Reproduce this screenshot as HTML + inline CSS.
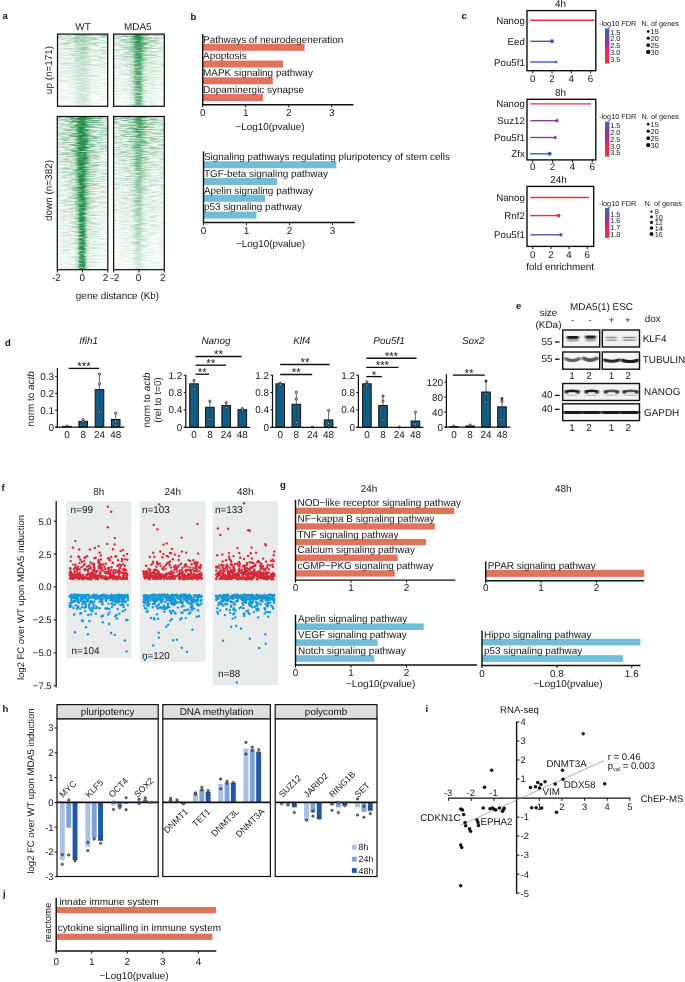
<!DOCTYPE html>
<html lang="en"><head><meta charset="utf-8"><title>Figure</title>
<style>
html,body{margin:0;padding:0;background:#fff}
svg{display:block;will-change:transform;text-rendering:geometricPrecision}
svg{font-family:"Liberation Sans",Arial,sans-serif;font-size:9.94px}
svg text{fill:#151515}
</style></head><body>
<svg width="685" height="982" viewBox="0 0 685 982">
<rect width="685" height="982" fill="#fff"/>
<defs>
<filter id="hm" x="0" y="0" width="1" height="1" color-interpolation-filters="sRGB">
<feTurbulence type="fractalNoise" baseFrequency="0.1 0.85" numOctaves="3" seed="7" result="t"/>
<feColorMatrix in="t" type="matrix" values="0 0 0 0 1  0 0 0 0 1  0 0 0 0 1  2.4 0 0 0 -0.85" result="n"/>
<feComposite in="n" in2="SourceGraphic" operator="arithmetic" k1="0.9" k2="0" k3="0.1" k4="0"/>
</filter>
<filter id="hm2" x="0" y="0" width="1" height="1" color-interpolation-filters="sRGB">
<feTurbulence type="fractalNoise" baseFrequency="0.12 0.8" numOctaves="2" seed="11" result="t"/>
<feColorMatrix in="t" type="matrix" values="0 0 0 0 1  0 0 0 0 1  0 0 0 0 1  2.4 0 0 0 -0.32" result="n"/>
<feComposite in="n" in2="SourceGraphic" operator="arithmetic" k1="1" k2="0" k3="0" k4="0"/>
</filter>
<linearGradient id="bandS" x1="0" y1="0" x2="1" y2="0"><stop offset="0" stop-color="#1d8c44" stop-opacity="0"/><stop offset=".22" stop-color="#1d8c44" stop-opacity=".15"/><stop offset=".36" stop-color="#1d8c44" stop-opacity=".8"/><stop offset=".44" stop-color="#1d8c44" stop-opacity="1"/><stop offset=".56" stop-color="#1d8c44" stop-opacity="1"/><stop offset=".64" stop-color="#1d8c44" stop-opacity=".8"/><stop offset=".78" stop-color="#1d8c44" stop-opacity=".15"/><stop offset="1" stop-color="#1d8c44" stop-opacity="0"/></linearGradient>
<linearGradient id="haloS" x1="0" y1="0" x2="1" y2="0"><stop offset="0" stop-color="#1d8c44" stop-opacity="0"/><stop offset=".5" stop-color="#1d8c44" stop-opacity="1"/><stop offset="1" stop-color="#1d8c44" stop-opacity="0"/></linearGradient>
</defs>
<text x="2.40" y="19.30" font-size="9.5" font-weight="bold">a</text>
<text x="83.00" y="30.30" text-anchor="middle">WT</text>
<text x="137.80" y="30.30" text-anchor="middle">MDA5</text>
<defs><linearGradient id="hg1" gradientUnits="userSpaceOnUse" x1="0" y1="34.1" x2="0" y2="106.3"><stop offset="0" stop-color="#fff" stop-opacity="1"/><stop offset="0.1" stop-color="#fff" stop-opacity="0.66"/><stop offset="0.5" stop-color="#fff" stop-opacity="0.36"/><stop offset="1" stop-color="#fff" stop-opacity="0.17"/></linearGradient><mask id="hk1"><rect x="57.5" y="34.1" width="50.2" height="72.2" fill="url(#hg1)"/></mask></defs>
<g filter="url(#hm)"><rect x="57.5" y="34.1" width="50.2" height="72.2" fill="#1d8c44" fill-opacity="0.6" mask="url(#hk1)"/></g>
<g filter="url(#hm2)">
<defs><linearGradient id="hg2" gradientUnits="userSpaceOnUse" x1="0" y1="34.1" x2="0" y2="106.3"><stop offset="0" stop-color="#fff" stop-opacity="1"/><stop offset="0.15" stop-color="#fff" stop-opacity="0.8"/><stop offset="1" stop-color="#fff" stop-opacity="0.45"/></linearGradient><mask id="hk2"><rect x="57.5" y="34.1" width="50.2" height="72.2" fill="url(#hg2)"/></mask></defs>
<g mask="url(#hk2)"><rect x="65.2" y="34.1" width="34.0" height="72.2" fill="url(#bandS)" fill-opacity="0.3"/></g>
</g>
<rect x="57.50" y="34.10" width="50.20" height="72.20" fill="none" stroke="#111" stroke-width="1.25"/>
<defs><linearGradient id="hg3" gradientUnits="userSpaceOnUse" x1="0" y1="34.1" x2="0" y2="106.3"><stop offset="0" stop-color="#fff" stop-opacity="1"/><stop offset="0.1" stop-color="#fff" stop-opacity="0.66"/><stop offset="0.5" stop-color="#fff" stop-opacity="0.36"/><stop offset="1" stop-color="#fff" stop-opacity="0.17"/></linearGradient><mask id="hk3"><rect x="113.6" y="34.1" width="50.7" height="72.2" fill="url(#hg3)"/></mask></defs>
<g filter="url(#hm)"><rect x="113.6" y="34.1" width="50.7" height="72.2" fill="#1d8c44" fill-opacity="0.6" mask="url(#hk3)"/></g>
<defs><linearGradient id="hg4" gradientUnits="userSpaceOnUse" x1="0" y1="34.1" x2="0" y2="106.3"><stop offset="0" stop-color="#fff" stop-opacity="1"/><stop offset="0.5" stop-color="#fff" stop-opacity="0.5"/><stop offset="1" stop-color="#fff" stop-opacity="0.2"/></linearGradient><mask id="hk4"><rect x="113.6" y="34.1" width="50.7" height="72.2" fill="url(#hg4)"/></mask></defs>
<g filter="url(#hm)"><g mask="url(#hk4)"><rect x="118.5" y="34.1" width="40.0" height="72.2" fill="url(#haloS)" fill-opacity="0.6"/></g></g>
<g filter="url(#hm2)">
<defs><linearGradient id="hg5" gradientUnits="userSpaceOnUse" x1="0" y1="34.1" x2="0" y2="106.3"><stop offset="0" stop-color="#fff" stop-opacity="1"/><stop offset="1" stop-color="#fff" stop-opacity="0.82"/></linearGradient><mask id="hk5"><rect x="113.6" y="34.1" width="50.7" height="72.2" fill="url(#hg5)"/></mask></defs>
<g mask="url(#hk5)"><rect x="129.0" y="34.1" width="19.0" height="72.2" fill="url(#bandS)" fill-opacity="0.82"/></g>
<defs><linearGradient id="hg6" gradientUnits="userSpaceOnUse" x1="0" y1="34.1" x2="0" y2="106.3"><stop offset="0" stop-color="#fff" stop-opacity="1"/><stop offset="0.4" stop-color="#fff" stop-opacity="0.2"/><stop offset="1" stop-color="#fff" stop-opacity="0"/></linearGradient><mask id="hk6"><rect x="113.6" y="34.1" width="50.7" height="72.2" fill="url(#hg6)"/></mask></defs>
<g mask="url(#hk6)"><rect x="122.5" y="34.1" width="32.0" height="72.2" fill="url(#bandS)" fill-opacity="0.5"/></g>
</g>
<rect x="113.60" y="34.10" width="50.70" height="72.20" fill="none" stroke="#111" stroke-width="1.25"/>
<defs><linearGradient id="hg7" gradientUnits="userSpaceOnUse" x1="0" y1="116.5" x2="0" y2="269.7"><stop offset="0" stop-color="#fff" stop-opacity="1"/><stop offset="0.05" stop-color="#fff" stop-opacity="0.72"/><stop offset="0.35" stop-color="#fff" stop-opacity="0.44"/><stop offset="0.7" stop-color="#fff" stop-opacity="0.25"/><stop offset="1" stop-color="#fff" stop-opacity="0.15"/></linearGradient><mask id="hk7"><rect x="57.3" y="116.5" width="50.5" height="153.2" fill="url(#hg7)"/></mask></defs>
<g filter="url(#hm)"><rect x="57.3" y="116.5" width="50.5" height="153.2" fill="#1d8c44" fill-opacity="0.72" mask="url(#hk7)"/></g>
<defs><linearGradient id="hg8" gradientUnits="userSpaceOnUse" x1="0" y1="116.5" x2="0" y2="269.7"><stop offset="0" stop-color="#fff" stop-opacity="1"/><stop offset="0.4" stop-color="#fff" stop-opacity="0.6"/><stop offset="1" stop-color="#fff" stop-opacity="0.15"/></linearGradient><mask id="hk8"><rect x="57.3" y="116.5" width="50.5" height="153.2" fill="url(#hg8)"/></mask></defs>
<g filter="url(#hm)"><g mask="url(#hk8)"><rect x="60.1" y="116.5" width="44.0" height="153.2" fill="url(#haloS)" fill-opacity="0.9"/></g></g>
<g filter="url(#hm2)">
<defs><linearGradient id="hg9" gradientUnits="userSpaceOnUse" x1="0" y1="116.5" x2="0" y2="269.7"><stop offset="0" stop-color="#fff" stop-opacity="1"/><stop offset="1" stop-color="#fff" stop-opacity="0.95"/></linearGradient><mask id="hk9"><rect x="57.3" y="116.5" width="50.5" height="153.2" fill="url(#hg9)"/></mask></defs>
<g mask="url(#hk9)"><rect x="74.1" y="116.5" width="16.0" height="153.2" fill="url(#bandS)" fill-opacity="1.0"/></g>
<defs><linearGradient id="hg10" gradientUnits="userSpaceOnUse" x1="0" y1="116.5" x2="0" y2="269.7"><stop offset="0" stop-color="#fff" stop-opacity="1"/><stop offset="1" stop-color="#fff" stop-opacity="0.9"/></linearGradient><mask id="hk10"><rect x="57.3" y="116.5" width="50.5" height="153.2" fill="url(#hg10)"/></mask></defs>
<g mask="url(#hk10)"><rect x="75.1" y="116.5" width="14.0" height="153.2" fill="url(#bandS)" fill-opacity="0.6"/></g>
<defs><linearGradient id="hg11" gradientUnits="userSpaceOnUse" x1="0" y1="116.5" x2="0" y2="269.7"><stop offset="0" stop-color="#fff" stop-opacity="1"/><stop offset="0.3" stop-color="#fff" stop-opacity="0.7"/><stop offset="0.7" stop-color="#fff" stop-opacity="0.15"/><stop offset="1" stop-color="#fff" stop-opacity="0"/></linearGradient><mask id="hk11"><rect x="57.3" y="116.5" width="50.5" height="153.2" fill="url(#hg11)"/></mask></defs>
<g mask="url(#hk11)"><rect x="68.6" y="116.5" width="27.0" height="153.2" fill="url(#bandS)" fill-opacity="0.9"/></g>
</g>
<rect x="57.30" y="116.50" width="50.50" height="153.20" fill="none" stroke="#111" stroke-width="1.25"/>
<defs><linearGradient id="hg12" gradientUnits="userSpaceOnUse" x1="0" y1="116.5" x2="0" y2="269.7"><stop offset="0" stop-color="#fff" stop-opacity="1"/><stop offset="0.05" stop-color="#fff" stop-opacity="0.72"/><stop offset="0.35" stop-color="#fff" stop-opacity="0.44"/><stop offset="0.7" stop-color="#fff" stop-opacity="0.25"/><stop offset="1" stop-color="#fff" stop-opacity="0.15"/></linearGradient><mask id="hk12"><rect x="113.6" y="116.5" width="50.7" height="153.2" fill="url(#hg12)"/></mask></defs>
<g filter="url(#hm)"><rect x="113.6" y="116.5" width="50.7" height="153.2" fill="#1d8c44" fill-opacity="0.72" mask="url(#hk12)"/></g>
<defs><linearGradient id="hg13" gradientUnits="userSpaceOnUse" x1="0" y1="116.5" x2="0" y2="269.7"><stop offset="0" stop-color="#fff" stop-opacity="1"/><stop offset="0.4" stop-color="#fff" stop-opacity="0.4"/><stop offset="1" stop-color="#fff" stop-opacity="0.1"/></linearGradient><mask id="hk13"><rect x="113.6" y="116.5" width="50.7" height="153.2" fill="url(#hg13)"/></mask></defs>
<g filter="url(#hm)"><g mask="url(#hk13)"><rect x="118.5" y="116.5" width="40.0" height="153.2" fill="url(#haloS)" fill-opacity="0.5"/></g></g>
<g filter="url(#hm2)">
<defs><linearGradient id="hg14" gradientUnits="userSpaceOnUse" x1="0" y1="116.5" x2="0" y2="269.7"><stop offset="0" stop-color="#fff" stop-opacity="1"/><stop offset="0.4" stop-color="#fff" stop-opacity="0.65"/><stop offset="1" stop-color="#fff" stop-opacity="0.22"/></linearGradient><mask id="hk14"><rect x="113.6" y="116.5" width="50.7" height="153.2" fill="url(#hg14)"/></mask></defs>
<g mask="url(#hk14)"><rect x="130.5" y="116.5" width="16.0" height="153.2" fill="url(#bandS)" fill-opacity="0.6"/></g>
<defs><linearGradient id="hg15" gradientUnits="userSpaceOnUse" x1="0" y1="116.5" x2="0" y2="269.7"><stop offset="0" stop-color="#fff" stop-opacity="1"/><stop offset="0.3" stop-color="#fff" stop-opacity="0.3"/><stop offset="1" stop-color="#fff" stop-opacity="0"/></linearGradient><mask id="hk15"><rect x="113.6" y="116.5" width="50.7" height="153.2" fill="url(#hg15)"/></mask></defs>
<g mask="url(#hk15)"><rect x="123.5" y="116.5" width="30.0" height="153.2" fill="url(#bandS)" fill-opacity="0.35"/></g>
</g>
<rect x="113.60" y="116.50" width="50.70" height="153.20" fill="none" stroke="#111" stroke-width="1.25"/>
<text x="52.00" y="70.00" text-anchor="middle" transform="rotate(-90 52.00 70.00)">up (n=171)</text>
<text x="52.00" y="190.50" text-anchor="middle" transform="rotate(-90 52.00 190.50)">down (n=382)</text>
<line x1="57.30" y1="270.00" x2="57.30" y2="272.50" stroke="#111" stroke-width="1"/>
<text x="56.30" y="281.00" text-anchor="middle">-2</text>
<line x1="82.55" y1="270.00" x2="82.55" y2="272.50" stroke="#111" stroke-width="1"/>
<text x="82.15" y="281.00" text-anchor="middle">0</text>
<line x1="107.80" y1="270.00" x2="107.80" y2="272.50" stroke="#111" stroke-width="1"/>
<text x="105.60" y="281.00" text-anchor="middle">2</text>
<line x1="113.60" y1="270.00" x2="113.60" y2="272.50" stroke="#111" stroke-width="1"/>
<text x="114.80" y="281.00" text-anchor="middle">-2</text>
<line x1="138.95" y1="270.00" x2="138.95" y2="272.50" stroke="#111" stroke-width="1"/>
<text x="138.55" y="281.00" text-anchor="middle">0</text>
<line x1="164.30" y1="270.00" x2="164.30" y2="272.50" stroke="#111" stroke-width="1"/>
<text x="162.70" y="281.00" text-anchor="middle">2</text>
<text x="117.50" y="299.00" text-anchor="middle">gene distance (Kb)</text>
<text x="190.50" y="20.00" font-size="9.5" font-weight="bold">b</text>
<rect x="202.70" y="43.80" width="101.91" height="7.00" fill="#e0735c"/>
<rect x="202.70" y="60.55" width="80.41" height="7.00" fill="#e0735c"/>
<rect x="202.70" y="77.30" width="70.09" height="7.00" fill="#e0735c"/>
<rect x="202.70" y="94.05" width="60.20" height="7.00" fill="#e0735c"/>
<text x="203.10" y="42.50">Pathways of neurodegeneration</text>
<text x="203.10" y="59.25">Apoptosis</text>
<text x="203.10" y="76.00">MAPK signaling pathway</text>
<text x="203.10" y="92.75">Dopaminergic synapse</text>
<line x1="202.70" y1="34.00" x2="202.70" y2="105.42" stroke="#111" stroke-width="1.45"/>
<line x1="201.97" y1="104.70" x2="353.50" y2="104.70" stroke="#111" stroke-width="1.45"/>
<line x1="202.70" y1="104.70" x2="202.70" y2="107.30" stroke="#111" stroke-width="1"/>
<text x="202.70" y="116.20" text-anchor="middle">0</text>
<line x1="245.70" y1="104.70" x2="245.70" y2="107.30" stroke="#111" stroke-width="1"/>
<text x="245.70" y="116.20" text-anchor="middle">1</text>
<line x1="288.70" y1="104.70" x2="288.70" y2="107.30" stroke="#111" stroke-width="1"/>
<text x="288.70" y="116.20" text-anchor="middle">2</text>
<line x1="331.70" y1="104.70" x2="331.70" y2="107.30" stroke="#111" stroke-width="1"/>
<text x="331.70" y="116.20" text-anchor="middle">3</text>
<text x="270.00" y="130.20" text-anchor="middle">−Log10(pvalue)</text>
<rect x="203.50" y="161.30" width="132.87" height="7.00" fill="#72bcd8"/>
<rect x="203.50" y="178.05" width="73.53" height="7.00" fill="#72bcd8"/>
<rect x="203.50" y="194.80" width="61.92" height="7.00" fill="#72bcd8"/>
<rect x="203.50" y="211.55" width="52.89" height="7.00" fill="#72bcd8"/>
<text x="203.90" y="160.00">Signaling pathways regulating pluripotency of stem cells</text>
<text x="203.90" y="176.75">TGF-beta signaling pathway</text>
<text x="203.90" y="193.50">Apelin signaling pathway</text>
<text x="203.90" y="210.25">p53 signaling pathway</text>
<line x1="203.50" y1="151.40" x2="203.50" y2="223.22" stroke="#111" stroke-width="1.45"/>
<line x1="202.78" y1="222.50" x2="355.00" y2="222.50" stroke="#111" stroke-width="1.45"/>
<line x1="203.50" y1="222.50" x2="203.50" y2="225.10" stroke="#111" stroke-width="1"/>
<text x="203.50" y="234.00" text-anchor="middle">0</text>
<line x1="246.50" y1="222.50" x2="246.50" y2="225.10" stroke="#111" stroke-width="1"/>
<text x="246.50" y="234.00" text-anchor="middle">1</text>
<line x1="289.50" y1="222.50" x2="289.50" y2="225.10" stroke="#111" stroke-width="1"/>
<text x="289.50" y="234.00" text-anchor="middle">2</text>
<line x1="332.50" y1="222.50" x2="332.50" y2="225.10" stroke="#111" stroke-width="1"/>
<text x="332.50" y="234.00" text-anchor="middle">3</text>
<text x="270.50" y="247.30" text-anchor="middle">−Log10(pvalue)</text>
<text x="461.50" y="19.30" font-size="9.5" font-weight="bold">c</text>
<defs><linearGradient id="cb1" x1="0" y1="0" x2="0" y2="1"><stop offset="0" stop-color="#3e62ba"/><stop offset=".15" stop-color="#4a5eb4"/><stop offset=".24" stop-color="#7a42a0"/><stop offset=".36" stop-color="#88399c"/><stop offset=".46" stop-color="#b52b8c"/><stop offset=".56" stop-color="#c92a7c"/><stop offset=".66" stop-color="#e62c5a"/><stop offset="1" stop-color="#ef3049"/></linearGradient></defs>
<text x="560.50" y="7.20" text-anchor="middle">4h</text>
<rect x="527.00" y="10.60" width="68.80" height="60.10" fill="none" stroke="#111" stroke-width="1.4"/>
<text x="524.80" y="23.70" font-size="9.7" text-anchor="end">Nanog</text>
<line x1="530.30" y1="20.20" x2="593.50" y2="20.20" stroke="#ee2d45" stroke-width="1.4"/>
<circle cx="593.50" cy="20.20" r="0.9" fill="#ee2d45"/>
<text x="524.80" y="44.80" font-size="9.7" text-anchor="end">Eed</text>
<line x1="530.30" y1="41.30" x2="552.00" y2="41.30" stroke="#445aaf" stroke-width="1.4"/>
<circle cx="552.00" cy="41.30" r="2.0" fill="#445aaf"/>
<text x="524.80" y="65.50" font-size="9.7" text-anchor="end">Pou5f1</text>
<line x1="530.30" y1="62.00" x2="556.05" y2="62.00" stroke="#445aaf" stroke-width="1.4"/>
<circle cx="556.05" cy="62.00" r="1.3" fill="#445aaf"/>
<line x1="532.70" y1="70.70" x2="532.70" y2="73.30" stroke="#111" stroke-width="1"/>
<text x="532.70" y="82.10" font-size="9.8" text-anchor="middle">0</text>
<line x1="552.00" y1="70.70" x2="552.00" y2="73.30" stroke="#111" stroke-width="1"/>
<text x="552.00" y="82.10" font-size="9.8" text-anchor="middle">2</text>
<line x1="571.30" y1="70.70" x2="571.30" y2="73.30" stroke="#111" stroke-width="1"/>
<text x="571.30" y="82.10" font-size="9.8" text-anchor="middle">4</text>
<line x1="590.60" y1="70.70" x2="590.60" y2="73.30" stroke="#111" stroke-width="1"/>
<text x="590.60" y="82.10" font-size="9.8" text-anchor="middle">6</text>
<text x="599.00" y="25.90" font-size="7.3">-log10 FDR</text>
<text x="641.60" y="25.90" font-size="7.3">N. of genes</text>
<rect x="605.00" y="28.40" width="4.40" height="35.10" fill="url(#cb1)"/>
<text x="610.20" y="34.50" font-size="7.3">1.5</text>
<text x="610.20" y="41.40" font-size="7.3">2.0</text>
<text x="610.20" y="48.40" font-size="7.3">2.5</text>
<text x="610.20" y="55.20" font-size="7.3">3.0</text>
<text x="610.20" y="62.20" font-size="7.3">3.5</text>
<circle cx="648.20" cy="31.40" r="1.35" fill="#111"/>
<text x="650.60" y="34.00" font-size="7.3">15</text>
<circle cx="648.20" cy="38.20" r="1.65" fill="#111"/>
<text x="650.60" y="40.80" font-size="7.3">20</text>
<circle cx="648.20" cy="45.20" r="1.9" fill="#111"/>
<text x="650.60" y="47.80" font-size="7.3">25</text>
<circle cx="648.20" cy="51.90" r="2.2" fill="#111"/>
<text x="650.60" y="54.50" font-size="7.3">30</text>
<text x="560.60" y="96.20" text-anchor="middle">8h</text>
<rect x="527.00" y="99.30" width="68.80" height="60.60" fill="none" stroke="#111" stroke-width="1.4"/>
<text x="524.80" y="107.40" font-size="9.7" text-anchor="end">Nanog</text>
<line x1="530.30" y1="103.90" x2="590.00" y2="103.90" stroke="#ee2d45" stroke-width="1.4"/>
<circle cx="590.00" cy="103.90" r="0.8" fill="#ee2d45"/>
<text x="524.80" y="124.20" font-size="9.7" text-anchor="end">Suz12</text>
<line x1="530.30" y1="120.70" x2="556.93" y2="120.70" stroke="#8d3a9d" stroke-width="1.4"/>
<circle cx="556.93" cy="120.70" r="1.7" fill="#8d3a9d"/>
<text x="524.80" y="141.00" font-size="9.7" text-anchor="end">Pou5f1</text>
<line x1="530.30" y1="137.50" x2="555.14" y2="137.50" stroke="#8d3a9d" stroke-width="1.4"/>
<circle cx="555.14" cy="137.50" r="1.6" fill="#8d3a9d"/>
<text x="524.80" y="157.30" font-size="9.7" text-anchor="end">Zfx</text>
<line x1="530.30" y1="153.80" x2="549.68" y2="153.80" stroke="#445aaf" stroke-width="1.4"/>
<circle cx="549.68" cy="153.80" r="2.0" fill="#445aaf"/>
<line x1="532.70" y1="159.90" x2="532.70" y2="162.50" stroke="#111" stroke-width="1"/>
<text x="532.70" y="170.20" font-size="9.8" text-anchor="middle">0</text>
<line x1="552.56" y1="159.90" x2="552.56" y2="162.50" stroke="#111" stroke-width="1"/>
<text x="552.56" y="170.20" font-size="9.8" text-anchor="middle">2</text>
<line x1="572.42" y1="159.90" x2="572.42" y2="162.50" stroke="#111" stroke-width="1"/>
<text x="572.42" y="170.20" font-size="9.8" text-anchor="middle">4</text>
<line x1="592.28" y1="159.90" x2="592.28" y2="162.50" stroke="#111" stroke-width="1"/>
<text x="592.28" y="170.20" font-size="9.8" text-anchor="middle">6</text>
<text x="599.00" y="119.10" font-size="7.3">-log10 FDR</text>
<text x="641.60" y="119.10" font-size="7.3">N. of genes</text>
<rect x="605.00" y="121.60" width="4.40" height="35.00" fill="url(#cb1)"/>
<text x="610.20" y="127.80" font-size="7.3">1.5</text>
<text x="610.20" y="134.80" font-size="7.3">2.0</text>
<text x="610.20" y="141.80" font-size="7.3">2.5</text>
<text x="610.20" y="148.50" font-size="7.3">3.0</text>
<text x="610.20" y="155.30" font-size="7.3">3.5</text>
<circle cx="648.20" cy="124.20" r="1.35" fill="#111"/>
<text x="650.60" y="126.80" font-size="7.3">15</text>
<circle cx="648.20" cy="131.20" r="1.65" fill="#111"/>
<text x="650.60" y="133.80" font-size="7.3">20</text>
<circle cx="648.20" cy="138.20" r="1.9" fill="#111"/>
<text x="650.60" y="140.80" font-size="7.3">25</text>
<circle cx="648.20" cy="145.10" r="2.2" fill="#111"/>
<text x="650.60" y="147.70" font-size="7.3">30</text>
<text x="558.60" y="182.60" text-anchor="middle">24h</text>
<rect x="527.00" y="186.40" width="66.70" height="60.00" fill="none" stroke="#111" stroke-width="1.4"/>
<text x="524.80" y="201.00" font-size="9.7" text-anchor="end">Nanog</text>
<line x1="530.30" y1="197.50" x2="588.21" y2="197.50" stroke="#ee2d45" stroke-width="1.4"/>
<circle cx="588.21" cy="197.50" r="0.8" fill="#ee2d45"/>
<text x="524.80" y="219.10" font-size="9.7" text-anchor="end">Rnf2</text>
<line x1="530.30" y1="215.60" x2="558.54" y2="215.60" stroke="#ee2d45" stroke-width="1.4"/>
<circle cx="558.54" cy="215.60" r="1.9" fill="#ee2d45"/>
<text x="524.80" y="238.30" font-size="9.7" text-anchor="end">Pou5f1</text>
<line x1="530.30" y1="234.80" x2="560.91" y2="234.80" stroke="#445aaf" stroke-width="1.4"/>
<circle cx="560.91" cy="234.80" r="1.7" fill="#445aaf"/>
<line x1="532.70" y1="246.40" x2="532.70" y2="249.00" stroke="#111" stroke-width="1"/>
<text x="532.70" y="257.60" font-size="9.8" text-anchor="middle">0</text>
<line x1="550.90" y1="246.40" x2="550.90" y2="249.00" stroke="#111" stroke-width="1"/>
<text x="550.90" y="257.60" font-size="9.8" text-anchor="middle">2</text>
<line x1="569.10" y1="246.40" x2="569.10" y2="249.00" stroke="#111" stroke-width="1"/>
<text x="569.10" y="257.60" font-size="9.8" text-anchor="middle">4</text>
<line x1="587.30" y1="246.40" x2="587.30" y2="249.00" stroke="#111" stroke-width="1"/>
<text x="587.30" y="257.60" font-size="9.8" text-anchor="middle">6</text>
<text x="599.00" y="206.00" font-size="7.3">-log10 FDR</text>
<text x="644.60" y="206.00" font-size="7.3">N. of genes</text>
<rect x="605.00" y="207.90" width="4.40" height="30.00" fill="url(#cb1)"/>
<text x="610.20" y="217.00" font-size="7.3">1.5</text>
<text x="610.20" y="223.20" font-size="7.3">1.6</text>
<text x="610.20" y="229.50" font-size="7.3">1.7</text>
<text x="610.20" y="236.70" font-size="7.3">1.8</text>
<circle cx="651.50" cy="211.70" r="1.1" fill="#111"/>
<text x="654.80" y="214.30" font-size="7.3">8</text>
<circle cx="651.50" cy="216.90" r="1.4" fill="#111"/>
<text x="654.80" y="219.50" font-size="7.3">10</text>
<circle cx="651.50" cy="222.40" r="1.6" fill="#111"/>
<text x="654.80" y="225.00" font-size="7.3">12</text>
<circle cx="651.50" cy="228.10" r="1.8" fill="#111"/>
<text x="654.80" y="230.70" font-size="7.3">14</text>
<circle cx="651.50" cy="234.10" r="2.0" fill="#111"/>
<text x="654.80" y="236.70" font-size="7.3">16</text>
<text x="560.20" y="270.40" text-anchor="middle">fold enrichment</text>
<text x="5.00" y="346.00" font-size="9.5" font-weight="bold">d</text>
<text x="88.60" y="343.80" text-anchor="middle" font-style="italic">Ifih1</text>
<rect x="62.70" y="426.43" width="8.60" height="0.67" fill="#125c84" stroke="#111" stroke-width="1.0"/>
<rect x="78.90" y="421.36" width="8.60" height="5.74" fill="#125c84" stroke="#111" stroke-width="1.0"/>
<rect x="95.20" y="389.65" width="8.60" height="37.45" fill="#125c84" stroke="#111" stroke-width="1.0"/>
<rect x="111.40" y="419.51" width="8.60" height="7.59" fill="#125c84" stroke="#111" stroke-width="1.0"/>
<line x1="83.20" y1="419.68" x2="83.20" y2="422.38" stroke="#3a3a3a" stroke-width="0.75"/>
<line x1="99.50" y1="374.13" x2="99.50" y2="412.09" stroke="#3a3a3a" stroke-width="0.75"/>
<line x1="115.70" y1="413.10" x2="115.70" y2="425.24" stroke="#3a3a3a" stroke-width="0.75"/>
<circle cx="67.00" cy="426.09" r="1.15" fill="#b9c3c9" stroke="#1e1e1e" stroke-width="0.7"/>
<circle cx="83.20" cy="419.68" r="1.15" fill="#b9c3c9" stroke="#1e1e1e" stroke-width="0.7"/>
<circle cx="83.20" cy="421.53" r="1.15" fill="#b9c3c9" stroke="#1e1e1e" stroke-width="0.7"/>
<circle cx="99.50" cy="374.13" r="1.15" fill="#b9c3c9" stroke="#1e1e1e" stroke-width="0.7"/>
<circle cx="99.50" cy="383.74" r="1.15" fill="#b9c3c9" stroke="#1e1e1e" stroke-width="0.7"/>
<circle cx="99.50" cy="412.09" r="1.15" fill="#b9c3c9" stroke="#1e1e1e" stroke-width="0.7"/>
<circle cx="115.70" cy="413.10" r="1.15" fill="#b9c3c9" stroke="#1e1e1e" stroke-width="0.7"/>
<circle cx="115.70" cy="421.36" r="1.15" fill="#b9c3c9" stroke="#1e1e1e" stroke-width="0.7"/>
<circle cx="115.70" cy="425.24" r="1.15" fill="#b9c3c9" stroke="#1e1e1e" stroke-width="0.7"/>
<line x1="57.40" y1="368.00" x2="57.40" y2="427.70" stroke="#111" stroke-width="1.25"/>
<line x1="55.40" y1="427.10" x2="124.50" y2="427.10" stroke="#111" stroke-width="1.25"/>
<line x1="55.20" y1="427.10" x2="57.40" y2="427.10" stroke="#111" stroke-width="1"/>
<text x="54.00" y="430.60" text-anchor="end">0</text>
<line x1="55.20" y1="410.23" x2="57.40" y2="410.23" stroke="#111" stroke-width="1"/>
<text x="54.00" y="413.73" text-anchor="end">0.1</text>
<line x1="55.20" y1="393.36" x2="57.40" y2="393.36" stroke="#111" stroke-width="1"/>
<text x="54.00" y="396.86" text-anchor="end">0.2</text>
<line x1="55.20" y1="376.49" x2="57.40" y2="376.49" stroke="#111" stroke-width="1"/>
<text x="54.00" y="379.99" text-anchor="end">0.3</text>
<text x="67.00" y="437.80" text-anchor="middle">0</text>
<text x="83.20" y="437.80" text-anchor="middle">8</text>
<text x="99.50" y="437.80" text-anchor="middle">24</text>
<text x="115.70" y="437.80" text-anchor="middle">48</text>
<line x1="68.70" y1="368.40" x2="99.20" y2="368.40" stroke="#111" stroke-width="1.35"/>
<text x="83.95" y="370.30" font-size="11.5" text-anchor="middle">***</text>
<text x="34.40" y="398.80" text-anchor="middle" transform="rotate(-90 34.40 398.80)">norm to <tspan font-style="italic">actb</tspan></text>
<text x="216.00" y="343.80" text-anchor="middle" font-style="italic">Nanog</text>
<rect x="189.70" y="383.80" width="8.60" height="43.50" fill="#125c84" stroke="#111" stroke-width="1.0"/>
<rect x="205.60" y="407.29" width="8.60" height="20.01" fill="#125c84" stroke="#111" stroke-width="1.0"/>
<rect x="221.90" y="405.55" width="8.60" height="21.75" fill="#125c84" stroke="#111" stroke-width="1.0"/>
<rect x="238.00" y="409.68" width="8.60" height="17.62" fill="#125c84" stroke="#111" stroke-width="1.0"/>
<line x1="194.00" y1="380.54" x2="194.00" y2="389.24" stroke="#3a3a3a" stroke-width="0.75"/>
<line x1="209.90" y1="401.20" x2="209.90" y2="419.47" stroke="#3a3a3a" stroke-width="0.75"/>
<line x1="226.20" y1="402.72" x2="226.20" y2="408.60" stroke="#3a3a3a" stroke-width="0.75"/>
<line x1="242.30" y1="408.60" x2="242.30" y2="410.34" stroke="#3a3a3a" stroke-width="0.75"/>
<circle cx="194.00" cy="380.54" r="1.15" fill="#b9c3c9" stroke="#1e1e1e" stroke-width="0.7"/>
<circle cx="194.00" cy="389.24" r="1.15" fill="#b9c3c9" stroke="#1e1e1e" stroke-width="0.7"/>
<circle cx="209.90" cy="401.20" r="1.15" fill="#b9c3c9" stroke="#1e1e1e" stroke-width="0.7"/>
<circle cx="209.90" cy="419.47" r="1.15" fill="#b9c3c9" stroke="#1e1e1e" stroke-width="0.7"/>
<circle cx="226.20" cy="402.72" r="1.15" fill="#b9c3c9" stroke="#1e1e1e" stroke-width="0.7"/>
<circle cx="226.20" cy="407.73" r="1.15" fill="#b9c3c9" stroke="#1e1e1e" stroke-width="0.7"/>
<circle cx="242.30" cy="408.60" r="1.15" fill="#b9c3c9" stroke="#1e1e1e" stroke-width="0.7"/>
<circle cx="242.30" cy="410.12" r="1.15" fill="#b9c3c9" stroke="#1e1e1e" stroke-width="0.7"/>
<line x1="185.80" y1="374.90" x2="185.80" y2="427.90" stroke="#111" stroke-width="1.25"/>
<line x1="184.00" y1="427.30" x2="250.00" y2="427.30" stroke="#111" stroke-width="1.25"/>
<line x1="183.60" y1="427.30" x2="185.80" y2="427.30" stroke="#111" stroke-width="1"/>
<text x="182.40" y="430.80" text-anchor="end">0</text>
<line x1="183.60" y1="409.90" x2="185.80" y2="409.90" stroke="#111" stroke-width="1"/>
<text x="182.40" y="413.40" text-anchor="end">0.4</text>
<line x1="183.60" y1="392.50" x2="185.80" y2="392.50" stroke="#111" stroke-width="1"/>
<text x="182.40" y="396.00" text-anchor="end">0.8</text>
<line x1="183.60" y1="375.10" x2="185.80" y2="375.10" stroke="#111" stroke-width="1"/>
<text x="182.40" y="378.60" text-anchor="end">1.2</text>
<text x="194.00" y="437.80" text-anchor="middle">0</text>
<text x="209.90" y="437.80" text-anchor="middle">8</text>
<text x="226.20" y="437.80" text-anchor="middle">24</text>
<text x="242.30" y="437.80" text-anchor="middle">48</text>
<line x1="195.50" y1="356.50" x2="241.70" y2="356.50" stroke="#111" stroke-width="1.35"/>
<text x="218.60" y="358.40" font-size="11.5" text-anchor="middle">**</text>
<line x1="195.50" y1="365.20" x2="226.00" y2="365.20" stroke="#111" stroke-width="1.35"/>
<text x="210.75" y="367.10" font-size="11.5" text-anchor="middle">**</text>
<line x1="195.50" y1="374.20" x2="209.00" y2="374.20" stroke="#111" stroke-width="1.35"/>
<text x="202.25" y="376.10" font-size="11.5" text-anchor="middle">**</text>
<text x="149.60" y="400.00" text-anchor="middle" transform="rotate(-90 149.60 400.00)">norm to <tspan font-style="italic">actb</tspan></text>
<text x="161.40" y="400.00" text-anchor="middle" transform="rotate(-90 161.40 400.00)">(rel to t=0)</text>
<text x="301.70" y="343.80" text-anchor="middle" font-style="italic">Klf4</text>
<rect x="275.90" y="383.80" width="8.60" height="43.50" fill="#125c84" stroke="#111" stroke-width="1.0"/>
<rect x="292.00" y="404.25" width="8.60" height="23.05" fill="#125c84" stroke="#111" stroke-width="1.0"/>
<rect x="324.30" y="419.91" width="8.60" height="7.40" fill="#125c84" stroke="#111" stroke-width="1.0"/>
<line x1="296.30" y1="392.28" x2="296.30" y2="422.60" stroke="#3a3a3a" stroke-width="0.75"/>
<line x1="328.60" y1="410.51" x2="328.60" y2="426.95" stroke="#3a3a3a" stroke-width="0.75"/>
<circle cx="280.20" cy="383.15" r="1.15" fill="#b9c3c9" stroke="#1e1e1e" stroke-width="0.7"/>
<circle cx="280.20" cy="384.45" r="1.15" fill="#b9c3c9" stroke="#1e1e1e" stroke-width="0.7"/>
<circle cx="296.30" cy="392.28" r="1.15" fill="#b9c3c9" stroke="#1e1e1e" stroke-width="0.7"/>
<circle cx="296.30" cy="399.03" r="1.15" fill="#b9c3c9" stroke="#1e1e1e" stroke-width="0.7"/>
<circle cx="296.30" cy="422.60" r="1.15" fill="#b9c3c9" stroke="#1e1e1e" stroke-width="0.7"/>
<circle cx="312.50" cy="426.95" r="1.15" fill="#b9c3c9" stroke="#1e1e1e" stroke-width="0.7"/>
<circle cx="328.60" cy="410.51" r="1.15" fill="#b9c3c9" stroke="#1e1e1e" stroke-width="0.7"/>
<circle cx="328.60" cy="423.60" r="1.15" fill="#b9c3c9" stroke="#1e1e1e" stroke-width="0.7"/>
<circle cx="328.60" cy="426.95" r="1.15" fill="#b9c3c9" stroke="#1e1e1e" stroke-width="0.7"/>
<line x1="272.50" y1="374.90" x2="272.50" y2="427.90" stroke="#111" stroke-width="1.25"/>
<line x1="270.60" y1="427.30" x2="337.00" y2="427.30" stroke="#111" stroke-width="1.25"/>
<line x1="270.30" y1="427.30" x2="272.50" y2="427.30" stroke="#111" stroke-width="1"/>
<text x="269.10" y="430.80" text-anchor="end">0</text>
<line x1="270.30" y1="409.90" x2="272.50" y2="409.90" stroke="#111" stroke-width="1"/>
<text x="269.10" y="413.40" text-anchor="end">0.4</text>
<line x1="270.30" y1="392.50" x2="272.50" y2="392.50" stroke="#111" stroke-width="1"/>
<text x="269.10" y="396.00" text-anchor="end">0.8</text>
<line x1="270.30" y1="375.10" x2="272.50" y2="375.10" stroke="#111" stroke-width="1"/>
<text x="269.10" y="378.60" text-anchor="end">1.2</text>
<text x="280.20" y="437.80" text-anchor="middle">0</text>
<text x="296.30" y="437.80" text-anchor="middle">8</text>
<text x="312.50" y="437.80" text-anchor="middle">24</text>
<text x="328.60" y="437.80" text-anchor="middle">48</text>
<line x1="280.20" y1="364.50" x2="329.70" y2="364.50" stroke="#111" stroke-width="1.35"/>
<text x="304.95" y="366.40" font-size="11.5" text-anchor="middle">**</text>
<line x1="280.20" y1="374.50" x2="312.20" y2="374.50" stroke="#111" stroke-width="1.35"/>
<text x="296.20" y="376.40" font-size="11.5" text-anchor="middle">**</text>
<text x="389.00" y="343.80" text-anchor="middle" font-style="italic">Pou5f1</text>
<rect x="362.60" y="383.80" width="8.60" height="43.50" fill="#125c84" stroke="#111" stroke-width="1.0"/>
<rect x="378.70" y="405.55" width="8.60" height="21.75" fill="#125c84" stroke="#111" stroke-width="1.0"/>
<rect x="411.10" y="420.99" width="8.60" height="6.31" fill="#125c84" stroke="#111" stroke-width="1.0"/>
<line x1="383.00" y1="395.98" x2="383.00" y2="420.08" stroke="#3a3a3a" stroke-width="0.75"/>
<line x1="415.40" y1="412.21" x2="415.40" y2="427.13" stroke="#3a3a3a" stroke-width="0.75"/>
<circle cx="366.90" cy="381.80" r="1.15" fill="#b9c3c9" stroke="#1e1e1e" stroke-width="0.7"/>
<circle cx="366.90" cy="385.11" r="1.15" fill="#b9c3c9" stroke="#1e1e1e" stroke-width="0.7"/>
<circle cx="383.00" cy="395.98" r="1.15" fill="#b9c3c9" stroke="#1e1e1e" stroke-width="0.7"/>
<circle cx="383.00" cy="401.20" r="1.15" fill="#b9c3c9" stroke="#1e1e1e" stroke-width="0.7"/>
<circle cx="383.00" cy="420.08" r="1.15" fill="#b9c3c9" stroke="#1e1e1e" stroke-width="0.7"/>
<circle cx="399.20" cy="427.04" r="1.15" fill="#b9c3c9" stroke="#1e1e1e" stroke-width="0.7"/>
<circle cx="415.40" cy="412.21" r="1.15" fill="#b9c3c9" stroke="#1e1e1e" stroke-width="0.7"/>
<circle cx="415.40" cy="424.25" r="1.15" fill="#b9c3c9" stroke="#1e1e1e" stroke-width="0.7"/>
<circle cx="415.40" cy="427.13" r="1.15" fill="#b9c3c9" stroke="#1e1e1e" stroke-width="0.7"/>
<line x1="358.40" y1="374.90" x2="358.40" y2="427.90" stroke="#111" stroke-width="1.25"/>
<line x1="356.50" y1="427.30" x2="423.40" y2="427.30" stroke="#111" stroke-width="1.25"/>
<line x1="356.20" y1="427.30" x2="358.40" y2="427.30" stroke="#111" stroke-width="1"/>
<text x="355.00" y="430.80" text-anchor="end">0</text>
<line x1="356.20" y1="409.90" x2="358.40" y2="409.90" stroke="#111" stroke-width="1"/>
<text x="355.00" y="413.40" text-anchor="end">0.4</text>
<line x1="356.20" y1="392.50" x2="358.40" y2="392.50" stroke="#111" stroke-width="1"/>
<text x="355.00" y="396.00" text-anchor="end">0.8</text>
<line x1="356.20" y1="375.10" x2="358.40" y2="375.10" stroke="#111" stroke-width="1"/>
<text x="355.00" y="378.60" text-anchor="end">1.2</text>
<text x="366.90" y="437.80" text-anchor="middle">0</text>
<text x="383.00" y="437.80" text-anchor="middle">8</text>
<text x="399.20" y="437.80" text-anchor="middle">24</text>
<text x="415.40" y="437.80" text-anchor="middle">48</text>
<line x1="366.30" y1="358.20" x2="416.50" y2="358.20" stroke="#111" stroke-width="1.35"/>
<text x="391.40" y="360.10" font-size="11.5" text-anchor="middle">***</text>
<line x1="366.30" y1="367.40" x2="398.50" y2="367.40" stroke="#111" stroke-width="1.35"/>
<text x="382.40" y="369.30" font-size="11.5" text-anchor="middle">***</text>
<line x1="366.30" y1="376.60" x2="381.80" y2="376.60" stroke="#111" stroke-width="1.35"/>
<text x="374.05" y="378.50" font-size="11.5" text-anchor="middle">*</text>
<text x="473.20" y="343.80" text-anchor="middle" font-style="italic">Sox2</text>
<rect x="449.60" y="426.65" width="8.60" height="0.45" fill="#125c84" stroke="#111" stroke-width="1.0"/>
<rect x="465.80" y="425.98" width="8.60" height="1.12" fill="#125c84" stroke="#111" stroke-width="1.0"/>
<rect x="481.70" y="392.00" width="8.60" height="35.10" fill="#125c84" stroke="#111" stroke-width="1.0"/>
<rect x="497.70" y="406.85" width="8.60" height="20.25" fill="#125c84" stroke="#111" stroke-width="1.0"/>
<line x1="486.00" y1="380.98" x2="486.00" y2="402.35" stroke="#3a3a3a" stroke-width="0.75"/>
<line x1="502.00" y1="398.60" x2="502.00" y2="419.34" stroke="#3a3a3a" stroke-width="0.75"/>
<circle cx="453.90" cy="426.05" r="1.15" fill="#b9c3c9" stroke="#1e1e1e" stroke-width="0.7"/>
<circle cx="470.10" cy="425.04" r="1.15" fill="#b9c3c9" stroke="#1e1e1e" stroke-width="0.7"/>
<circle cx="486.00" cy="380.98" r="1.15" fill="#333" stroke="#222" stroke-width="0.6"/>
<circle cx="486.00" cy="394.10" r="1.15" fill="#b9c3c9" stroke="#1e1e1e" stroke-width="0.7"/>
<circle cx="486.00" cy="402.35" r="1.15" fill="#b9c3c9" stroke="#1e1e1e" stroke-width="0.7"/>
<circle cx="502.00" cy="398.60" r="1.15" fill="#333" stroke="#222" stroke-width="0.6"/>
<circle cx="502.00" cy="401.23" r="1.15" fill="#b9c3c9" stroke="#1e1e1e" stroke-width="0.7"/>
<circle cx="502.00" cy="419.34" r="1.15" fill="#b9c3c9" stroke="#1e1e1e" stroke-width="0.7"/>
<line x1="446.40" y1="374.10" x2="446.40" y2="427.70" stroke="#111" stroke-width="1.25"/>
<line x1="444.70" y1="427.10" x2="510.50" y2="427.10" stroke="#111" stroke-width="1.25"/>
<line x1="444.20" y1="427.10" x2="446.40" y2="427.10" stroke="#111" stroke-width="1"/>
<text x="443.00" y="430.60" text-anchor="end">0</text>
<line x1="444.20" y1="412.10" x2="446.40" y2="412.10" stroke="#111" stroke-width="1"/>
<text x="443.00" y="415.60" text-anchor="end">40</text>
<line x1="444.20" y1="397.10" x2="446.40" y2="397.10" stroke="#111" stroke-width="1"/>
<text x="443.00" y="400.60" text-anchor="end">80</text>
<line x1="444.20" y1="382.10" x2="446.40" y2="382.10" stroke="#111" stroke-width="1"/>
<text x="443.00" y="385.60" text-anchor="end">120</text>
<text x="453.90" y="437.80" text-anchor="middle">0</text>
<text x="470.10" y="437.80" text-anchor="middle">8</text>
<text x="486.00" y="437.80" text-anchor="middle">24</text>
<text x="502.00" y="437.80" text-anchor="middle">48</text>
<line x1="453.00" y1="375.10" x2="484.80" y2="375.10" stroke="#111" stroke-width="1.35"/>
<text x="468.90" y="377.00" font-size="11.5" text-anchor="middle">**</text>
<defs><filter id="bl" x="-20%" y="-100%" width="140%" height="300%"><feGaussianBlur stdDeviation="1.1 0.75"/></filter><filter id="bl2" x="-20%" y="-100%" width="140%" height="300%"><feGaussianBlur stdDeviation="0.9 0.55"/></filter></defs>
<text x="516.00" y="309.30" font-size="9.5" font-weight="bold">e</text>
<text x="601.50" y="310.20" text-anchor="middle">MDA5(1) ESC</text>
<text x="548.50" y="315.70" text-anchor="middle">size</text>
<text x="548.50" y="327.70" text-anchor="middle">(KDa)</text>
<text x="572.70" y="322.60" font-size="9.5" text-anchor="middle" style="fill:#333">-</text>
<text x="590.20" y="322.60" font-size="9.5" text-anchor="middle" style="fill:#333">-</text>
<text x="611.50" y="322.60" font-size="9.5" text-anchor="middle" style="fill:#333">+</text>
<text x="627.70" y="322.60" font-size="9.5" text-anchor="middle" style="fill:#333">+</text>
<text x="644.70" y="321.60">dox</text>
<rect x="562.70" y="330.00" width="37.00" height="17.00" fill="#f3f3f3" stroke="#111" stroke-width="1.4"/>
<rect x="602.30" y="330.00" width="37.20" height="17.00" fill="#f0f0f0" stroke="#111" stroke-width="1.4"/>
<rect x="566.8" y="335.9" width="12.0" height="2.8" rx="1" fill="#151515" fill-opacity="1.0" filter="url(#bl2)"/>
<rect x="567.2" y="338.2" width="11.2" height="3.4" rx="1" fill="#151515" fill-opacity="0.38" filter="url(#bl)"/>
<rect x="585.2" y="335.6" width="10.6" height="2.9" rx="1" fill="#151515" fill-opacity="0.95" filter="url(#bl2)"/>
<rect x="585.6" y="338.0" width="9.8" height="3.4" rx="1" fill="#151515" fill-opacity="0.35" filter="url(#bl)"/>
<rect x="605.6" y="336.8" width="11.4" height="1.4" rx="1" fill="#151515" fill-opacity="0.42" filter="url(#bl)"/>
<rect x="605.6" y="339.6" width="11.4" height="1.4" rx="1" fill="#151515" fill-opacity="0.36" filter="url(#bl)"/>
<rect x="622.7" y="336.8" width="13.1" height="1.4" rx="1" fill="#151515" fill-opacity="0.48" filter="url(#bl)"/>
<rect x="622.7" y="339.6" width="13.1" height="1.4" rx="1" fill="#151515" fill-opacity="0.42" filter="url(#bl)"/>
<text x="642.70" y="342.20">KLF4</text>
<text x="552.60" y="345.20" text-anchor="end">55</text>
<line x1="555.00" y1="342.00" x2="559.60" y2="342.00" stroke="#111" stroke-width="1.3"/>
<rect x="562.70" y="352.00" width="37.00" height="17.20" fill="#f6f6f6" stroke="#111" stroke-width="1.4"/>
<rect x="602.30" y="352.00" width="37.20" height="17.20" fill="#f6f6f6" stroke="#111" stroke-width="1.4"/>
<path d="M565.8 358.8 Q572.5 362.4 579.2 358.8" fill="none" stroke="#1a1a1a" stroke-opacity="0.68" stroke-width="3.4" stroke-linecap="round" filter="url(#bl2)"/>
<path d="M583.8 358.4 Q590.3 362.0 596.8 358.4" fill="none" stroke="#1a1a1a" stroke-opacity="0.74" stroke-width="3.5" stroke-linecap="round" filter="url(#bl2)"/>
<path d="M604.5 359.9 Q611.8 362.6 619.0 359.9" fill="none" stroke="#1a1a1a" stroke-opacity="0.95" stroke-width="3.2" stroke-linecap="round" filter="url(#bl2)"/>
<path d="M622.5 360.3 Q630.0 363.0 637.5 360.3" fill="none" stroke="#1a1a1a" stroke-opacity="1" stroke-width="3.4" stroke-linecap="round" filter="url(#bl2)"/>
<text x="642.70" y="363.10">TUBULIN</text>
<text x="552.60" y="362.20" text-anchor="end">55</text>
<line x1="555.00" y1="359.20" x2="559.60" y2="359.20" stroke="#111" stroke-width="1.3"/>
<text x="572.00" y="379.30" text-anchor="middle">1</text>
<text x="572.00" y="431.40" text-anchor="middle">1</text>
<text x="589.00" y="379.30" text-anchor="middle">2</text>
<text x="589.00" y="431.40" text-anchor="middle">2</text>
<text x="611.50" y="379.30" text-anchor="middle">1</text>
<text x="611.50" y="431.40" text-anchor="middle">1</text>
<text x="628.20" y="379.30" text-anchor="middle">2</text>
<text x="628.20" y="431.40" text-anchor="middle">2</text>
<rect x="562.70" y="383.50" width="76.80" height="17.00" fill="#f1f1f1" stroke="#111" stroke-width="1.4"/>
<ellipse cx="572.2" cy="390.9" rx="7.8" ry="1.4" fill="#1d1d1d" fill-opacity="1" filter="url(#bl2)"/>
<ellipse cx="566.6" cy="392.2" rx="1.6" ry="1.7" fill="#1d1d1d" fill-opacity="1" filter="url(#bl2)"/>
<ellipse cx="577.8" cy="392.2" rx="1.6" ry="1.7" fill="#1d1d1d" fill-opacity="1" filter="url(#bl2)"/>
<ellipse cx="572.2" cy="395.2" rx="7.2" ry="0.7" fill="#1d1d1d" fill-opacity="0.22" filter="url(#bl2)"/>
<ellipse cx="591.6" cy="390.9" rx="7.2" ry="1.4" fill="#1d1d1d" fill-opacity="1" filter="url(#bl2)"/>
<ellipse cx="586.4" cy="392.2" rx="1.6" ry="1.7" fill="#1d1d1d" fill-opacity="1" filter="url(#bl2)"/>
<ellipse cx="596.8" cy="392.2" rx="1.6" ry="1.7" fill="#1d1d1d" fill-opacity="1" filter="url(#bl2)"/>
<ellipse cx="591.6" cy="395.2" rx="6.8" ry="0.7" fill="#1d1d1d" fill-opacity="0.22" filter="url(#bl2)"/>
<ellipse cx="611.5" cy="390.9" rx="7.8" ry="1.4" fill="#1d1d1d" fill-opacity="0.75" filter="url(#bl2)"/>
<ellipse cx="605.9" cy="392.2" rx="1.6" ry="1.7" fill="#1d1d1d" fill-opacity="1" filter="url(#bl2)"/>
<ellipse cx="617.1" cy="392.2" rx="1.6" ry="1.7" fill="#1d1d1d" fill-opacity="1" filter="url(#bl2)"/>
<ellipse cx="611.5" cy="395.2" rx="7.2" ry="0.7" fill="#1d1d1d" fill-opacity="0.22" filter="url(#bl2)"/>
<ellipse cx="630.5" cy="390.9" rx="8.2" ry="1.4" fill="#1d1d1d" fill-opacity="0.75" filter="url(#bl2)"/>
<ellipse cx="624.4" cy="392.2" rx="1.6" ry="1.7" fill="#1d1d1d" fill-opacity="1" filter="url(#bl2)"/>
<ellipse cx="636.6" cy="392.2" rx="1.6" ry="1.7" fill="#1d1d1d" fill-opacity="1" filter="url(#bl2)"/>
<ellipse cx="630.5" cy="395.2" rx="7.8" ry="0.7" fill="#1d1d1d" fill-opacity="0.22" filter="url(#bl2)"/>
<text x="644.00" y="395.20">NANOG</text>
<text x="552.60" y="398.00" text-anchor="end">40</text>
<line x1="555.00" y1="395.40" x2="559.60" y2="395.40" stroke="#111" stroke-width="1.3"/>
<rect x="562.70" y="403.80" width="76.80" height="16.80" fill="#f7f7f7" stroke="#111" stroke-width="1.4"/>
<path d="M565.1 412.1 Q573.0 413.6 580.9 412.1" fill="none" stroke="#1a1a1a" stroke-opacity="1" stroke-width="4.1" stroke-linecap="round" filter="url(#bl2)"/>
<path d="M583.6 412.1 Q591.5 413.6 599.4 412.1" fill="none" stroke="#1a1a1a" stroke-opacity="1" stroke-width="4.1" stroke-linecap="round" filter="url(#bl2)"/>
<path d="M603.1 412.1 Q611.0 413.6 618.9 412.1" fill="none" stroke="#1a1a1a" stroke-opacity="1" stroke-width="4.1" stroke-linecap="round" filter="url(#bl2)"/>
<path d="M621.6 412.1 Q629.5 413.6 637.4 412.1" fill="none" stroke="#1a1a1a" stroke-opacity="1" stroke-width="4.1" stroke-linecap="round" filter="url(#bl2)"/>
<text x="644.00" y="416.20">GAPDH</text>
<text x="552.60" y="412.00" text-anchor="end">40</text>
<line x1="555.00" y1="409.30" x2="559.60" y2="409.30" stroke="#111" stroke-width="1.3"/>
<text x="1.50" y="491.30" font-size="9.5" font-weight="bold">f</text>
<line x1="56.20" y1="501.00" x2="56.20" y2="687.20" stroke="#111" stroke-width="1.3"/>
<line x1="53.60" y1="521.20" x2="56.20" y2="521.20" stroke="#111" stroke-width="1"/>
<text x="51.60" y="524.60" font-size="9.5" text-anchor="end">5.0</text>
<line x1="53.60" y1="554.10" x2="56.20" y2="554.10" stroke="#111" stroke-width="1"/>
<text x="51.60" y="557.50" font-size="9.5" text-anchor="end">2.5</text>
<line x1="53.60" y1="587.00" x2="56.20" y2="587.00" stroke="#111" stroke-width="1"/>
<text x="51.60" y="590.40" font-size="9.5" text-anchor="end">0.0</text>
<line x1="53.60" y1="619.90" x2="56.20" y2="619.90" stroke="#111" stroke-width="1"/>
<text x="51.60" y="623.30" font-size="9.5" text-anchor="end">−2.5</text>
<line x1="53.60" y1="652.80" x2="56.20" y2="652.80" stroke="#111" stroke-width="1"/>
<text x="51.60" y="656.20" font-size="9.5" text-anchor="end">−5.0</text>
<line x1="53.60" y1="685.70" x2="56.20" y2="685.70" stroke="#111" stroke-width="1"/>
<text x="51.60" y="689.10" font-size="9.5" text-anchor="end">−7.5</text>
<text x="24.20" y="597.50" font-size="9.5" text-anchor="middle" transform="rotate(-90 24.20 597.50)">log2 FC over WT upon MDA5 induction</text>
<rect x="66.20" y="501.20" width="65.30" height="156.80" fill="#e9ebeb"/>
<text x="98.85" y="495.40" text-anchor="middle">8h</text>
<g fill="#d42b3a"><circle cx="108.5" cy="568.8" r="1.2"/><circle cx="91.4" cy="579.3" r="1.2"/><circle cx="109.9" cy="571.7" r="1.2"/><circle cx="108.2" cy="571.3" r="1.2"/><circle cx="79.1" cy="576.7" r="1.2"/><circle cx="117.3" cy="578.8" r="1.2"/><circle cx="89.2" cy="574.0" r="1.2"/><circle cx="70.7" cy="561.1" r="1.2"/><circle cx="99.3" cy="568.0" r="1.2"/><circle cx="124.8" cy="559.3" r="1.2"/><circle cx="77.5" cy="576.8" r="1.2"/><circle cx="79.1" cy="574.9" r="1.2"/><circle cx="79.6" cy="578.8" r="1.2"/><circle cx="94.0" cy="574.3" r="1.2"/><circle cx="92.0" cy="573.0" r="1.2"/><circle cx="126.0" cy="573.4" r="1.2"/><circle cx="90.4" cy="568.6" r="1.2"/><circle cx="108.9" cy="567.8" r="1.2"/><circle cx="90.8" cy="578.1" r="1.2"/><circle cx="98.8" cy="563.0" r="1.2"/><circle cx="94.7" cy="571.4" r="1.2"/><circle cx="94.5" cy="576.9" r="1.2"/><circle cx="75.6" cy="564.8" r="1.2"/><circle cx="110.2" cy="577.4" r="1.2"/><circle cx="89.7" cy="577.9" r="1.2"/><circle cx="96.4" cy="578.8" r="1.2"/><circle cx="97.4" cy="577.8" r="1.2"/><circle cx="125.3" cy="572.9" r="1.2"/><circle cx="90.8" cy="567.5" r="1.2"/><circle cx="122.8" cy="573.0" r="1.2"/><circle cx="114.5" cy="577.9" r="1.2"/><circle cx="70.1" cy="578.1" r="1.2"/><circle cx="127.0" cy="574.9" r="1.2"/><circle cx="71.0" cy="572.5" r="1.2"/><circle cx="118.1" cy="572.2" r="1.2"/><circle cx="100.3" cy="576.8" r="1.2"/><circle cx="84.9" cy="569.6" r="1.2"/><circle cx="79.1" cy="557.2" r="1.2"/><circle cx="85.8" cy="569.9" r="1.2"/><circle cx="110.2" cy="572.2" r="1.2"/><circle cx="86.2" cy="577.0" r="1.2"/><circle cx="110.1" cy="574.1" r="1.2"/><circle cx="94.1" cy="569.3" r="1.2"/><circle cx="126.7" cy="576.7" r="1.2"/><circle cx="123.2" cy="569.7" r="1.2"/><circle cx="93.9" cy="565.3" r="1.2"/><circle cx="115.6" cy="556.5" r="1.2"/><circle cx="91.1" cy="575.2" r="1.2"/><circle cx="70.6" cy="571.2" r="1.2"/><circle cx="116.1" cy="556.3" r="1.2"/><circle cx="100.8" cy="555.5" r="1.2"/><circle cx="75.3" cy="574.7" r="1.2"/><circle cx="124.1" cy="575.7" r="1.2"/><circle cx="105.9" cy="571.7" r="1.2"/><circle cx="110.4" cy="575.8" r="1.2"/><circle cx="93.3" cy="576.6" r="1.2"/><circle cx="77.9" cy="574.0" r="1.2"/><circle cx="110.2" cy="577.6" r="1.2"/><circle cx="124.1" cy="568.7" r="1.2"/><circle cx="98.0" cy="579.1" r="1.2"/><circle cx="108.5" cy="577.4" r="1.2"/><circle cx="88.7" cy="578.1" r="1.2"/><circle cx="90.6" cy="579.3" r="1.2"/><circle cx="94.8" cy="578.3" r="1.2"/><circle cx="98.8" cy="567.8" r="1.2"/><circle cx="96.7" cy="577.6" r="1.2"/><circle cx="84.2" cy="561.1" r="1.2"/><circle cx="118.1" cy="560.3" r="1.2"/><circle cx="114.0" cy="575.8" r="1.2"/><circle cx="108.3" cy="568.3" r="1.2"/><circle cx="109.3" cy="571.4" r="1.2"/><circle cx="88.4" cy="566.4" r="1.2"/><circle cx="87.5" cy="574.9" r="1.2"/><circle cx="101.3" cy="578.2" r="1.2"/><circle cx="116.5" cy="579.2" r="1.2"/><circle cx="104.5" cy="566.7" r="1.2"/><circle cx="121.9" cy="559.0" r="1.2"/><circle cx="107.0" cy="578.7" r="1.2"/><circle cx="115.3" cy="570.1" r="1.2"/><circle cx="84.9" cy="569.9" r="1.2"/><circle cx="92.0" cy="574.7" r="1.2"/><circle cx="79.5" cy="563.1" r="1.2"/><circle cx="126.2" cy="578.0" r="1.2"/><circle cx="118.3" cy="578.8" r="1.2"/><circle cx="90.5" cy="562.4" r="1.2"/><circle cx="77.6" cy="575.8" r="1.2"/><circle cx="81.9" cy="561.7" r="1.2"/><circle cx="87.6" cy="579.1" r="1.2"/><circle cx="79.1" cy="578.5" r="1.2"/><circle cx="80.7" cy="575.9" r="1.2"/><circle cx="119.9" cy="577.6" r="1.2"/><circle cx="109.5" cy="578.3" r="1.2"/><circle cx="100.4" cy="573.5" r="1.2"/><circle cx="99.1" cy="563.4" r="1.2"/><circle cx="106.6" cy="573.2" r="1.2"/><circle cx="99.7" cy="574.1" r="1.2"/><circle cx="123.5" cy="576.1" r="1.2"/><circle cx="109.9" cy="560.3" r="1.2"/><circle cx="94.5" cy="568.0" r="1.2"/><circle cx="113.6" cy="570.1" r="1.2"/><circle cx="73.2" cy="578.0" r="1.2"/><circle cx="72.9" cy="579.0" r="1.2"/><circle cx="76.2" cy="578.0" r="1.2"/><circle cx="125.9" cy="569.9" r="1.2"/><circle cx="125.0" cy="565.8" r="1.2"/><circle cx="123.6" cy="578.2" r="1.2"/><circle cx="113.7" cy="577.1" r="1.2"/><circle cx="88.0" cy="571.6" r="1.2"/><circle cx="105.0" cy="578.9" r="1.2"/><circle cx="124.0" cy="574.3" r="1.2"/><circle cx="123.4" cy="575.9" r="1.2"/><circle cx="70.3" cy="568.5" r="1.2"/><circle cx="112.2" cy="576.3" r="1.2"/><circle cx="89.4" cy="565.4" r="1.2"/><circle cx="127.3" cy="559.8" r="1.2"/><circle cx="106.0" cy="577.2" r="1.2"/><circle cx="83.0" cy="574.9" r="1.2"/><circle cx="77.0" cy="570.0" r="1.2"/><circle cx="113.0" cy="549.3" r="1.2"/><circle cx="75.6" cy="576.9" r="1.2"/><circle cx="79.7" cy="569.5" r="1.2"/><circle cx="103.2" cy="570.4" r="1.2"/><circle cx="90.3" cy="575.7" r="1.2"/><circle cx="98.9" cy="575.4" r="1.2"/><circle cx="92.9" cy="577.5" r="1.2"/><circle cx="91.0" cy="577.6" r="1.2"/><circle cx="86.9" cy="566.6" r="1.2"/><circle cx="92.8" cy="574.4" r="1.2"/><circle cx="73.9" cy="569.1" r="1.2"/><circle cx="84.2" cy="578.3" r="1.2"/><circle cx="79.6" cy="574.9" r="1.2"/><circle cx="118.6" cy="576.1" r="1.2"/><circle cx="106.8" cy="578.4" r="1.2"/><circle cx="97.5" cy="570.6" r="1.2"/><circle cx="124.2" cy="573.3" r="1.2"/><circle cx="90.6" cy="573.2" r="1.2"/><circle cx="83.5" cy="565.6" r="1.2"/><circle cx="98.8" cy="566.6" r="1.2"/><circle cx="111.2" cy="569.9" r="1.2"/><circle cx="71.0" cy="575.8" r="1.2"/><circle cx="92.4" cy="564.0" r="1.2"/><circle cx="78.4" cy="556.4" r="1.2"/><circle cx="87.9" cy="574.0" r="1.2"/><circle cx="72.6" cy="576.9" r="1.2"/><circle cx="87.5" cy="578.8" r="1.2"/><circle cx="118.1" cy="578.8" r="1.2"/><circle cx="104.7" cy="572.7" r="1.2"/><circle cx="82.9" cy="577.8" r="1.2"/><circle cx="123.9" cy="555.6" r="1.2"/><circle cx="80.6" cy="574.9" r="1.2"/><circle cx="101.8" cy="565.1" r="1.2"/><circle cx="100.7" cy="576.4" r="1.2"/><circle cx="105.6" cy="578.2" r="1.2"/><circle cx="118.5" cy="571.0" r="1.2"/><circle cx="70.9" cy="573.7" r="1.2"/><circle cx="92.9" cy="575.0" r="1.2"/><circle cx="100.0" cy="567.7" r="1.2"/><circle cx="121.9" cy="561.1" r="1.2"/><circle cx="119.0" cy="571.6" r="1.2"/><circle cx="71.0" cy="556.6" r="1.2"/><circle cx="105.9" cy="572.0" r="1.2"/><circle cx="93.3" cy="576.9" r="1.2"/><circle cx="100.2" cy="565.8" r="1.2"/><circle cx="120.3" cy="568.2" r="1.2"/><circle cx="86.3" cy="574.9" r="1.2"/><circle cx="72.1" cy="578.8" r="1.2"/><circle cx="104.7" cy="577.9" r="1.2"/><circle cx="100.7" cy="563.8" r="1.2"/><circle cx="119.7" cy="571.3" r="1.2"/><circle cx="93.1" cy="576.9" r="1.2"/><circle cx="102.8" cy="576.1" r="1.2"/><circle cx="117.6" cy="565.6" r="1.2"/><circle cx="113.6" cy="576.1" r="1.2"/><circle cx="70.8" cy="577.5" r="1.2"/><circle cx="75.1" cy="575.0" r="1.2"/><circle cx="88.6" cy="574.1" r="1.2"/><circle cx="100.5" cy="571.7" r="1.2"/><circle cx="87.0" cy="556.2" r="1.2"/><circle cx="124.2" cy="575.6" r="1.2"/><circle cx="123.9" cy="577.6" r="1.2"/><circle cx="81.5" cy="567.3" r="1.2"/><circle cx="73.4" cy="564.6" r="1.2"/><circle cx="117.4" cy="576.8" r="1.2"/><circle cx="95.1" cy="574.2" r="1.2"/><circle cx="72.6" cy="575.6" r="1.2"/><circle cx="108.1" cy="558.3" r="1.2"/><circle cx="82.4" cy="577.1" r="1.2"/><circle cx="97.5" cy="578.9" r="1.2"/><circle cx="99.6" cy="552.8" r="1.2"/><circle cx="114.9" cy="573.1" r="1.2"/><circle cx="109.1" cy="573.8" r="1.2"/><circle cx="97.1" cy="577.5" r="1.2"/><circle cx="81.4" cy="577.7" r="1.2"/><circle cx="106.0" cy="577.5" r="1.2"/><circle cx="109.5" cy="559.0" r="1.2"/><circle cx="92.4" cy="573.8" r="1.2"/><circle cx="122.9" cy="564.2" r="1.2"/><circle cx="78.0" cy="569.0" r="1.2"/><circle cx="88.5" cy="577.6" r="1.2"/><circle cx="83.2" cy="577.5" r="1.2"/><circle cx="121.5" cy="572.8" r="1.2"/><circle cx="124.3" cy="578.9" r="1.2"/><circle cx="102.0" cy="567.7" r="1.2"/><circle cx="98.5" cy="561.8" r="1.2"/><circle cx="85.6" cy="577.8" r="1.2"/><circle cx="119.7" cy="576.6" r="1.2"/><circle cx="79.1" cy="579.0" r="1.2"/><circle cx="120.8" cy="565.8" r="1.2"/><circle cx="72.0" cy="573.9" r="1.2"/><circle cx="81.3" cy="578.0" r="1.2"/><circle cx="80.3" cy="559.8" r="1.2"/><circle cx="70.1" cy="568.4" r="1.2"/><circle cx="87.0" cy="577.9" r="1.2"/><circle cx="123.3" cy="576.7" r="1.2"/><circle cx="74.7" cy="571.8" r="1.2"/><circle cx="115.9" cy="577.8" r="1.2"/><circle cx="89.1" cy="579.1" r="1.2"/><circle cx="74.3" cy="577.8" r="1.2"/><circle cx="84.9" cy="569.2" r="1.2"/><circle cx="108.0" cy="578.1" r="1.2"/><circle cx="112.9" cy="575.2" r="1.2"/><circle cx="127.0" cy="573.7" r="1.2"/><circle cx="122.9" cy="549.9" r="1.2"/><circle cx="85.5" cy="578.3" r="1.2"/><circle cx="84.6" cy="558.0" r="1.2"/><circle cx="69.8" cy="573.0" r="1.2"/><circle cx="82.9" cy="579.3" r="1.2"/><circle cx="119.9" cy="568.1" r="1.2"/><circle cx="110.2" cy="574.4" r="1.2"/><circle cx="75.0" cy="567.7" r="1.2"/><circle cx="95.6" cy="577.7" r="1.2"/><circle cx="117.8" cy="565.9" r="1.2"/><circle cx="112.0" cy="577.7" r="1.2"/><circle cx="88.0" cy="569.8" r="1.2"/><circle cx="111.2" cy="575.7" r="1.2"/><circle cx="73.5" cy="578.7" r="1.2"/><circle cx="127.3" cy="574.9" r="1.2"/><circle cx="90.3" cy="576.5" r="1.2"/><circle cx="75.9" cy="577.4" r="1.2"/><circle cx="73.1" cy="576.3" r="1.2"/><circle cx="111.5" cy="567.2" r="1.2"/><circle cx="112.7" cy="562.8" r="1.2"/><circle cx="127.0" cy="578.8" r="1.2"/><circle cx="78.0" cy="566.7" r="1.2"/><circle cx="74.7" cy="571.8" r="1.2"/><circle cx="105.9" cy="563.6" r="1.2"/><circle cx="113.3" cy="579.0" r="1.2"/><circle cx="77.6" cy="573.0" r="1.2"/><circle cx="94.5" cy="576.2" r="1.2"/><circle cx="95.5" cy="578.6" r="1.2"/><circle cx="97.2" cy="579.1" r="1.2"/><circle cx="114.4" cy="573.3" r="1.2"/><circle cx="79.3" cy="549.5" r="1.2"/><circle cx="73.8" cy="574.1" r="1.2"/><circle cx="126.9" cy="579.0" r="1.2"/><circle cx="121.7" cy="579.0" r="1.2"/><circle cx="103.4" cy="564.5" r="1.2"/><circle cx="119.3" cy="572.9" r="1.2"/><circle cx="93.2" cy="571.5" r="1.2"/><circle cx="124.4" cy="570.6" r="1.2"/><circle cx="111.6" cy="575.4" r="1.2"/><circle cx="100.3" cy="576.3" r="1.2"/><circle cx="78.1" cy="578.6" r="1.2"/><circle cx="79.5" cy="574.9" r="1.2"/><circle cx="94.5" cy="558.3" r="1.2"/><circle cx="93.6" cy="575.2" r="1.2"/><circle cx="109.4" cy="577.4" r="1.2"/><circle cx="98.5" cy="560.0" r="1.2"/><circle cx="127.0" cy="553.9" r="1.2"/><circle cx="75.6" cy="567.3" r="1.2"/><circle cx="84.6" cy="564.0" r="1.2"/><circle cx="96.0" cy="571.2" r="1.2"/><circle cx="107.9" cy="573.3" r="1.2"/><circle cx="106.9" cy="579.3" r="1.2"/><circle cx="100.8" cy="559.5" r="1.2"/><circle cx="81.0" cy="577.8" r="1.2"/><circle cx="122.1" cy="578.7" r="1.2"/><circle cx="105.9" cy="577.1" r="1.2"/><circle cx="116.1" cy="576.6" r="1.2"/><circle cx="73.1" cy="577.5" r="1.2"/><circle cx="108.6" cy="578.3" r="1.2"/><circle cx="102.1" cy="576.1" r="1.2"/><circle cx="83.9" cy="577.1" r="1.2"/><circle cx="98.1" cy="577.1" r="1.2"/><circle cx="119.6" cy="564.5" r="1.2"/><circle cx="101.1" cy="569.7" r="1.2"/><circle cx="94.8" cy="575.4" r="1.2"/><circle cx="76.7" cy="574.7" r="1.2"/><circle cx="98.5" cy="561.8" r="1.2"/><circle cx="82.5" cy="578.8" r="1.2"/><circle cx="76.5" cy="576.3" r="1.2"/><circle cx="69.7" cy="575.4" r="1.2"/><circle cx="105.5" cy="576.2" r="1.2"/><circle cx="126.2" cy="578.5" r="1.2"/><circle cx="107.3" cy="572.2" r="1.2"/><circle cx="70.2" cy="578.6" r="1.2"/><circle cx="95.6" cy="557.6" r="1.2"/><circle cx="109.7" cy="573.0" r="1.2"/><circle cx="79.8" cy="572.9" r="1.2"/><circle cx="119.0" cy="569.7" r="1.2"/><circle cx="117.1" cy="577.4" r="1.2"/><circle cx="116.3" cy="571.2" r="1.2"/><circle cx="96.1" cy="578.3" r="1.2"/><circle cx="92.8" cy="570.7" r="1.2"/><circle cx="94.0" cy="563.8" r="1.2"/><circle cx="76.4" cy="568.1" r="1.2"/><circle cx="118.1" cy="578.7" r="1.2"/><circle cx="111.4" cy="575.8" r="1.2"/><circle cx="109.9" cy="577.9" r="1.2"/><circle cx="113.1" cy="572.2" r="1.2"/><circle cx="76.8" cy="570.7" r="1.2"/><circle cx="103.4" cy="578.2" r="1.2"/><circle cx="97.6" cy="576.3" r="1.2"/><circle cx="88.5" cy="569.1" r="1.2"/><circle cx="111.3" cy="557.0" r="1.2"/><circle cx="119.3" cy="574.1" r="1.2"/><circle cx="85.0" cy="557.2" r="1.2"/><circle cx="84.6" cy="570.1" r="1.2"/><circle cx="121.0" cy="578.6" r="1.2"/><circle cx="112.8" cy="577.2" r="1.2"/><circle cx="70.2" cy="574.9" r="1.2"/><circle cx="99.0" cy="565.7" r="1.2"/><circle cx="96.3" cy="578.1" r="1.2"/><circle cx="113.0" cy="574.8" r="1.2"/><circle cx="112.7" cy="563.1" r="1.2"/><circle cx="117.2" cy="571.5" r="1.2"/><circle cx="93.8" cy="566.8" r="1.2"/><circle cx="96.5" cy="575.5" r="1.2"/><circle cx="105.3" cy="569.0" r="1.2"/><circle cx="96.7" cy="572.1" r="1.2"/><circle cx="107.8" cy="506.7" r="1.2"/><circle cx="111.3" cy="511.7" r="1.2"/><circle cx="107.8" cy="527.2" r="1.2"/><circle cx="114.8" cy="538.1" r="1.2"/><circle cx="75.4" cy="541.1" r="1.2"/><circle cx="72.9" cy="547.6" r="1.2"/><circle cx="107.3" cy="543.9" r="1.2"/><circle cx="114.6" cy="544.4" r="1.2"/><circle cx="98.6" cy="546.1" r="1.2"/><circle cx="94.9" cy="547.9" r="1.2"/><circle cx="89.9" cy="549.4" r="1.2"/><circle cx="120.6" cy="551.1" r="1.2"/></g>
<g fill="#1597d5"><circle cx="95.6" cy="598.7" r="1.2"/><circle cx="77.2" cy="597.5" r="1.2"/><circle cx="91.0" cy="609.7" r="1.2"/><circle cx="105.7" cy="608.3" r="1.2"/><circle cx="103.0" cy="595.0" r="1.2"/><circle cx="111.4" cy="603.7" r="1.2"/><circle cx="74.7" cy="596.7" r="1.2"/><circle cx="121.1" cy="597.9" r="1.2"/><circle cx="84.5" cy="607.6" r="1.2"/><circle cx="91.6" cy="601.9" r="1.2"/><circle cx="105.3" cy="597.0" r="1.2"/><circle cx="104.4" cy="595.1" r="1.2"/><circle cx="78.9" cy="602.7" r="1.2"/><circle cx="101.2" cy="600.2" r="1.2"/><circle cx="98.5" cy="596.0" r="1.2"/><circle cx="82.7" cy="598.6" r="1.2"/><circle cx="102.2" cy="595.6" r="1.2"/><circle cx="120.4" cy="605.0" r="1.2"/><circle cx="117.7" cy="599.8" r="1.2"/><circle cx="125.3" cy="609.7" r="1.2"/><circle cx="122.3" cy="600.3" r="1.2"/><circle cx="71.4" cy="596.3" r="1.2"/><circle cx="70.1" cy="596.9" r="1.2"/><circle cx="109.4" cy="597.5" r="1.2"/><circle cx="75.5" cy="605.4" r="1.2"/><circle cx="116.7" cy="614.9" r="1.2"/><circle cx="109.5" cy="612.4" r="1.2"/><circle cx="127.3" cy="594.9" r="1.2"/><circle cx="102.8" cy="596.8" r="1.2"/><circle cx="99.2" cy="598.7" r="1.2"/><circle cx="71.4" cy="598.9" r="1.2"/><circle cx="96.2" cy="598.8" r="1.2"/><circle cx="123.7" cy="597.1" r="1.2"/><circle cx="91.9" cy="607.6" r="1.2"/><circle cx="116.9" cy="602.0" r="1.2"/><circle cx="92.5" cy="611.2" r="1.2"/><circle cx="122.5" cy="600.5" r="1.2"/><circle cx="121.6" cy="596.3" r="1.2"/><circle cx="102.2" cy="603.5" r="1.2"/><circle cx="73.0" cy="597.9" r="1.2"/><circle cx="105.0" cy="597.1" r="1.2"/><circle cx="114.5" cy="596.2" r="1.2"/><circle cx="127.0" cy="596.0" r="1.2"/><circle cx="111.2" cy="596.7" r="1.2"/><circle cx="122.3" cy="605.1" r="1.2"/><circle cx="84.3" cy="597.4" r="1.2"/><circle cx="106.3" cy="600.8" r="1.2"/><circle cx="94.3" cy="601.5" r="1.2"/><circle cx="122.8" cy="596.4" r="1.2"/><circle cx="118.6" cy="597.4" r="1.2"/><circle cx="100.6" cy="599.3" r="1.2"/><circle cx="105.8" cy="600.6" r="1.2"/><circle cx="108.6" cy="597.9" r="1.2"/><circle cx="112.8" cy="601.6" r="1.2"/><circle cx="108.2" cy="598.0" r="1.2"/><circle cx="87.0" cy="598.7" r="1.2"/><circle cx="85.7" cy="601.8" r="1.2"/><circle cx="102.1" cy="595.8" r="1.2"/><circle cx="74.2" cy="614.5" r="1.2"/><circle cx="115.9" cy="601.8" r="1.2"/><circle cx="127.5" cy="597.0" r="1.2"/><circle cx="113.0" cy="598.4" r="1.2"/><circle cx="121.9" cy="594.9" r="1.2"/><circle cx="95.9" cy="613.8" r="1.2"/><circle cx="122.1" cy="601.0" r="1.2"/><circle cx="71.0" cy="596.5" r="1.2"/><circle cx="76.0" cy="598.3" r="1.2"/><circle cx="72.7" cy="596.5" r="1.2"/><circle cx="82.8" cy="598.6" r="1.2"/><circle cx="90.9" cy="597.6" r="1.2"/><circle cx="72.4" cy="602.1" r="1.2"/><circle cx="126.2" cy="595.6" r="1.2"/><circle cx="99.6" cy="608.3" r="1.2"/><circle cx="78.1" cy="606.1" r="1.2"/><circle cx="82.4" cy="604.1" r="1.2"/><circle cx="111.2" cy="594.8" r="1.2"/><circle cx="119.8" cy="595.0" r="1.2"/><circle cx="99.6" cy="597.3" r="1.2"/><circle cx="98.2" cy="596.2" r="1.2"/><circle cx="83.2" cy="597.5" r="1.2"/><circle cx="75.6" cy="597.7" r="1.2"/><circle cx="82.1" cy="620.3" r="1.2"/><circle cx="88.3" cy="615.0" r="1.2"/><circle cx="77.1" cy="594.6" r="1.2"/><circle cx="119.9" cy="601.4" r="1.2"/><circle cx="92.5" cy="595.9" r="1.2"/><circle cx="109.9" cy="597.2" r="1.2"/><circle cx="127.8" cy="598.1" r="1.2"/><circle cx="107.2" cy="598.4" r="1.2"/><circle cx="116.7" cy="595.1" r="1.2"/><circle cx="102.3" cy="604.3" r="1.2"/><circle cx="99.6" cy="601.8" r="1.2"/><circle cx="89.1" cy="607.7" r="1.2"/><circle cx="105.5" cy="598.9" r="1.2"/><circle cx="81.3" cy="598.7" r="1.2"/><circle cx="87.5" cy="601.6" r="1.2"/><circle cx="93.9" cy="598.0" r="1.2"/><circle cx="99.4" cy="596.6" r="1.2"/><circle cx="92.3" cy="596.5" r="1.2"/><circle cx="78.0" cy="595.2" r="1.2"/><circle cx="77.6" cy="597.8" r="1.2"/><circle cx="87.1" cy="599.3" r="1.2"/><circle cx="95.6" cy="608.0" r="1.2"/><circle cx="107.4" cy="597.4" r="1.2"/><circle cx="69.7" cy="605.3" r="1.2"/><circle cx="101.5" cy="616.5" r="1.2"/><circle cx="115.5" cy="595.8" r="1.2"/><circle cx="85.4" cy="598.3" r="1.2"/><circle cx="99.5" cy="596.1" r="1.2"/><circle cx="75.3" cy="594.7" r="1.2"/><circle cx="125.8" cy="601.6" r="1.2"/><circle cx="90.7" cy="601.3" r="1.2"/><circle cx="107.3" cy="608.5" r="1.2"/><circle cx="84.5" cy="598.1" r="1.2"/><circle cx="82.8" cy="621.0" r="1.2"/><circle cx="116.3" cy="600.3" r="1.2"/><circle cx="83.8" cy="601.1" r="1.2"/><circle cx="96.5" cy="594.8" r="1.2"/><circle cx="111.2" cy="596.7" r="1.2"/><circle cx="127.8" cy="605.0" r="1.2"/><circle cx="73.7" cy="594.7" r="1.2"/><circle cx="115.0" cy="599.0" r="1.2"/><circle cx="79.0" cy="595.8" r="1.2"/><circle cx="109.3" cy="608.9" r="1.2"/><circle cx="113.7" cy="596.9" r="1.2"/><circle cx="90.0" cy="597.8" r="1.2"/><circle cx="107.3" cy="595.2" r="1.2"/><circle cx="101.8" cy="601.8" r="1.2"/><circle cx="113.4" cy="598.5" r="1.2"/><circle cx="73.5" cy="607.9" r="1.2"/><circle cx="77.2" cy="599.3" r="1.2"/><circle cx="96.7" cy="597.7" r="1.2"/><circle cx="86.6" cy="595.1" r="1.2"/><circle cx="113.2" cy="604.7" r="1.2"/><circle cx="118.0" cy="595.9" r="1.2"/><circle cx="96.5" cy="607.9" r="1.2"/><circle cx="118.7" cy="594.8" r="1.2"/><circle cx="82.2" cy="607.0" r="1.2"/><circle cx="86.0" cy="605.9" r="1.2"/><circle cx="84.9" cy="603.3" r="1.2"/><circle cx="70.9" cy="595.1" r="1.2"/><circle cx="123.8" cy="596.1" r="1.2"/><circle cx="78.2" cy="601.2" r="1.2"/><circle cx="73.5" cy="596.0" r="1.2"/><circle cx="115.2" cy="595.8" r="1.2"/><circle cx="85.8" cy="604.7" r="1.2"/><circle cx="86.4" cy="595.1" r="1.2"/><circle cx="89.2" cy="605.6" r="1.2"/><circle cx="116.9" cy="618.5" r="1.2"/><circle cx="72.6" cy="596.3" r="1.2"/><circle cx="115.1" cy="601.4" r="1.2"/><circle cx="77.8" cy="607.3" r="1.2"/><circle cx="71.5" cy="594.7" r="1.2"/><circle cx="93.7" cy="594.7" r="1.2"/><circle cx="90.1" cy="602.7" r="1.2"/><circle cx="78.6" cy="599.1" r="1.2"/><circle cx="127.4" cy="619.9" r="1.2"/><circle cx="81.3" cy="596.6" r="1.2"/><circle cx="110.7" cy="600.3" r="1.2"/><circle cx="119.4" cy="598.0" r="1.2"/><circle cx="78.0" cy="601.7" r="1.2"/><circle cx="83.8" cy="595.1" r="1.2"/><circle cx="100.5" cy="595.5" r="1.2"/><circle cx="122.9" cy="611.2" r="1.2"/><circle cx="94.4" cy="605.6" r="1.2"/><circle cx="85.5" cy="607.3" r="1.2"/><circle cx="89.5" cy="596.9" r="1.2"/><circle cx="108.1" cy="614.5" r="1.2"/><circle cx="114.4" cy="600.9" r="1.2"/><circle cx="124.0" cy="596.7" r="1.2"/><circle cx="81.4" cy="597.8" r="1.2"/><circle cx="102.5" cy="596.8" r="1.2"/><circle cx="94.4" cy="597.8" r="1.2"/><circle cx="88.2" cy="598.7" r="1.2"/><circle cx="94.2" cy="595.7" r="1.2"/><circle cx="121.4" cy="595.3" r="1.2"/><circle cx="71.3" cy="606.2" r="1.2"/><circle cx="108.9" cy="596.2" r="1.2"/><circle cx="117.6" cy="595.6" r="1.2"/><circle cx="75.3" cy="595.2" r="1.2"/><circle cx="109.1" cy="596.4" r="1.2"/><circle cx="89.0" cy="604.6" r="1.2"/><circle cx="73.5" cy="594.9" r="1.2"/><circle cx="91.1" cy="614.4" r="1.2"/><circle cx="83.0" cy="602.5" r="1.2"/><circle cx="71.0" cy="603.3" r="1.2"/><circle cx="95.7" cy="595.5" r="1.2"/><circle cx="119.0" cy="599.6" r="1.2"/><circle cx="112.2" cy="599.9" r="1.2"/><circle cx="119.1" cy="599.1" r="1.2"/><circle cx="124.9" cy="598.1" r="1.2"/><circle cx="80.1" cy="608.6" r="1.2"/><circle cx="116.5" cy="597.9" r="1.2"/><circle cx="113.0" cy="597.7" r="1.2"/><circle cx="75.4" cy="597.6" r="1.2"/><circle cx="102.3" cy="595.5" r="1.2"/><circle cx="124.2" cy="595.1" r="1.2"/><circle cx="85.5" cy="596.8" r="1.2"/><circle cx="78.9" cy="594.9" r="1.2"/><circle cx="73.0" cy="602.0" r="1.2"/><circle cx="106.1" cy="608.6" r="1.2"/><circle cx="111.1" cy="598.8" r="1.2"/><circle cx="106.4" cy="597.7" r="1.2"/><circle cx="107.1" cy="595.6" r="1.2"/><circle cx="88.7" cy="595.3" r="1.2"/><circle cx="102.2" cy="601.5" r="1.2"/><circle cx="117.9" cy="602.6" r="1.2"/><circle cx="103.9" cy="594.8" r="1.2"/><circle cx="75.4" cy="598.3" r="1.2"/><circle cx="80.2" cy="613.5" r="1.2"/><circle cx="78.0" cy="595.6" r="1.2"/><circle cx="92.5" cy="597.3" r="1.2"/><circle cx="114.8" cy="600.3" r="1.2"/><circle cx="84.8" cy="597.3" r="1.2"/><circle cx="76.3" cy="599.7" r="1.2"/><circle cx="106.5" cy="597.3" r="1.2"/><circle cx="113.4" cy="595.3" r="1.2"/><circle cx="82.0" cy="596.3" r="1.2"/><circle cx="125.7" cy="596.4" r="1.2"/><circle cx="81.3" cy="594.9" r="1.2"/><circle cx="105.1" cy="595.8" r="1.2"/><circle cx="101.6" cy="599.6" r="1.2"/><circle cx="91.7" cy="601.4" r="1.2"/><circle cx="93.9" cy="605.8" r="1.2"/><circle cx="75.4" cy="597.4" r="1.2"/><circle cx="119.5" cy="596.2" r="1.2"/><circle cx="75.9" cy="594.9" r="1.2"/><circle cx="125.0" cy="601.5" r="1.2"/><circle cx="80.2" cy="595.2" r="1.2"/><circle cx="118.8" cy="601.6" r="1.2"/><circle cx="74.9" cy="601.2" r="1.2"/><circle cx="103.1" cy="615.8" r="1.2"/><circle cx="90.5" cy="609.7" r="1.2"/><circle cx="96.9" cy="607.0" r="1.2"/><circle cx="122.4" cy="603.1" r="1.2"/><circle cx="127.9" cy="600.0" r="1.2"/><circle cx="124.3" cy="601.6" r="1.2"/><circle cx="81.5" cy="599.4" r="1.2"/><circle cx="74.1" cy="600.7" r="1.2"/><circle cx="123.6" cy="607.1" r="1.2"/><circle cx="93.0" cy="603.6" r="1.2"/><circle cx="115.0" cy="604.2" r="1.2"/><circle cx="125.9" cy="596.0" r="1.2"/><circle cx="83.0" cy="595.4" r="1.2"/><circle cx="85.2" cy="611.1" r="1.2"/><circle cx="108.4" cy="603.6" r="1.2"/><circle cx="75.6" cy="600.6" r="1.2"/><circle cx="122.2" cy="598.3" r="1.2"/><circle cx="119.5" cy="613.7" r="1.2"/><circle cx="126.2" cy="620.0" r="1.2"/><circle cx="86.4" cy="596.2" r="1.2"/><circle cx="96.7" cy="597.8" r="1.2"/><circle cx="123.4" cy="604.8" r="1.2"/><circle cx="86.3" cy="595.1" r="1.2"/><circle cx="91.8" cy="595.7" r="1.2"/><circle cx="96.3" cy="599.0" r="1.2"/><circle cx="87.7" cy="600.4" r="1.2"/><circle cx="95.1" cy="597.4" r="1.2"/><circle cx="70.3" cy="603.0" r="1.2"/><circle cx="71.8" cy="596.0" r="1.2"/><circle cx="93.0" cy="608.5" r="1.2"/><circle cx="72.5" cy="597.1" r="1.2"/><circle cx="84.6" cy="597.3" r="1.2"/><circle cx="118.2" cy="597.8" r="1.2"/><circle cx="81.8" cy="599.7" r="1.2"/><circle cx="90.6" cy="602.4" r="1.2"/><circle cx="111.8" cy="595.7" r="1.2"/><circle cx="85.8" cy="596.1" r="1.2"/><circle cx="79.0" cy="595.9" r="1.2"/><circle cx="69.8" cy="607.0" r="1.2"/><circle cx="98.7" cy="596.8" r="1.2"/><circle cx="118.6" cy="598.1" r="1.2"/><circle cx="69.7" cy="596.1" r="1.2"/><circle cx="123.6" cy="599.3" r="1.2"/><circle cx="104.9" cy="597.1" r="1.2"/><circle cx="73.4" cy="597.8" r="1.2"/><circle cx="89.4" cy="621.0" r="1.2"/><circle cx="80.8" cy="600.9" r="1.2"/><circle cx="81.3" cy="613.1" r="1.2"/><circle cx="111.6" cy="598.9" r="1.2"/><circle cx="122.0" cy="596.4" r="1.2"/><circle cx="115.6" cy="595.5" r="1.2"/><circle cx="84.9" cy="596.8" r="1.2"/><circle cx="76.9" cy="608.7" r="1.2"/><circle cx="119.1" cy="601.5" r="1.2"/><circle cx="102.5" cy="599.2" r="1.2"/><circle cx="76.6" cy="595.5" r="1.2"/><circle cx="79.6" cy="595.9" r="1.2"/><circle cx="84.6" cy="595.1" r="1.2"/><circle cx="121.2" cy="598.2" r="1.2"/><circle cx="115.2" cy="599.5" r="1.2"/><circle cx="111.9" cy="607.0" r="1.2"/><circle cx="87.1" cy="594.9" r="1.2"/><circle cx="118.8" cy="600.0" r="1.2"/><circle cx="101.0" cy="598.0" r="1.2"/><circle cx="127.6" cy="595.7" r="1.2"/><circle cx="117.7" cy="609.1" r="1.2"/><circle cx="115.2" cy="616.3" r="1.2"/><circle cx="88.4" cy="594.9" r="1.2"/><circle cx="71.4" cy="600.6" r="1.2"/><circle cx="74.9" cy="632.3" r="1.2"/><circle cx="87.9" cy="634.3" r="1.2"/><circle cx="111.1" cy="633.0" r="1.2"/><circle cx="114.8" cy="635.0" r="1.2"/><circle cx="124.8" cy="640.5" r="1.2"/><circle cx="126.6" cy="651.5" r="1.2"/><circle cx="86.1" cy="627.3" r="1.2"/><circle cx="102.8" cy="622.3" r="1.2"/><circle cx="109.1" cy="624.0" r="1.2"/></g>
<text x="70.60" y="513.10">n=99</text>
<text x="71.60" y="653.60">n=104</text>
<rect x="140.00" y="501.20" width="65.50" height="160.80" fill="#e9ebeb"/>
<text x="172.75" y="495.40" text-anchor="middle">24h</text>
<g fill="#d42b3a"><circle cx="149.4" cy="574.0" r="1.2"/><circle cx="182.7" cy="576.2" r="1.2"/><circle cx="190.9" cy="578.1" r="1.2"/><circle cx="151.4" cy="564.8" r="1.2"/><circle cx="157.9" cy="577.5" r="1.2"/><circle cx="172.9" cy="559.2" r="1.2"/><circle cx="147.1" cy="575.3" r="1.2"/><circle cx="160.6" cy="576.0" r="1.2"/><circle cx="173.4" cy="575.9" r="1.2"/><circle cx="164.3" cy="579.1" r="1.2"/><circle cx="151.1" cy="575.8" r="1.2"/><circle cx="144.9" cy="577.9" r="1.2"/><circle cx="184.8" cy="575.0" r="1.2"/><circle cx="173.9" cy="566.8" r="1.2"/><circle cx="163.1" cy="575.0" r="1.2"/><circle cx="195.1" cy="571.1" r="1.2"/><circle cx="179.0" cy="556.0" r="1.2"/><circle cx="195.9" cy="569.6" r="1.2"/><circle cx="148.8" cy="578.4" r="1.2"/><circle cx="160.1" cy="575.6" r="1.2"/><circle cx="178.7" cy="575.6" r="1.2"/><circle cx="177.7" cy="567.0" r="1.2"/><circle cx="148.6" cy="577.4" r="1.2"/><circle cx="192.9" cy="577.3" r="1.2"/><circle cx="186.0" cy="577.2" r="1.2"/><circle cx="196.1" cy="574.7" r="1.2"/><circle cx="197.1" cy="571.4" r="1.2"/><circle cx="150.0" cy="577.7" r="1.2"/><circle cx="147.1" cy="573.6" r="1.2"/><circle cx="173.2" cy="577.7" r="1.2"/><circle cx="171.1" cy="574.4" r="1.2"/><circle cx="152.0" cy="576.7" r="1.2"/><circle cx="199.0" cy="575.6" r="1.2"/><circle cx="178.7" cy="560.0" r="1.2"/><circle cx="173.7" cy="576.5" r="1.2"/><circle cx="169.6" cy="574.3" r="1.2"/><circle cx="186.0" cy="570.4" r="1.2"/><circle cx="188.5" cy="560.1" r="1.2"/><circle cx="183.9" cy="574.1" r="1.2"/><circle cx="148.2" cy="577.8" r="1.2"/><circle cx="159.5" cy="577.4" r="1.2"/><circle cx="155.3" cy="569.7" r="1.2"/><circle cx="167.6" cy="578.2" r="1.2"/><circle cx="193.6" cy="578.4" r="1.2"/><circle cx="174.3" cy="569.6" r="1.2"/><circle cx="145.8" cy="577.7" r="1.2"/><circle cx="144.3" cy="576.8" r="1.2"/><circle cx="187.7" cy="570.0" r="1.2"/><circle cx="188.4" cy="578.4" r="1.2"/><circle cx="198.9" cy="577.8" r="1.2"/><circle cx="191.5" cy="564.2" r="1.2"/><circle cx="158.2" cy="578.8" r="1.2"/><circle cx="149.8" cy="556.9" r="1.2"/><circle cx="170.9" cy="578.8" r="1.2"/><circle cx="158.7" cy="573.5" r="1.2"/><circle cx="173.6" cy="572.4" r="1.2"/><circle cx="148.6" cy="578.3" r="1.2"/><circle cx="166.9" cy="577.8" r="1.2"/><circle cx="145.8" cy="574.5" r="1.2"/><circle cx="189.4" cy="578.3" r="1.2"/><circle cx="169.7" cy="565.3" r="1.2"/><circle cx="182.1" cy="574.7" r="1.2"/><circle cx="183.6" cy="578.7" r="1.2"/><circle cx="156.6" cy="570.0" r="1.2"/><circle cx="169.6" cy="578.3" r="1.2"/><circle cx="178.4" cy="575.7" r="1.2"/><circle cx="148.4" cy="577.1" r="1.2"/><circle cx="180.2" cy="577.8" r="1.2"/><circle cx="162.0" cy="577.1" r="1.2"/><circle cx="195.2" cy="577.7" r="1.2"/><circle cx="172.2" cy="578.3" r="1.2"/><circle cx="153.9" cy="571.0" r="1.2"/><circle cx="190.5" cy="577.2" r="1.2"/><circle cx="181.2" cy="573.1" r="1.2"/><circle cx="195.4" cy="562.4" r="1.2"/><circle cx="176.8" cy="571.6" r="1.2"/><circle cx="178.7" cy="574.8" r="1.2"/><circle cx="179.2" cy="576.7" r="1.2"/><circle cx="193.2" cy="576.6" r="1.2"/><circle cx="199.4" cy="578.4" r="1.2"/><circle cx="145.3" cy="578.2" r="1.2"/><circle cx="147.9" cy="575.8" r="1.2"/><circle cx="162.1" cy="574.7" r="1.2"/><circle cx="180.7" cy="577.3" r="1.2"/><circle cx="198.1" cy="553.6" r="1.2"/><circle cx="163.0" cy="576.6" r="1.2"/><circle cx="176.5" cy="569.5" r="1.2"/><circle cx="166.7" cy="574.6" r="1.2"/><circle cx="190.4" cy="577.7" r="1.2"/><circle cx="182.6" cy="575.9" r="1.2"/><circle cx="144.9" cy="577.6" r="1.2"/><circle cx="191.9" cy="577.4" r="1.2"/><circle cx="186.2" cy="552.6" r="1.2"/><circle cx="194.5" cy="576.8" r="1.2"/><circle cx="154.9" cy="578.5" r="1.2"/><circle cx="194.1" cy="573.6" r="1.2"/><circle cx="163.8" cy="566.9" r="1.2"/><circle cx="196.8" cy="577.5" r="1.2"/><circle cx="157.7" cy="571.8" r="1.2"/><circle cx="171.0" cy="553.3" r="1.2"/><circle cx="157.1" cy="562.0" r="1.2"/><circle cx="147.4" cy="575.8" r="1.2"/><circle cx="149.9" cy="575.7" r="1.2"/><circle cx="165.5" cy="569.1" r="1.2"/><circle cx="188.4" cy="577.1" r="1.2"/><circle cx="169.7" cy="577.1" r="1.2"/><circle cx="155.2" cy="574.6" r="1.2"/><circle cx="179.1" cy="578.9" r="1.2"/><circle cx="191.1" cy="574.2" r="1.2"/><circle cx="193.5" cy="567.7" r="1.2"/><circle cx="200.8" cy="565.7" r="1.2"/><circle cx="151.0" cy="573.5" r="1.2"/><circle cx="182.4" cy="578.6" r="1.2"/><circle cx="152.7" cy="572.7" r="1.2"/><circle cx="146.8" cy="576.2" r="1.2"/><circle cx="163.0" cy="577.1" r="1.2"/><circle cx="156.0" cy="574.2" r="1.2"/><circle cx="197.4" cy="575.4" r="1.2"/><circle cx="185.2" cy="579.1" r="1.2"/><circle cx="186.1" cy="576.2" r="1.2"/><circle cx="194.6" cy="576.0" r="1.2"/><circle cx="173.9" cy="578.8" r="1.2"/><circle cx="161.3" cy="578.7" r="1.2"/><circle cx="195.6" cy="568.7" r="1.2"/><circle cx="166.8" cy="556.0" r="1.2"/><circle cx="200.3" cy="568.1" r="1.2"/><circle cx="174.4" cy="576.1" r="1.2"/><circle cx="157.9" cy="564.2" r="1.2"/><circle cx="191.1" cy="571.9" r="1.2"/><circle cx="153.1" cy="561.8" r="1.2"/><circle cx="156.1" cy="578.3" r="1.2"/><circle cx="149.2" cy="578.1" r="1.2"/><circle cx="193.1" cy="574.6" r="1.2"/><circle cx="169.4" cy="572.7" r="1.2"/><circle cx="151.3" cy="572.9" r="1.2"/><circle cx="170.8" cy="576.4" r="1.2"/><circle cx="169.0" cy="573.5" r="1.2"/><circle cx="152.8" cy="563.1" r="1.2"/><circle cx="160.5" cy="566.1" r="1.2"/><circle cx="166.0" cy="575.8" r="1.2"/><circle cx="148.6" cy="568.8" r="1.2"/><circle cx="190.2" cy="561.0" r="1.2"/><circle cx="161.8" cy="577.5" r="1.2"/><circle cx="193.3" cy="560.2" r="1.2"/><circle cx="184.4" cy="576.8" r="1.2"/><circle cx="157.9" cy="573.4" r="1.2"/><circle cx="190.2" cy="567.4" r="1.2"/><circle cx="196.1" cy="566.9" r="1.2"/><circle cx="176.5" cy="568.1" r="1.2"/><circle cx="185.8" cy="571.7" r="1.2"/><circle cx="190.9" cy="570.6" r="1.2"/><circle cx="184.8" cy="564.8" r="1.2"/><circle cx="199.1" cy="574.0" r="1.2"/><circle cx="172.9" cy="576.0" r="1.2"/><circle cx="162.2" cy="568.6" r="1.2"/><circle cx="165.4" cy="576.3" r="1.2"/><circle cx="179.8" cy="577.1" r="1.2"/><circle cx="149.8" cy="578.3" r="1.2"/><circle cx="191.2" cy="573.4" r="1.2"/><circle cx="185.8" cy="570.0" r="1.2"/><circle cx="153.2" cy="552.8" r="1.2"/><circle cx="158.0" cy="578.4" r="1.2"/><circle cx="186.9" cy="576.5" r="1.2"/><circle cx="179.5" cy="578.8" r="1.2"/><circle cx="182.1" cy="573.0" r="1.2"/><circle cx="167.4" cy="578.9" r="1.2"/><circle cx="161.3" cy="576.7" r="1.2"/><circle cx="198.7" cy="577.9" r="1.2"/><circle cx="149.7" cy="571.2" r="1.2"/><circle cx="167.0" cy="574.1" r="1.2"/><circle cx="160.4" cy="574.0" r="1.2"/><circle cx="173.6" cy="575.4" r="1.2"/><circle cx="190.6" cy="578.5" r="1.2"/><circle cx="186.1" cy="564.4" r="1.2"/><circle cx="175.7" cy="565.5" r="1.2"/><circle cx="187.8" cy="575.0" r="1.2"/><circle cx="165.5" cy="574.1" r="1.2"/><circle cx="186.4" cy="576.2" r="1.2"/><circle cx="170.0" cy="552.9" r="1.2"/><circle cx="166.8" cy="573.6" r="1.2"/><circle cx="171.3" cy="571.3" r="1.2"/><circle cx="198.6" cy="567.3" r="1.2"/><circle cx="178.2" cy="574.7" r="1.2"/><circle cx="144.2" cy="575.3" r="1.2"/><circle cx="199.7" cy="571.4" r="1.2"/><circle cx="159.3" cy="577.9" r="1.2"/><circle cx="179.0" cy="565.5" r="1.2"/><circle cx="164.3" cy="577.3" r="1.2"/><circle cx="197.6" cy="562.7" r="1.2"/><circle cx="188.2" cy="574.1" r="1.2"/><circle cx="175.7" cy="567.7" r="1.2"/><circle cx="162.5" cy="576.9" r="1.2"/><circle cx="193.6" cy="576.5" r="1.2"/><circle cx="170.8" cy="578.2" r="1.2"/><circle cx="163.2" cy="569.4" r="1.2"/><circle cx="150.0" cy="579.1" r="1.2"/><circle cx="179.5" cy="570.5" r="1.2"/><circle cx="158.2" cy="576.9" r="1.2"/><circle cx="157.4" cy="574.4" r="1.2"/><circle cx="149.0" cy="579.0" r="1.2"/><circle cx="162.4" cy="557.3" r="1.2"/><circle cx="170.3" cy="578.5" r="1.2"/><circle cx="143.9" cy="573.7" r="1.2"/><circle cx="160.9" cy="574.7" r="1.2"/><circle cx="201.0" cy="576.5" r="1.2"/><circle cx="147.4" cy="577.9" r="1.2"/><circle cx="160.4" cy="574.9" r="1.2"/><circle cx="143.9" cy="573.2" r="1.2"/><circle cx="197.9" cy="578.5" r="1.2"/><circle cx="145.7" cy="573.1" r="1.2"/><circle cx="186.2" cy="576.9" r="1.2"/><circle cx="158.6" cy="571.6" r="1.2"/><circle cx="189.2" cy="569.7" r="1.2"/><circle cx="154.4" cy="556.7" r="1.2"/><circle cx="181.0" cy="563.7" r="1.2"/><circle cx="148.1" cy="571.7" r="1.2"/><circle cx="194.2" cy="563.4" r="1.2"/><circle cx="168.1" cy="556.6" r="1.2"/><circle cx="168.3" cy="562.6" r="1.2"/><circle cx="194.2" cy="571.2" r="1.2"/><circle cx="201.8" cy="578.7" r="1.2"/><circle cx="201.6" cy="575.0" r="1.2"/><circle cx="185.3" cy="577.5" r="1.2"/><circle cx="196.8" cy="575.3" r="1.2"/><circle cx="155.5" cy="579.1" r="1.2"/><circle cx="146.6" cy="577.1" r="1.2"/><circle cx="201.2" cy="573.5" r="1.2"/><circle cx="174.8" cy="578.2" r="1.2"/><circle cx="196.8" cy="579.3" r="1.2"/><circle cx="166.4" cy="574.3" r="1.2"/><circle cx="192.7" cy="578.1" r="1.2"/><circle cx="145.9" cy="571.9" r="1.2"/><circle cx="192.2" cy="569.6" r="1.2"/><circle cx="156.4" cy="566.7" r="1.2"/><circle cx="196.8" cy="564.9" r="1.2"/><circle cx="185.5" cy="577.7" r="1.2"/><circle cx="184.8" cy="566.5" r="1.2"/><circle cx="150.3" cy="569.8" r="1.2"/><circle cx="192.3" cy="576.7" r="1.2"/><circle cx="164.5" cy="575.8" r="1.2"/><circle cx="161.4" cy="574.9" r="1.2"/><circle cx="198.4" cy="576.2" r="1.2"/><circle cx="156.2" cy="574.8" r="1.2"/><circle cx="191.0" cy="574.0" r="1.2"/><circle cx="179.9" cy="572.4" r="1.2"/><circle cx="149.2" cy="578.9" r="1.2"/><circle cx="157.3" cy="563.6" r="1.2"/><circle cx="170.0" cy="561.5" r="1.2"/><circle cx="149.7" cy="578.5" r="1.2"/><circle cx="146.7" cy="571.3" r="1.2"/><circle cx="184.4" cy="579.0" r="1.2"/><circle cx="165.4" cy="577.2" r="1.2"/><circle cx="158.8" cy="575.8" r="1.2"/><circle cx="200.6" cy="565.0" r="1.2"/><circle cx="192.2" cy="578.7" r="1.2"/><circle cx="162.7" cy="576.7" r="1.2"/><circle cx="169.8" cy="574.3" r="1.2"/><circle cx="201.6" cy="578.0" r="1.2"/><circle cx="180.2" cy="579.1" r="1.2"/><circle cx="152.4" cy="577.1" r="1.2"/><circle cx="163.1" cy="577.1" r="1.2"/><circle cx="190.1" cy="570.7" r="1.2"/><circle cx="166.4" cy="573.7" r="1.2"/><circle cx="199.8" cy="577.3" r="1.2"/><circle cx="182.8" cy="571.7" r="1.2"/><circle cx="181.7" cy="570.1" r="1.2"/><circle cx="171.0" cy="578.0" r="1.2"/><circle cx="196.6" cy="563.1" r="1.2"/><circle cx="181.8" cy="574.8" r="1.2"/><circle cx="198.8" cy="574.7" r="1.2"/><circle cx="160.3" cy="578.4" r="1.2"/><circle cx="146.4" cy="577.8" r="1.2"/><circle cx="154.0" cy="573.6" r="1.2"/><circle cx="159.2" cy="574.8" r="1.2"/><circle cx="173.5" cy="578.6" r="1.2"/><circle cx="168.9" cy="577.3" r="1.2"/><circle cx="155.2" cy="576.9" r="1.2"/><circle cx="182.6" cy="567.7" r="1.2"/><circle cx="143.4" cy="571.4" r="1.2"/><circle cx="155.3" cy="577.2" r="1.2"/><circle cx="166.8" cy="563.8" r="1.2"/><circle cx="163.4" cy="554.1" r="1.2"/><circle cx="174.1" cy="577.4" r="1.2"/><circle cx="187.4" cy="566.6" r="1.2"/><circle cx="192.3" cy="579.1" r="1.2"/><circle cx="184.5" cy="576.7" r="1.2"/><circle cx="200.2" cy="567.5" r="1.2"/><circle cx="187.5" cy="579.1" r="1.2"/><circle cx="158.9" cy="575.8" r="1.2"/><circle cx="196.1" cy="575.4" r="1.2"/><circle cx="155.6" cy="575.7" r="1.2"/><circle cx="153.3" cy="575.9" r="1.2"/><circle cx="195.8" cy="565.7" r="1.2"/><circle cx="156.1" cy="578.3" r="1.2"/><circle cx="153.2" cy="578.7" r="1.2"/><circle cx="151.8" cy="575.3" r="1.2"/><circle cx="175.8" cy="568.6" r="1.2"/><circle cx="190.9" cy="573.1" r="1.2"/><circle cx="160.3" cy="551.5" r="1.2"/><circle cx="190.8" cy="574.2" r="1.2"/><circle cx="196.2" cy="563.6" r="1.2"/><circle cx="176.2" cy="576.2" r="1.2"/><circle cx="150.4" cy="573.7" r="1.2"/><circle cx="197.4" cy="569.4" r="1.2"/><circle cx="156.1" cy="576.9" r="1.2"/><circle cx="157.3" cy="577.8" r="1.2"/><circle cx="170.6" cy="577.4" r="1.2"/><circle cx="168.9" cy="563.1" r="1.2"/><circle cx="188.7" cy="575.1" r="1.2"/><circle cx="174.9" cy="554.6" r="1.2"/><circle cx="159.9" cy="563.5" r="1.2"/><circle cx="165.7" cy="565.4" r="1.2"/><circle cx="172.0" cy="573.2" r="1.2"/><circle cx="190.1" cy="574.5" r="1.2"/><circle cx="154.3" cy="577.8" r="1.2"/><circle cx="146.1" cy="565.7" r="1.2"/><circle cx="171.0" cy="567.6" r="1.2"/><circle cx="199.9" cy="577.9" r="1.2"/><circle cx="144.5" cy="571.6" r="1.2"/><circle cx="183.5" cy="579.2" r="1.2"/><circle cx="179.6" cy="573.0" r="1.2"/><circle cx="154.0" cy="570.0" r="1.2"/><circle cx="180.2" cy="574.1" r="1.2"/><circle cx="154.4" cy="572.2" r="1.2"/><circle cx="169.2" cy="577.9" r="1.2"/><circle cx="190.3" cy="574.9" r="1.2"/><circle cx="153.4" cy="577.2" r="1.2"/><circle cx="195.6" cy="562.3" r="1.2"/><circle cx="200.0" cy="575.4" r="1.2"/><circle cx="162.6" cy="575.2" r="1.2"/><circle cx="159.2" cy="504.4" r="1.2"/><circle cx="153.7" cy="524.9" r="1.2"/><circle cx="157.4" cy="529.4" r="1.2"/><circle cx="197.4" cy="523.9" r="1.2"/><circle cx="181.7" cy="537.6" r="1.2"/><circle cx="166.7" cy="543.4" r="1.2"/><circle cx="163.4" cy="544.6" r="1.2"/><circle cx="171.9" cy="548.9" r="1.2"/><circle cx="181.9" cy="551.6" r="1.2"/></g>
<g fill="#1597d5"><circle cx="178.1" cy="602.3" r="1.2"/><circle cx="149.4" cy="604.0" r="1.2"/><circle cx="157.5" cy="595.0" r="1.2"/><circle cx="152.7" cy="607.2" r="1.2"/><circle cx="184.6" cy="594.8" r="1.2"/><circle cx="193.7" cy="598.5" r="1.2"/><circle cx="155.6" cy="598.0" r="1.2"/><circle cx="157.7" cy="605.5" r="1.2"/><circle cx="160.7" cy="598.0" r="1.2"/><circle cx="201.0" cy="600.9" r="1.2"/><circle cx="151.2" cy="595.2" r="1.2"/><circle cx="193.7" cy="598.5" r="1.2"/><circle cx="171.4" cy="613.2" r="1.2"/><circle cx="197.6" cy="597.4" r="1.2"/><circle cx="190.4" cy="597.8" r="1.2"/><circle cx="156.9" cy="600.3" r="1.2"/><circle cx="163.0" cy="599.3" r="1.2"/><circle cx="159.4" cy="595.7" r="1.2"/><circle cx="154.3" cy="598.0" r="1.2"/><circle cx="196.7" cy="616.8" r="1.2"/><circle cx="200.9" cy="596.8" r="1.2"/><circle cx="199.1" cy="595.3" r="1.2"/><circle cx="175.5" cy="595.0" r="1.2"/><circle cx="160.8" cy="595.3" r="1.2"/><circle cx="190.6" cy="598.2" r="1.2"/><circle cx="166.3" cy="607.5" r="1.2"/><circle cx="187.9" cy="596.7" r="1.2"/><circle cx="175.3" cy="600.9" r="1.2"/><circle cx="164.4" cy="611.7" r="1.2"/><circle cx="144.3" cy="602.2" r="1.2"/><circle cx="170.2" cy="596.6" r="1.2"/><circle cx="146.3" cy="600.0" r="1.2"/><circle cx="144.0" cy="599.9" r="1.2"/><circle cx="158.1" cy="598.5" r="1.2"/><circle cx="179.7" cy="598.6" r="1.2"/><circle cx="191.6" cy="605.8" r="1.2"/><circle cx="182.1" cy="596.5" r="1.2"/><circle cx="191.8" cy="600.8" r="1.2"/><circle cx="147.9" cy="601.4" r="1.2"/><circle cx="164.9" cy="594.9" r="1.2"/><circle cx="186.5" cy="595.9" r="1.2"/><circle cx="155.2" cy="600.3" r="1.2"/><circle cx="190.4" cy="612.4" r="1.2"/><circle cx="186.6" cy="597.2" r="1.2"/><circle cx="153.9" cy="594.6" r="1.2"/><circle cx="158.1" cy="618.7" r="1.2"/><circle cx="187.7" cy="602.0" r="1.2"/><circle cx="176.6" cy="596.0" r="1.2"/><circle cx="171.7" cy="601.4" r="1.2"/><circle cx="196.3" cy="600.5" r="1.2"/><circle cx="163.7" cy="605.5" r="1.2"/><circle cx="145.6" cy="603.0" r="1.2"/><circle cx="144.8" cy="608.1" r="1.2"/><circle cx="152.8" cy="596.5" r="1.2"/><circle cx="171.8" cy="619.3" r="1.2"/><circle cx="150.3" cy="595.7" r="1.2"/><circle cx="157.0" cy="614.3" r="1.2"/><circle cx="148.0" cy="597.4" r="1.2"/><circle cx="158.9" cy="607.7" r="1.2"/><circle cx="160.7" cy="600.1" r="1.2"/><circle cx="198.7" cy="605.5" r="1.2"/><circle cx="187.7" cy="595.9" r="1.2"/><circle cx="152.0" cy="599.3" r="1.2"/><circle cx="150.0" cy="597.3" r="1.2"/><circle cx="192.1" cy="607.7" r="1.2"/><circle cx="148.5" cy="595.8" r="1.2"/><circle cx="144.7" cy="595.9" r="1.2"/><circle cx="196.7" cy="601.4" r="1.2"/><circle cx="195.8" cy="595.6" r="1.2"/><circle cx="180.5" cy="596.7" r="1.2"/><circle cx="187.4" cy="600.1" r="1.2"/><circle cx="145.5" cy="599.5" r="1.2"/><circle cx="180.1" cy="597.3" r="1.2"/><circle cx="184.4" cy="610.3" r="1.2"/><circle cx="172.0" cy="597.1" r="1.2"/><circle cx="187.6" cy="598.8" r="1.2"/><circle cx="181.5" cy="602.8" r="1.2"/><circle cx="143.8" cy="601.6" r="1.2"/><circle cx="148.3" cy="596.8" r="1.2"/><circle cx="183.8" cy="599.5" r="1.2"/><circle cx="178.0" cy="607.6" r="1.2"/><circle cx="168.0" cy="604.8" r="1.2"/><circle cx="174.5" cy="603.1" r="1.2"/><circle cx="167.5" cy="607.7" r="1.2"/><circle cx="144.7" cy="596.7" r="1.2"/><circle cx="184.6" cy="595.8" r="1.2"/><circle cx="166.3" cy="598.8" r="1.2"/><circle cx="183.8" cy="597.8" r="1.2"/><circle cx="144.2" cy="605.6" r="1.2"/><circle cx="198.9" cy="616.3" r="1.2"/><circle cx="174.2" cy="597.5" r="1.2"/><circle cx="159.5" cy="594.8" r="1.2"/><circle cx="185.1" cy="596.8" r="1.2"/><circle cx="184.8" cy="597.9" r="1.2"/><circle cx="180.9" cy="601.0" r="1.2"/><circle cx="168.4" cy="596.4" r="1.2"/><circle cx="181.4" cy="612.4" r="1.2"/><circle cx="181.6" cy="618.1" r="1.2"/><circle cx="173.7" cy="603.8" r="1.2"/><circle cx="186.7" cy="595.4" r="1.2"/><circle cx="192.4" cy="609.6" r="1.2"/><circle cx="171.4" cy="595.2" r="1.2"/><circle cx="181.9" cy="596.5" r="1.2"/><circle cx="179.8" cy="595.2" r="1.2"/><circle cx="189.5" cy="597.3" r="1.2"/><circle cx="155.9" cy="599.6" r="1.2"/><circle cx="176.5" cy="603.1" r="1.2"/><circle cx="182.5" cy="612.8" r="1.2"/><circle cx="190.6" cy="600.0" r="1.2"/><circle cx="157.7" cy="608.6" r="1.2"/><circle cx="166.1" cy="596.7" r="1.2"/><circle cx="191.8" cy="609.7" r="1.2"/><circle cx="173.5" cy="604.4" r="1.2"/><circle cx="145.0" cy="597.3" r="1.2"/><circle cx="146.8" cy="611.9" r="1.2"/><circle cx="180.3" cy="602.0" r="1.2"/><circle cx="192.6" cy="605.7" r="1.2"/><circle cx="170.9" cy="598.2" r="1.2"/><circle cx="173.2" cy="602.5" r="1.2"/><circle cx="166.1" cy="596.4" r="1.2"/><circle cx="199.2" cy="596.7" r="1.2"/><circle cx="167.5" cy="595.0" r="1.2"/><circle cx="190.0" cy="595.7" r="1.2"/><circle cx="148.2" cy="598.7" r="1.2"/><circle cx="195.5" cy="600.3" r="1.2"/><circle cx="194.6" cy="601.1" r="1.2"/><circle cx="196.6" cy="603.6" r="1.2"/><circle cx="175.0" cy="600.0" r="1.2"/><circle cx="168.3" cy="597.7" r="1.2"/><circle cx="185.4" cy="597.2" r="1.2"/><circle cx="192.8" cy="601.1" r="1.2"/><circle cx="198.3" cy="600.1" r="1.2"/><circle cx="171.9" cy="598.4" r="1.2"/><circle cx="173.8" cy="594.9" r="1.2"/><circle cx="144.7" cy="597.1" r="1.2"/><circle cx="155.8" cy="600.8" r="1.2"/><circle cx="167.1" cy="594.9" r="1.2"/><circle cx="196.9" cy="596.7" r="1.2"/><circle cx="159.6" cy="599.2" r="1.2"/><circle cx="165.1" cy="601.9" r="1.2"/><circle cx="151.8" cy="595.5" r="1.2"/><circle cx="171.6" cy="603.7" r="1.2"/><circle cx="145.0" cy="596.1" r="1.2"/><circle cx="170.2" cy="598.3" r="1.2"/><circle cx="161.9" cy="594.8" r="1.2"/><circle cx="201.5" cy="599.7" r="1.2"/><circle cx="180.9" cy="598.9" r="1.2"/><circle cx="146.3" cy="608.6" r="1.2"/><circle cx="161.8" cy="600.1" r="1.2"/><circle cx="188.0" cy="602.2" r="1.2"/><circle cx="201.4" cy="603.6" r="1.2"/><circle cx="164.1" cy="594.8" r="1.2"/><circle cx="172.2" cy="604.3" r="1.2"/><circle cx="153.8" cy="596.6" r="1.2"/><circle cx="193.9" cy="595.2" r="1.2"/><circle cx="153.5" cy="594.6" r="1.2"/><circle cx="191.0" cy="598.8" r="1.2"/><circle cx="178.6" cy="598.6" r="1.2"/><circle cx="199.9" cy="604.6" r="1.2"/><circle cx="147.0" cy="596.0" r="1.2"/><circle cx="160.4" cy="607.3" r="1.2"/><circle cx="170.0" cy="601.1" r="1.2"/><circle cx="200.6" cy="596.0" r="1.2"/><circle cx="193.8" cy="599.3" r="1.2"/><circle cx="183.1" cy="595.2" r="1.2"/><circle cx="148.6" cy="598.4" r="1.2"/><circle cx="189.6" cy="594.7" r="1.2"/><circle cx="186.4" cy="596.7" r="1.2"/><circle cx="169.1" cy="599.9" r="1.2"/><circle cx="147.1" cy="604.9" r="1.2"/><circle cx="197.6" cy="595.6" r="1.2"/><circle cx="188.7" cy="603.2" r="1.2"/><circle cx="172.6" cy="610.6" r="1.2"/><circle cx="174.4" cy="598.9" r="1.2"/><circle cx="185.7" cy="598.8" r="1.2"/><circle cx="167.6" cy="595.5" r="1.2"/><circle cx="161.8" cy="601.7" r="1.2"/><circle cx="172.2" cy="594.8" r="1.2"/><circle cx="191.4" cy="600.4" r="1.2"/><circle cx="161.3" cy="596.3" r="1.2"/><circle cx="181.4" cy="597.8" r="1.2"/><circle cx="175.2" cy="601.8" r="1.2"/><circle cx="168.0" cy="595.4" r="1.2"/><circle cx="183.6" cy="594.8" r="1.2"/><circle cx="180.2" cy="619.4" r="1.2"/><circle cx="179.2" cy="595.9" r="1.2"/><circle cx="189.5" cy="603.2" r="1.2"/><circle cx="171.7" cy="603.0" r="1.2"/><circle cx="173.4" cy="596.9" r="1.2"/><circle cx="199.1" cy="596.2" r="1.2"/><circle cx="147.5" cy="596.3" r="1.2"/><circle cx="160.5" cy="602.4" r="1.2"/><circle cx="174.7" cy="604.1" r="1.2"/><circle cx="147.9" cy="601.9" r="1.2"/><circle cx="164.1" cy="597.0" r="1.2"/><circle cx="146.2" cy="596.9" r="1.2"/><circle cx="169.8" cy="595.9" r="1.2"/><circle cx="154.3" cy="619.4" r="1.2"/><circle cx="154.3" cy="601.8" r="1.2"/><circle cx="156.9" cy="596.3" r="1.2"/><circle cx="152.9" cy="598.5" r="1.2"/><circle cx="198.5" cy="597.1" r="1.2"/><circle cx="200.8" cy="600.8" r="1.2"/><circle cx="191.2" cy="599.7" r="1.2"/><circle cx="150.2" cy="600.8" r="1.2"/><circle cx="189.0" cy="613.5" r="1.2"/><circle cx="185.7" cy="618.1" r="1.2"/><circle cx="196.5" cy="595.7" r="1.2"/><circle cx="171.6" cy="603.1" r="1.2"/><circle cx="145.7" cy="595.9" r="1.2"/><circle cx="188.2" cy="596.2" r="1.2"/><circle cx="169.3" cy="597.1" r="1.2"/><circle cx="190.7" cy="596.3" r="1.2"/><circle cx="147.8" cy="602.0" r="1.2"/><circle cx="160.6" cy="597.1" r="1.2"/><circle cx="189.1" cy="598.2" r="1.2"/><circle cx="156.2" cy="599.2" r="1.2"/><circle cx="195.3" cy="596.2" r="1.2"/><circle cx="174.9" cy="613.0" r="1.2"/><circle cx="185.0" cy="595.6" r="1.2"/><circle cx="197.9" cy="598.6" r="1.2"/><circle cx="169.6" cy="600.2" r="1.2"/><circle cx="146.2" cy="597.4" r="1.2"/><circle cx="154.1" cy="618.3" r="1.2"/><circle cx="158.6" cy="598.3" r="1.2"/><circle cx="171.2" cy="599.6" r="1.2"/><circle cx="176.9" cy="594.8" r="1.2"/><circle cx="171.7" cy="597.2" r="1.2"/><circle cx="176.5" cy="596.2" r="1.2"/><circle cx="187.7" cy="597.7" r="1.2"/><circle cx="197.0" cy="596.8" r="1.2"/><circle cx="188.5" cy="609.6" r="1.2"/><circle cx="152.9" cy="604.0" r="1.2"/><circle cx="195.4" cy="596.3" r="1.2"/><circle cx="144.0" cy="601.8" r="1.2"/><circle cx="151.6" cy="596.0" r="1.2"/><circle cx="191.5" cy="604.2" r="1.2"/><circle cx="146.0" cy="598.9" r="1.2"/><circle cx="194.3" cy="608.6" r="1.2"/><circle cx="181.6" cy="594.8" r="1.2"/><circle cx="159.4" cy="595.2" r="1.2"/><circle cx="174.1" cy="604.5" r="1.2"/><circle cx="190.5" cy="599.4" r="1.2"/><circle cx="172.5" cy="599.6" r="1.2"/><circle cx="190.8" cy="607.4" r="1.2"/><circle cx="165.1" cy="595.5" r="1.2"/><circle cx="184.6" cy="597.4" r="1.2"/><circle cx="154.9" cy="603.9" r="1.2"/><circle cx="165.6" cy="608.9" r="1.2"/><circle cx="165.0" cy="595.1" r="1.2"/><circle cx="152.5" cy="595.1" r="1.2"/><circle cx="148.3" cy="603.5" r="1.2"/><circle cx="185.5" cy="598.0" r="1.2"/><circle cx="147.6" cy="611.3" r="1.2"/><circle cx="197.6" cy="604.7" r="1.2"/><circle cx="176.2" cy="596.3" r="1.2"/><circle cx="151.4" cy="596.5" r="1.2"/><circle cx="163.9" cy="594.8" r="1.2"/><circle cx="199.2" cy="595.4" r="1.2"/><circle cx="191.5" cy="597.3" r="1.2"/><circle cx="161.6" cy="596.5" r="1.2"/><circle cx="161.0" cy="595.9" r="1.2"/><circle cx="197.2" cy="595.5" r="1.2"/><circle cx="168.0" cy="603.4" r="1.2"/><circle cx="152.9" cy="600.3" r="1.2"/><circle cx="175.9" cy="595.6" r="1.2"/><circle cx="197.4" cy="596.2" r="1.2"/><circle cx="173.6" cy="611.1" r="1.2"/><circle cx="166.3" cy="598.1" r="1.2"/><circle cx="185.8" cy="601.0" r="1.2"/><circle cx="193.3" cy="602.2" r="1.2"/><circle cx="155.2" cy="594.7" r="1.2"/><circle cx="190.6" cy="599.5" r="1.2"/><circle cx="182.6" cy="601.7" r="1.2"/><circle cx="201.2" cy="596.0" r="1.2"/><circle cx="185.6" cy="594.9" r="1.2"/><circle cx="153.8" cy="599.1" r="1.2"/><circle cx="191.7" cy="602.4" r="1.2"/><circle cx="144.3" cy="595.7" r="1.2"/><circle cx="170.1" cy="610.9" r="1.2"/><circle cx="180.8" cy="600.5" r="1.2"/><circle cx="167.7" cy="594.8" r="1.2"/><circle cx="161.9" cy="595.2" r="1.2"/><circle cx="183.7" cy="606.1" r="1.2"/><circle cx="170.1" cy="598.7" r="1.2"/><circle cx="153.5" cy="596.5" r="1.2"/><circle cx="174.0" cy="604.8" r="1.2"/><circle cx="169.5" cy="607.1" r="1.2"/><circle cx="199.4" cy="596.5" r="1.2"/><circle cx="143.6" cy="602.4" r="1.2"/><circle cx="162.3" cy="607.6" r="1.2"/><circle cx="184.7" cy="595.6" r="1.2"/><circle cx="144.6" cy="598.4" r="1.2"/><circle cx="170.2" cy="620.6" r="1.2"/><circle cx="158.9" cy="604.4" r="1.2"/><circle cx="170.8" cy="612.2" r="1.2"/><circle cx="175.5" cy="613.4" r="1.2"/><circle cx="161.8" cy="608.6" r="1.2"/><circle cx="157.4" cy="600.6" r="1.2"/><circle cx="197.6" cy="603.8" r="1.2"/><circle cx="189.1" cy="595.2" r="1.2"/><circle cx="167.8" cy="606.6" r="1.2"/><circle cx="151.1" cy="618.0" r="1.2"/><circle cx="195.7" cy="600.1" r="1.2"/><circle cx="198.0" cy="610.2" r="1.2"/><circle cx="167.1" cy="600.2" r="1.2"/><circle cx="188.5" cy="598.0" r="1.2"/><circle cx="146.7" cy="595.3" r="1.2"/><circle cx="149.8" cy="598.2" r="1.2"/><circle cx="145.2" cy="595.5" r="1.2"/><circle cx="174.5" cy="600.5" r="1.2"/><circle cx="155.0" cy="597.8" r="1.2"/><circle cx="201.7" cy="596.4" r="1.2"/><circle cx="175.5" cy="600.6" r="1.2"/><circle cx="175.4" cy="603.1" r="1.2"/><circle cx="168.4" cy="595.9" r="1.2"/><circle cx="184.4" cy="596.0" r="1.2"/><circle cx="169.7" cy="596.1" r="1.2"/><circle cx="162.5" cy="600.5" r="1.2"/><circle cx="177.3" cy="598.0" r="1.2"/><circle cx="181.6" cy="606.6" r="1.2"/><circle cx="145.7" cy="597.0" r="1.2"/><circle cx="143.8" cy="595.8" r="1.2"/><circle cx="168.3" cy="597.1" r="1.2"/><circle cx="144.1" cy="598.5" r="1.2"/><circle cx="180.6" cy="596.1" r="1.2"/><circle cx="168.5" cy="597.7" r="1.2"/><circle cx="181.7" cy="596.4" r="1.2"/><circle cx="156.9" cy="600.7" r="1.2"/><circle cx="148.1" cy="599.9" r="1.2"/><circle cx="148.4" cy="606.0" r="1.2"/><circle cx="149.6" cy="596.3" r="1.2"/><circle cx="156.5" cy="606.6" r="1.2"/><circle cx="145.0" cy="601.8" r="1.2"/><circle cx="164.3" cy="607.2" r="1.2"/><circle cx="186.6" cy="609.7" r="1.2"/><circle cx="199.0" cy="595.7" r="1.2"/><circle cx="164.2" cy="609.1" r="1.2"/><circle cx="182.5" cy="603.8" r="1.2"/><circle cx="154.8" cy="601.7" r="1.2"/><circle cx="145.0" cy="659.7" r="1.2"/><circle cx="153.2" cy="645.5" r="1.2"/><circle cx="158.7" cy="632.8" r="1.2"/><circle cx="158.9" cy="637.7" r="1.2"/><circle cx="173.2" cy="640.2" r="1.2"/><circle cx="176.9" cy="639.7" r="1.2"/><circle cx="181.7" cy="647.7" r="1.2"/><circle cx="186.9" cy="651.7" r="1.2"/><circle cx="192.4" cy="629.8" r="1.2"/><circle cx="166.2" cy="626.8" r="1.2"/><circle cx="168.2" cy="624.8" r="1.2"/></g>
<text x="142.00" y="513.10">n=103</text>
<text x="142.00" y="659.20">n=120</text>
<rect x="212.50" y="501.20" width="65.50" height="183.80" fill="#e9ebeb"/>
<text x="245.25" y="495.40" text-anchor="middle">48h</text>
<g fill="#d42b3a"><circle cx="226.4" cy="576.1" r="1.2"/><circle cx="244.6" cy="565.3" r="1.2"/><circle cx="239.6" cy="570.1" r="1.2"/><circle cx="231.9" cy="578.3" r="1.2"/><circle cx="216.2" cy="570.4" r="1.2"/><circle cx="232.4" cy="571.4" r="1.2"/><circle cx="248.2" cy="577.1" r="1.2"/><circle cx="266.6" cy="579.2" r="1.2"/><circle cx="239.7" cy="576.4" r="1.2"/><circle cx="265.1" cy="569.3" r="1.2"/><circle cx="236.0" cy="573.6" r="1.2"/><circle cx="221.8" cy="578.2" r="1.2"/><circle cx="252.1" cy="572.8" r="1.2"/><circle cx="273.2" cy="574.1" r="1.2"/><circle cx="242.5" cy="571.9" r="1.2"/><circle cx="244.5" cy="568.9" r="1.2"/><circle cx="238.7" cy="574.1" r="1.2"/><circle cx="245.7" cy="567.4" r="1.2"/><circle cx="225.5" cy="568.0" r="1.2"/><circle cx="231.6" cy="565.0" r="1.2"/><circle cx="249.6" cy="572.6" r="1.2"/><circle cx="222.6" cy="561.4" r="1.2"/><circle cx="233.5" cy="556.1" r="1.2"/><circle cx="271.0" cy="560.8" r="1.2"/><circle cx="218.4" cy="574.2" r="1.2"/><circle cx="222.5" cy="577.1" r="1.2"/><circle cx="268.5" cy="576.7" r="1.2"/><circle cx="246.4" cy="578.1" r="1.2"/><circle cx="224.2" cy="575.4" r="1.2"/><circle cx="254.4" cy="577.4" r="1.2"/><circle cx="246.4" cy="573.8" r="1.2"/><circle cx="227.6" cy="566.2" r="1.2"/><circle cx="239.1" cy="562.0" r="1.2"/><circle cx="230.1" cy="572.7" r="1.2"/><circle cx="243.2" cy="577.1" r="1.2"/><circle cx="238.4" cy="570.1" r="1.2"/><circle cx="233.5" cy="573.5" r="1.2"/><circle cx="264.1" cy="578.4" r="1.2"/><circle cx="242.7" cy="575.7" r="1.2"/><circle cx="229.3" cy="559.1" r="1.2"/><circle cx="246.2" cy="579.3" r="1.2"/><circle cx="254.6" cy="565.5" r="1.2"/><circle cx="257.8" cy="577.5" r="1.2"/><circle cx="223.6" cy="569.0" r="1.2"/><circle cx="237.2" cy="576.9" r="1.2"/><circle cx="259.0" cy="577.0" r="1.2"/><circle cx="274.2" cy="573.9" r="1.2"/><circle cx="273.4" cy="576.7" r="1.2"/><circle cx="269.7" cy="577.8" r="1.2"/><circle cx="246.6" cy="574.0" r="1.2"/><circle cx="223.2" cy="575.3" r="1.2"/><circle cx="245.3" cy="568.7" r="1.2"/><circle cx="236.3" cy="575.5" r="1.2"/><circle cx="257.2" cy="574.9" r="1.2"/><circle cx="226.6" cy="568.8" r="1.2"/><circle cx="238.7" cy="575.2" r="1.2"/><circle cx="246.9" cy="575.5" r="1.2"/><circle cx="250.6" cy="573.5" r="1.2"/><circle cx="230.6" cy="560.3" r="1.2"/><circle cx="248.6" cy="569.3" r="1.2"/><circle cx="266.8" cy="572.2" r="1.2"/><circle cx="263.1" cy="566.0" r="1.2"/><circle cx="266.4" cy="578.2" r="1.2"/><circle cx="265.5" cy="575.4" r="1.2"/><circle cx="232.5" cy="572.6" r="1.2"/><circle cx="260.3" cy="571.9" r="1.2"/><circle cx="247.7" cy="578.2" r="1.2"/><circle cx="256.1" cy="552.8" r="1.2"/><circle cx="219.7" cy="574.8" r="1.2"/><circle cx="263.4" cy="573.7" r="1.2"/><circle cx="274.2" cy="574.5" r="1.2"/><circle cx="246.0" cy="570.4" r="1.2"/><circle cx="219.7" cy="571.5" r="1.2"/><circle cx="230.1" cy="578.6" r="1.2"/><circle cx="251.9" cy="558.5" r="1.2"/><circle cx="254.5" cy="570.9" r="1.2"/><circle cx="250.1" cy="572.9" r="1.2"/><circle cx="248.1" cy="556.0" r="1.2"/><circle cx="223.9" cy="570.1" r="1.2"/><circle cx="216.7" cy="577.2" r="1.2"/><circle cx="237.2" cy="563.7" r="1.2"/><circle cx="253.1" cy="566.5" r="1.2"/><circle cx="216.2" cy="566.8" r="1.2"/><circle cx="273.6" cy="561.3" r="1.2"/><circle cx="227.9" cy="571.9" r="1.2"/><circle cx="251.6" cy="578.6" r="1.2"/><circle cx="247.1" cy="579.2" r="1.2"/><circle cx="253.3" cy="574.2" r="1.2"/><circle cx="261.9" cy="574.1" r="1.2"/><circle cx="261.5" cy="566.9" r="1.2"/><circle cx="219.6" cy="578.9" r="1.2"/><circle cx="232.8" cy="577.7" r="1.2"/><circle cx="234.8" cy="577.8" r="1.2"/><circle cx="259.8" cy="575.3" r="1.2"/><circle cx="243.2" cy="574.3" r="1.2"/><circle cx="230.8" cy="578.7" r="1.2"/><circle cx="245.3" cy="570.8" r="1.2"/><circle cx="228.0" cy="576.2" r="1.2"/><circle cx="216.2" cy="578.9" r="1.2"/><circle cx="224.2" cy="578.8" r="1.2"/><circle cx="252.3" cy="567.4" r="1.2"/><circle cx="220.1" cy="575.2" r="1.2"/><circle cx="272.8" cy="572.9" r="1.2"/><circle cx="243.6" cy="566.6" r="1.2"/><circle cx="221.5" cy="564.7" r="1.2"/><circle cx="246.9" cy="562.9" r="1.2"/><circle cx="225.2" cy="574.9" r="1.2"/><circle cx="247.1" cy="564.7" r="1.2"/><circle cx="257.8" cy="575.3" r="1.2"/><circle cx="267.1" cy="567.2" r="1.2"/><circle cx="241.3" cy="572.6" r="1.2"/><circle cx="259.6" cy="571.9" r="1.2"/><circle cx="262.9" cy="573.4" r="1.2"/><circle cx="218.0" cy="576.0" r="1.2"/><circle cx="273.8" cy="555.3" r="1.2"/><circle cx="271.7" cy="577.9" r="1.2"/><circle cx="265.0" cy="578.7" r="1.2"/><circle cx="272.5" cy="575.8" r="1.2"/><circle cx="256.9" cy="575.5" r="1.2"/><circle cx="222.9" cy="576.0" r="1.2"/><circle cx="229.1" cy="556.7" r="1.2"/><circle cx="272.2" cy="575.2" r="1.2"/><circle cx="234.5" cy="575.3" r="1.2"/><circle cx="230.3" cy="576.0" r="1.2"/><circle cx="271.4" cy="578.6" r="1.2"/><circle cx="256.9" cy="575.8" r="1.2"/><circle cx="254.7" cy="565.9" r="1.2"/><circle cx="254.3" cy="569.5" r="1.2"/><circle cx="236.8" cy="577.4" r="1.2"/><circle cx="219.6" cy="572.5" r="1.2"/><circle cx="257.9" cy="577.8" r="1.2"/><circle cx="251.2" cy="567.4" r="1.2"/><circle cx="248.6" cy="572.9" r="1.2"/><circle cx="269.5" cy="576.6" r="1.2"/><circle cx="244.5" cy="577.5" r="1.2"/><circle cx="226.6" cy="566.8" r="1.2"/><circle cx="265.7" cy="568.7" r="1.2"/><circle cx="231.3" cy="561.7" r="1.2"/><circle cx="226.8" cy="564.8" r="1.2"/><circle cx="259.7" cy="573.6" r="1.2"/><circle cx="245.8" cy="571.0" r="1.2"/><circle cx="228.9" cy="574.2" r="1.2"/><circle cx="244.7" cy="573.8" r="1.2"/><circle cx="267.0" cy="573.4" r="1.2"/><circle cx="246.4" cy="574.2" r="1.2"/><circle cx="244.1" cy="559.0" r="1.2"/><circle cx="255.3" cy="564.5" r="1.2"/><circle cx="231.5" cy="572.4" r="1.2"/><circle cx="244.3" cy="578.4" r="1.2"/><circle cx="224.3" cy="571.2" r="1.2"/><circle cx="232.0" cy="578.7" r="1.2"/><circle cx="245.9" cy="572.2" r="1.2"/><circle cx="273.9" cy="575.7" r="1.2"/><circle cx="272.9" cy="559.7" r="1.2"/><circle cx="236.8" cy="575.8" r="1.2"/><circle cx="234.3" cy="570.9" r="1.2"/><circle cx="254.6" cy="573.3" r="1.2"/><circle cx="220.7" cy="578.9" r="1.2"/><circle cx="238.4" cy="579.0" r="1.2"/><circle cx="230.9" cy="576.4" r="1.2"/><circle cx="236.9" cy="578.7" r="1.2"/><circle cx="259.7" cy="574.4" r="1.2"/><circle cx="274.3" cy="575.9" r="1.2"/><circle cx="254.8" cy="575.2" r="1.2"/><circle cx="237.6" cy="574.6" r="1.2"/><circle cx="236.4" cy="578.1" r="1.2"/><circle cx="274.3" cy="551.6" r="1.2"/><circle cx="243.6" cy="578.6" r="1.2"/><circle cx="245.4" cy="568.8" r="1.2"/><circle cx="259.4" cy="562.2" r="1.2"/><circle cx="227.7" cy="570.6" r="1.2"/><circle cx="226.0" cy="560.3" r="1.2"/><circle cx="251.8" cy="567.5" r="1.2"/><circle cx="239.3" cy="568.7" r="1.2"/><circle cx="229.5" cy="575.5" r="1.2"/><circle cx="262.6" cy="568.3" r="1.2"/><circle cx="242.8" cy="572.4" r="1.2"/><circle cx="231.1" cy="570.0" r="1.2"/><circle cx="226.8" cy="579.3" r="1.2"/><circle cx="241.5" cy="579.0" r="1.2"/><circle cx="271.6" cy="579.3" r="1.2"/><circle cx="238.8" cy="565.6" r="1.2"/><circle cx="223.6" cy="565.4" r="1.2"/><circle cx="224.4" cy="576.2" r="1.2"/><circle cx="257.5" cy="562.2" r="1.2"/><circle cx="250.0" cy="568.2" r="1.2"/><circle cx="228.7" cy="573.1" r="1.2"/><circle cx="233.4" cy="567.7" r="1.2"/><circle cx="265.8" cy="577.7" r="1.2"/><circle cx="228.0" cy="574.3" r="1.2"/><circle cx="266.0" cy="561.5" r="1.2"/><circle cx="266.9" cy="576.2" r="1.2"/><circle cx="237.1" cy="578.9" r="1.2"/><circle cx="257.3" cy="579.4" r="1.2"/><circle cx="232.4" cy="575.5" r="1.2"/><circle cx="247.5" cy="575.0" r="1.2"/><circle cx="263.1" cy="558.6" r="1.2"/><circle cx="241.0" cy="578.3" r="1.2"/><circle cx="223.0" cy="578.2" r="1.2"/><circle cx="248.8" cy="576.8" r="1.2"/><circle cx="256.3" cy="574.3" r="1.2"/><circle cx="253.4" cy="571.8" r="1.2"/><circle cx="262.9" cy="575.3" r="1.2"/><circle cx="232.1" cy="576.5" r="1.2"/><circle cx="258.9" cy="572.4" r="1.2"/><circle cx="244.8" cy="578.8" r="1.2"/><circle cx="251.9" cy="579.3" r="1.2"/><circle cx="245.6" cy="571.6" r="1.2"/><circle cx="234.5" cy="570.8" r="1.2"/><circle cx="249.2" cy="579.0" r="1.2"/><circle cx="228.1" cy="578.7" r="1.2"/><circle cx="238.2" cy="572.9" r="1.2"/><circle cx="257.2" cy="579.1" r="1.2"/><circle cx="259.5" cy="573.9" r="1.2"/><circle cx="246.8" cy="574.7" r="1.2"/><circle cx="270.7" cy="575.1" r="1.2"/><circle cx="251.9" cy="574.1" r="1.2"/><circle cx="240.1" cy="577.5" r="1.2"/><circle cx="260.8" cy="564.8" r="1.2"/><circle cx="218.9" cy="565.4" r="1.2"/><circle cx="240.0" cy="563.6" r="1.2"/><circle cx="251.7" cy="573.2" r="1.2"/><circle cx="232.1" cy="564.7" r="1.2"/><circle cx="270.0" cy="565.4" r="1.2"/><circle cx="235.1" cy="564.0" r="1.2"/><circle cx="235.4" cy="577.7" r="1.2"/><circle cx="256.2" cy="574.3" r="1.2"/><circle cx="224.2" cy="576.7" r="1.2"/><circle cx="244.8" cy="572.5" r="1.2"/><circle cx="239.2" cy="553.0" r="1.2"/><circle cx="232.6" cy="576.9" r="1.2"/><circle cx="268.0" cy="576.9" r="1.2"/><circle cx="224.1" cy="578.4" r="1.2"/><circle cx="221.8" cy="566.0" r="1.2"/><circle cx="229.6" cy="567.7" r="1.2"/><circle cx="240.6" cy="578.8" r="1.2"/><circle cx="255.0" cy="573.6" r="1.2"/><circle cx="261.5" cy="563.6" r="1.2"/><circle cx="237.3" cy="574.1" r="1.2"/><circle cx="230.1" cy="573.4" r="1.2"/><circle cx="261.0" cy="575.2" r="1.2"/><circle cx="251.0" cy="579.1" r="1.2"/><circle cx="217.7" cy="572.9" r="1.2"/><circle cx="237.3" cy="576.2" r="1.2"/><circle cx="264.1" cy="578.3" r="1.2"/><circle cx="255.0" cy="566.0" r="1.2"/><circle cx="256.8" cy="572.8" r="1.2"/><circle cx="222.6" cy="573.4" r="1.2"/><circle cx="221.0" cy="573.6" r="1.2"/><circle cx="267.3" cy="574.0" r="1.2"/><circle cx="258.8" cy="577.2" r="1.2"/><circle cx="262.9" cy="573.1" r="1.2"/><circle cx="253.2" cy="562.9" r="1.2"/><circle cx="261.3" cy="577.0" r="1.2"/><circle cx="236.9" cy="577.0" r="1.2"/><circle cx="268.1" cy="578.9" r="1.2"/><circle cx="253.7" cy="575.4" r="1.2"/><circle cx="243.1" cy="566.1" r="1.2"/><circle cx="250.0" cy="574.4" r="1.2"/><circle cx="250.8" cy="553.3" r="1.2"/><circle cx="242.2" cy="574.1" r="1.2"/><circle cx="272.3" cy="575.8" r="1.2"/><circle cx="228.3" cy="572.9" r="1.2"/><circle cx="233.9" cy="573.5" r="1.2"/><circle cx="261.8" cy="568.5" r="1.2"/><circle cx="264.2" cy="576.6" r="1.2"/><circle cx="223.5" cy="573.0" r="1.2"/><circle cx="250.1" cy="572.4" r="1.2"/><circle cx="268.4" cy="576.5" r="1.2"/><circle cx="248.6" cy="576.6" r="1.2"/><circle cx="247.6" cy="576.1" r="1.2"/><circle cx="229.0" cy="553.1" r="1.2"/><circle cx="246.1" cy="579.0" r="1.2"/><circle cx="268.8" cy="569.3" r="1.2"/><circle cx="245.6" cy="573.6" r="1.2"/><circle cx="236.5" cy="577.0" r="1.2"/><circle cx="249.9" cy="577.5" r="1.2"/><circle cx="229.0" cy="571.7" r="1.2"/><circle cx="252.3" cy="573.3" r="1.2"/><circle cx="217.4" cy="566.9" r="1.2"/><circle cx="245.4" cy="571.0" r="1.2"/><circle cx="238.1" cy="564.9" r="1.2"/><circle cx="272.5" cy="564.6" r="1.2"/><circle cx="248.3" cy="577.2" r="1.2"/><circle cx="230.8" cy="564.4" r="1.2"/><circle cx="233.9" cy="574.8" r="1.2"/><circle cx="255.4" cy="572.9" r="1.2"/><circle cx="252.0" cy="573.8" r="1.2"/><circle cx="239.3" cy="571.5" r="1.2"/><circle cx="264.2" cy="573.8" r="1.2"/><circle cx="258.0" cy="561.3" r="1.2"/><circle cx="227.8" cy="571.1" r="1.2"/><circle cx="249.7" cy="562.3" r="1.2"/><circle cx="244.8" cy="567.2" r="1.2"/><circle cx="232.7" cy="578.0" r="1.2"/><circle cx="216.0" cy="574.6" r="1.2"/><circle cx="230.0" cy="578.8" r="1.2"/><circle cx="225.4" cy="578.3" r="1.2"/><circle cx="247.3" cy="571.0" r="1.2"/><circle cx="253.2" cy="575.4" r="1.2"/><circle cx="233.8" cy="566.4" r="1.2"/><circle cx="228.6" cy="577.5" r="1.2"/><circle cx="218.8" cy="573.1" r="1.2"/><circle cx="262.4" cy="578.1" r="1.2"/><circle cx="222.7" cy="571.6" r="1.2"/><circle cx="226.9" cy="577.7" r="1.2"/><circle cx="216.5" cy="567.5" r="1.2"/><circle cx="263.9" cy="573.9" r="1.2"/><circle cx="240.2" cy="557.7" r="1.2"/><circle cx="273.3" cy="579.3" r="1.2"/><circle cx="265.2" cy="573.5" r="1.2"/><circle cx="261.6" cy="575.8" r="1.2"/><circle cx="217.2" cy="574.2" r="1.2"/><circle cx="271.2" cy="575.5" r="1.2"/><circle cx="267.7" cy="565.0" r="1.2"/><circle cx="227.9" cy="577.1" r="1.2"/><circle cx="238.2" cy="579.3" r="1.2"/><circle cx="228.4" cy="571.4" r="1.2"/><circle cx="271.3" cy="574.2" r="1.2"/><circle cx="251.5" cy="577.7" r="1.2"/><circle cx="258.7" cy="571.1" r="1.2"/><circle cx="260.2" cy="566.4" r="1.2"/><circle cx="229.6" cy="577.7" r="1.2"/><circle cx="231.2" cy="571.9" r="1.2"/><circle cx="231.7" cy="576.3" r="1.2"/><circle cx="246.8" cy="575.1" r="1.2"/><circle cx="260.5" cy="569.1" r="1.2"/><circle cx="228.6" cy="578.4" r="1.2"/><circle cx="220.1" cy="573.3" r="1.2"/><circle cx="262.7" cy="577.7" r="1.2"/><circle cx="272.8" cy="566.9" r="1.2"/><circle cx="271.9" cy="576.8" r="1.2"/><circle cx="258.3" cy="561.2" r="1.2"/><circle cx="221.1" cy="570.1" r="1.2"/><circle cx="252.4" cy="574.8" r="1.2"/><circle cx="252.7" cy="577.3" r="1.2"/><circle cx="249.4" cy="569.9" r="1.2"/><circle cx="245.3" cy="578.9" r="1.2"/><circle cx="260.9" cy="572.4" r="1.2"/><circle cx="260.4" cy="575.5" r="1.2"/><circle cx="263.8" cy="570.5" r="1.2"/><circle cx="248.1" cy="577.0" r="1.2"/><circle cx="221.1" cy="576.9" r="1.2"/><circle cx="253.8" cy="577.5" r="1.2"/><circle cx="217.2" cy="555.3" r="1.2"/><circle cx="252.4" cy="577.3" r="1.2"/><circle cx="268.9" cy="572.6" r="1.2"/><circle cx="233.2" cy="570.2" r="1.2"/><circle cx="251.3" cy="567.5" r="1.2"/><circle cx="230.8" cy="579.1" r="1.2"/><circle cx="244.7" cy="573.9" r="1.2"/><circle cx="239.6" cy="566.6" r="1.2"/><circle cx="232.2" cy="576.3" r="1.2"/><circle cx="234.5" cy="569.1" r="1.2"/><circle cx="229.9" cy="571.9" r="1.2"/><circle cx="262.2" cy="575.1" r="1.2"/><circle cx="253.1" cy="572.6" r="1.2"/><circle cx="241.8" cy="569.9" r="1.2"/><circle cx="241.4" cy="572.7" r="1.2"/><circle cx="246.9" cy="568.1" r="1.2"/><circle cx="271.9" cy="579.1" r="1.2"/><circle cx="219.3" cy="568.1" r="1.2"/><circle cx="265.2" cy="576.8" r="1.2"/><circle cx="251.3" cy="572.4" r="1.2"/><circle cx="251.1" cy="579.2" r="1.2"/><circle cx="251.6" cy="562.8" r="1.2"/><circle cx="260.7" cy="578.2" r="1.2"/><circle cx="234.1" cy="577.8" r="1.2"/><circle cx="248.7" cy="574.1" r="1.2"/><circle cx="240.4" cy="578.7" r="1.2"/><circle cx="263.6" cy="578.5" r="1.2"/><circle cx="222.3" cy="554.6" r="1.2"/><circle cx="224.0" cy="576.8" r="1.2"/><circle cx="257.7" cy="572.4" r="1.2"/><circle cx="251.7" cy="577.0" r="1.2"/><circle cx="222.8" cy="567.8" r="1.2"/><circle cx="242.4" cy="577.8" r="1.2"/><circle cx="244.3" cy="577.6" r="1.2"/><circle cx="218.0" cy="573.0" r="1.2"/><circle cx="264.6" cy="570.5" r="1.2"/><circle cx="244.1" cy="503.2" r="1.2"/><circle cx="217.9" cy="528.4" r="1.2"/><circle cx="228.1" cy="528.7" r="1.2"/><circle cx="220.3" cy="534.9" r="1.2"/><circle cx="248.3" cy="530.2" r="1.2"/><circle cx="249.8" cy="530.7" r="1.2"/><circle cx="265.3" cy="544.1" r="1.2"/><circle cx="265.8" cy="545.4" r="1.2"/><circle cx="251.6" cy="547.6" r="1.2"/><circle cx="237.3" cy="548.1" r="1.2"/></g>
<g fill="#1597d5"><circle cx="268.9" cy="599.6" r="1.2"/><circle cx="262.4" cy="596.3" r="1.2"/><circle cx="268.7" cy="594.9" r="1.2"/><circle cx="250.8" cy="605.5" r="1.2"/><circle cx="241.2" cy="595.5" r="1.2"/><circle cx="264.0" cy="595.4" r="1.2"/><circle cx="257.3" cy="599.1" r="1.2"/><circle cx="233.7" cy="597.6" r="1.2"/><circle cx="264.2" cy="598.1" r="1.2"/><circle cx="253.9" cy="599.7" r="1.2"/><circle cx="216.0" cy="595.7" r="1.2"/><circle cx="257.3" cy="610.6" r="1.2"/><circle cx="243.8" cy="597.8" r="1.2"/><circle cx="266.5" cy="596.0" r="1.2"/><circle cx="259.3" cy="596.7" r="1.2"/><circle cx="223.3" cy="600.6" r="1.2"/><circle cx="233.8" cy="608.3" r="1.2"/><circle cx="257.3" cy="605.7" r="1.2"/><circle cx="243.1" cy="604.9" r="1.2"/><circle cx="256.1" cy="598.5" r="1.2"/><circle cx="252.2" cy="607.3" r="1.2"/><circle cx="217.8" cy="599.1" r="1.2"/><circle cx="225.6" cy="595.8" r="1.2"/><circle cx="248.3" cy="595.9" r="1.2"/><circle cx="274.1" cy="602.9" r="1.2"/><circle cx="221.2" cy="601.6" r="1.2"/><circle cx="244.1" cy="613.5" r="1.2"/><circle cx="223.5" cy="601.4" r="1.2"/><circle cx="228.2" cy="599.8" r="1.2"/><circle cx="239.1" cy="597.5" r="1.2"/><circle cx="268.2" cy="604.1" r="1.2"/><circle cx="258.1" cy="617.4" r="1.2"/><circle cx="229.4" cy="598.4" r="1.2"/><circle cx="244.7" cy="602.5" r="1.2"/><circle cx="237.7" cy="600.0" r="1.2"/><circle cx="267.0" cy="596.1" r="1.2"/><circle cx="235.0" cy="609.9" r="1.2"/><circle cx="257.6" cy="595.7" r="1.2"/><circle cx="265.8" cy="600.4" r="1.2"/><circle cx="258.0" cy="596.0" r="1.2"/><circle cx="231.5" cy="597.6" r="1.2"/><circle cx="227.9" cy="600.7" r="1.2"/><circle cx="217.5" cy="611.8" r="1.2"/><circle cx="273.2" cy="594.9" r="1.2"/><circle cx="270.0" cy="599.5" r="1.2"/><circle cx="225.0" cy="597.1" r="1.2"/><circle cx="247.2" cy="596.6" r="1.2"/><circle cx="264.6" cy="613.4" r="1.2"/><circle cx="254.9" cy="596.8" r="1.2"/><circle cx="267.7" cy="602.4" r="1.2"/><circle cx="250.2" cy="595.3" r="1.2"/><circle cx="248.2" cy="610.5" r="1.2"/><circle cx="230.2" cy="612.9" r="1.2"/><circle cx="258.7" cy="609.6" r="1.2"/><circle cx="235.2" cy="617.4" r="1.2"/><circle cx="220.9" cy="597.7" r="1.2"/><circle cx="231.3" cy="605.4" r="1.2"/><circle cx="245.8" cy="600.5" r="1.2"/><circle cx="227.3" cy="595.2" r="1.2"/><circle cx="245.9" cy="595.3" r="1.2"/><circle cx="223.6" cy="598.2" r="1.2"/><circle cx="273.8" cy="598.5" r="1.2"/><circle cx="225.7" cy="595.2" r="1.2"/><circle cx="269.4" cy="597.8" r="1.2"/><circle cx="241.9" cy="597.9" r="1.2"/><circle cx="248.9" cy="603.9" r="1.2"/><circle cx="241.1" cy="607.2" r="1.2"/><circle cx="249.7" cy="597.6" r="1.2"/><circle cx="239.4" cy="596.5" r="1.2"/><circle cx="217.4" cy="608.3" r="1.2"/><circle cx="267.4" cy="599.8" r="1.2"/><circle cx="226.6" cy="595.5" r="1.2"/><circle cx="264.8" cy="608.4" r="1.2"/><circle cx="256.6" cy="598.8" r="1.2"/><circle cx="258.3" cy="602.9" r="1.2"/><circle cx="270.0" cy="598.4" r="1.2"/><circle cx="227.4" cy="597.8" r="1.2"/><circle cx="237.9" cy="598.1" r="1.2"/><circle cx="218.7" cy="603.1" r="1.2"/><circle cx="274.2" cy="595.4" r="1.2"/><circle cx="250.9" cy="595.7" r="1.2"/><circle cx="251.5" cy="597.4" r="1.2"/><circle cx="243.2" cy="597.0" r="1.2"/><circle cx="247.6" cy="596.1" r="1.2"/><circle cx="223.4" cy="605.6" r="1.2"/><circle cx="241.5" cy="599.1" r="1.2"/><circle cx="273.5" cy="595.7" r="1.2"/><circle cx="245.2" cy="598.7" r="1.2"/><circle cx="264.7" cy="595.2" r="1.2"/><circle cx="219.8" cy="595.2" r="1.2"/><circle cx="217.9" cy="613.6" r="1.2"/><circle cx="261.1" cy="600.7" r="1.2"/><circle cx="236.0" cy="596.6" r="1.2"/><circle cx="260.6" cy="600.6" r="1.2"/><circle cx="264.7" cy="595.0" r="1.2"/><circle cx="242.5" cy="596.5" r="1.2"/><circle cx="221.2" cy="604.3" r="1.2"/><circle cx="231.9" cy="597.1" r="1.2"/><circle cx="253.3" cy="598.4" r="1.2"/><circle cx="263.4" cy="597.3" r="1.2"/><circle cx="234.4" cy="604.7" r="1.2"/><circle cx="223.2" cy="595.1" r="1.2"/><circle cx="230.7" cy="601.5" r="1.2"/><circle cx="255.2" cy="606.5" r="1.2"/><circle cx="241.4" cy="598.5" r="1.2"/><circle cx="241.2" cy="597.1" r="1.2"/><circle cx="256.4" cy="599.1" r="1.2"/><circle cx="260.5" cy="604.3" r="1.2"/><circle cx="222.1" cy="598.6" r="1.2"/><circle cx="256.2" cy="597.1" r="1.2"/><circle cx="249.3" cy="598.6" r="1.2"/><circle cx="243.8" cy="599.5" r="1.2"/><circle cx="223.8" cy="595.4" r="1.2"/><circle cx="232.4" cy="595.7" r="1.2"/><circle cx="230.9" cy="606.8" r="1.2"/><circle cx="220.2" cy="610.4" r="1.2"/><circle cx="230.7" cy="596.8" r="1.2"/><circle cx="272.1" cy="599.6" r="1.2"/><circle cx="260.1" cy="597.9" r="1.2"/><circle cx="268.4" cy="612.0" r="1.2"/><circle cx="228.3" cy="595.7" r="1.2"/><circle cx="240.8" cy="597.9" r="1.2"/><circle cx="243.9" cy="614.4" r="1.2"/><circle cx="251.3" cy="598.7" r="1.2"/><circle cx="269.1" cy="594.7" r="1.2"/><circle cx="254.0" cy="612.1" r="1.2"/><circle cx="253.1" cy="596.8" r="1.2"/><circle cx="216.6" cy="598.2" r="1.2"/><circle cx="227.3" cy="600.7" r="1.2"/><circle cx="267.4" cy="596.8" r="1.2"/><circle cx="245.9" cy="598.3" r="1.2"/><circle cx="266.3" cy="612.0" r="1.2"/><circle cx="244.3" cy="616.0" r="1.2"/><circle cx="223.5" cy="596.3" r="1.2"/><circle cx="271.0" cy="598.6" r="1.2"/><circle cx="245.5" cy="597.0" r="1.2"/><circle cx="226.5" cy="609.3" r="1.2"/><circle cx="249.7" cy="600.8" r="1.2"/><circle cx="234.8" cy="597.4" r="1.2"/><circle cx="250.3" cy="601.9" r="1.2"/><circle cx="249.5" cy="613.7" r="1.2"/><circle cx="226.3" cy="603.6" r="1.2"/><circle cx="271.4" cy="605.6" r="1.2"/><circle cx="260.1" cy="595.6" r="1.2"/><circle cx="247.9" cy="599.1" r="1.2"/><circle cx="244.8" cy="594.7" r="1.2"/><circle cx="270.3" cy="602.7" r="1.2"/><circle cx="231.0" cy="601.7" r="1.2"/><circle cx="244.7" cy="601.8" r="1.2"/><circle cx="273.2" cy="608.6" r="1.2"/><circle cx="244.2" cy="599.0" r="1.2"/><circle cx="218.4" cy="605.1" r="1.2"/><circle cx="256.4" cy="595.8" r="1.2"/><circle cx="242.9" cy="595.6" r="1.2"/><circle cx="249.2" cy="603.1" r="1.2"/><circle cx="252.5" cy="594.8" r="1.2"/><circle cx="222.6" cy="600.3" r="1.2"/><circle cx="233.5" cy="609.8" r="1.2"/><circle cx="229.8" cy="609.9" r="1.2"/><circle cx="248.6" cy="613.1" r="1.2"/><circle cx="259.8" cy="595.5" r="1.2"/><circle cx="225.6" cy="599.7" r="1.2"/><circle cx="223.4" cy="595.4" r="1.2"/><circle cx="235.5" cy="610.5" r="1.2"/><circle cx="250.9" cy="595.4" r="1.2"/><circle cx="256.3" cy="609.3" r="1.2"/><circle cx="232.8" cy="595.6" r="1.2"/><circle cx="247.9" cy="595.4" r="1.2"/><circle cx="224.4" cy="598.2" r="1.2"/><circle cx="253.8" cy="596.4" r="1.2"/><circle cx="269.9" cy="612.2" r="1.2"/><circle cx="253.4" cy="597.7" r="1.2"/><circle cx="224.5" cy="599.0" r="1.2"/><circle cx="240.2" cy="595.5" r="1.2"/><circle cx="251.8" cy="601.3" r="1.2"/><circle cx="251.7" cy="596.4" r="1.2"/><circle cx="232.8" cy="602.3" r="1.2"/><circle cx="261.7" cy="599.9" r="1.2"/><circle cx="267.9" cy="605.5" r="1.2"/><circle cx="263.2" cy="596.8" r="1.2"/><circle cx="270.9" cy="595.4" r="1.2"/><circle cx="245.6" cy="598.3" r="1.2"/><circle cx="265.7" cy="604.3" r="1.2"/><circle cx="226.6" cy="600.3" r="1.2"/><circle cx="220.8" cy="596.1" r="1.2"/><circle cx="218.2" cy="596.0" r="1.2"/><circle cx="252.3" cy="595.0" r="1.2"/><circle cx="254.3" cy="596.6" r="1.2"/><circle cx="243.4" cy="608.3" r="1.2"/><circle cx="268.2" cy="597.3" r="1.2"/><circle cx="234.9" cy="595.5" r="1.2"/><circle cx="264.4" cy="596.0" r="1.2"/><circle cx="265.2" cy="609.4" r="1.2"/><circle cx="234.1" cy="613.2" r="1.2"/><circle cx="263.8" cy="595.7" r="1.2"/><circle cx="267.8" cy="602.7" r="1.2"/><circle cx="267.2" cy="606.3" r="1.2"/><circle cx="217.9" cy="596.6" r="1.2"/><circle cx="266.4" cy="596.7" r="1.2"/><circle cx="249.3" cy="595.2" r="1.2"/><circle cx="251.7" cy="597.9" r="1.2"/><circle cx="274.2" cy="600.0" r="1.2"/><circle cx="233.4" cy="614.2" r="1.2"/><circle cx="242.1" cy="599.0" r="1.2"/><circle cx="266.0" cy="599.0" r="1.2"/><circle cx="271.3" cy="594.7" r="1.2"/><circle cx="245.8" cy="599.7" r="1.2"/><circle cx="267.8" cy="599.8" r="1.2"/><circle cx="273.1" cy="595.2" r="1.2"/><circle cx="225.3" cy="597.0" r="1.2"/><circle cx="252.9" cy="602.2" r="1.2"/><circle cx="235.8" cy="594.7" r="1.2"/><circle cx="267.6" cy="598.9" r="1.2"/><circle cx="221.5" cy="597.1" r="1.2"/><circle cx="274.2" cy="595.7" r="1.2"/><circle cx="233.5" cy="595.4" r="1.2"/><circle cx="232.6" cy="618.6" r="1.2"/><circle cx="262.5" cy="601.5" r="1.2"/><circle cx="232.0" cy="595.7" r="1.2"/><circle cx="268.6" cy="599.9" r="1.2"/><circle cx="216.4" cy="600.0" r="1.2"/><circle cx="242.4" cy="603.1" r="1.2"/><circle cx="217.7" cy="597.8" r="1.2"/><circle cx="265.1" cy="595.3" r="1.2"/><circle cx="235.0" cy="595.0" r="1.2"/><circle cx="225.6" cy="596.6" r="1.2"/><circle cx="261.8" cy="595.8" r="1.2"/><circle cx="257.8" cy="596.9" r="1.2"/><circle cx="248.0" cy="595.2" r="1.2"/><circle cx="268.2" cy="616.7" r="1.2"/><circle cx="242.5" cy="600.3" r="1.2"/><circle cx="256.1" cy="601.9" r="1.2"/><circle cx="268.2" cy="599.5" r="1.2"/><circle cx="246.5" cy="611.3" r="1.2"/><circle cx="228.2" cy="595.7" r="1.2"/><circle cx="261.1" cy="597.1" r="1.2"/><circle cx="246.0" cy="602.7" r="1.2"/><circle cx="236.6" cy="597.2" r="1.2"/><circle cx="262.2" cy="596.4" r="1.2"/><circle cx="233.1" cy="598.8" r="1.2"/><circle cx="224.9" cy="615.1" r="1.2"/><circle cx="244.6" cy="600.9" r="1.2"/><circle cx="236.7" cy="601.1" r="1.2"/><circle cx="247.5" cy="595.3" r="1.2"/><circle cx="258.1" cy="597.9" r="1.2"/><circle cx="251.9" cy="597.7" r="1.2"/><circle cx="237.9" cy="595.2" r="1.2"/><circle cx="218.5" cy="598.9" r="1.2"/><circle cx="227.3" cy="594.7" r="1.2"/><circle cx="251.1" cy="598.6" r="1.2"/><circle cx="272.2" cy="595.8" r="1.2"/><circle cx="234.7" cy="603.8" r="1.2"/><circle cx="267.1" cy="598.1" r="1.2"/><circle cx="219.6" cy="602.8" r="1.2"/><circle cx="264.7" cy="608.1" r="1.2"/><circle cx="263.8" cy="598.5" r="1.2"/><circle cx="223.4" cy="598.5" r="1.2"/><circle cx="225.5" cy="598.8" r="1.2"/><circle cx="268.3" cy="595.8" r="1.2"/><circle cx="221.8" cy="596.2" r="1.2"/><circle cx="225.3" cy="604.0" r="1.2"/><circle cx="227.4" cy="595.0" r="1.2"/><circle cx="267.0" cy="596.5" r="1.2"/><circle cx="250.2" cy="598.9" r="1.2"/><circle cx="267.7" cy="595.7" r="1.2"/><circle cx="231.2" cy="598.2" r="1.2"/><circle cx="262.4" cy="596.2" r="1.2"/><circle cx="250.2" cy="597.6" r="1.2"/><circle cx="249.8" cy="605.8" r="1.2"/><circle cx="252.1" cy="595.1" r="1.2"/><circle cx="237.9" cy="597.0" r="1.2"/><circle cx="270.9" cy="598.5" r="1.2"/><circle cx="265.0" cy="596.5" r="1.2"/><circle cx="272.5" cy="597.1" r="1.2"/><circle cx="237.6" cy="600.9" r="1.2"/><circle cx="268.5" cy="599.5" r="1.2"/><circle cx="254.5" cy="598.1" r="1.2"/><circle cx="251.6" cy="603.8" r="1.2"/><circle cx="261.7" cy="598.4" r="1.2"/><circle cx="256.4" cy="594.8" r="1.2"/><circle cx="254.7" cy="606.6" r="1.2"/><circle cx="222.0" cy="604.2" r="1.2"/><circle cx="270.1" cy="595.1" r="1.2"/><circle cx="257.2" cy="595.8" r="1.2"/><circle cx="257.4" cy="595.4" r="1.2"/><circle cx="239.5" cy="608.1" r="1.2"/><circle cx="273.8" cy="601.0" r="1.2"/><circle cx="227.0" cy="604.3" r="1.2"/><circle cx="237.6" cy="594.7" r="1.2"/><circle cx="257.5" cy="608.4" r="1.2"/><circle cx="251.2" cy="595.9" r="1.2"/><circle cx="251.5" cy="598.9" r="1.2"/><circle cx="265.1" cy="596.9" r="1.2"/><circle cx="236.1" cy="601.2" r="1.2"/><circle cx="272.6" cy="607.0" r="1.2"/><circle cx="224.3" cy="595.5" r="1.2"/><circle cx="244.0" cy="594.8" r="1.2"/><circle cx="246.3" cy="600.8" r="1.2"/><circle cx="235.6" cy="597.2" r="1.2"/><circle cx="257.0" cy="604.3" r="1.2"/><circle cx="236.8" cy="682.4" r="1.2"/><circle cx="223.1" cy="640.7" r="1.2"/><circle cx="249.8" cy="638.7" r="1.2"/><circle cx="259.3" cy="648.0" r="1.2"/><circle cx="265.8" cy="643.7" r="1.2"/><circle cx="265.3" cy="634.3" r="1.2"/><circle cx="241.1" cy="628.5" r="1.2"/><circle cx="236.3" cy="626.0" r="1.2"/><circle cx="231.3" cy="626.8" r="1.2"/></g>
<text x="215.00" y="513.10">n=133</text>
<text x="218.00" y="677.30">n=88</text>
<text x="280.00" y="488.20" font-size="9.5" font-weight="bold">g</text>
<text x="369.00" y="492.00" text-anchor="middle">24h</text>
<text x="563.20" y="492.30" text-anchor="middle">48h</text>
<rect x="295.50" y="507.60" width="158.73" height="6.40" fill="#e0735c"/>
<rect x="295.50" y="523.25" width="139.30" height="6.40" fill="#e0735c"/>
<rect x="295.50" y="538.90" width="130.43" height="6.40" fill="#e0735c"/>
<rect x="295.50" y="554.55" width="102.12" height="6.40" fill="#e0735c"/>
<rect x="295.50" y="570.20" width="99.34" height="6.40" fill="#e0735c"/>
<text x="297.50" y="506.20">NOD−like receptor signaling pathway</text>
<text x="297.50" y="521.85">NF−kappa B signaling pathway</text>
<text x="297.50" y="537.50">TNF signaling pathway</text>
<text x="297.50" y="553.15">Calcium signaling pathway</text>
<text x="297.50" y="568.80">cGMP−PKG signaling pathway</text>
<line x1="295.50" y1="499.80" x2="295.50" y2="580.83" stroke="#111" stroke-width="1.45"/>
<line x1="294.77" y1="580.10" x2="455.20" y2="580.10" stroke="#111" stroke-width="1.45"/>
<line x1="295.50" y1="580.10" x2="295.50" y2="582.70" stroke="#111" stroke-width="1"/>
<text x="295.50" y="591.40" text-anchor="middle">0</text>
<line x1="351.00" y1="580.10" x2="351.00" y2="582.70" stroke="#111" stroke-width="1"/>
<text x="351.00" y="591.40" text-anchor="middle">1</text>
<line x1="406.50" y1="580.10" x2="406.50" y2="582.70" stroke="#111" stroke-width="1"/>
<text x="406.50" y="591.40" text-anchor="middle">2</text>
<rect x="295.50" y="623.40" width="128.21" height="6.60" fill="#72bcd8"/>
<rect x="295.50" y="639.30" width="82.14" height="6.60" fill="#72bcd8"/>
<rect x="295.50" y="655.20" width="78.81" height="6.60" fill="#72bcd8"/>
<text x="298.10" y="621.90">Apelin signaling pathway</text>
<text x="298.10" y="637.80">VEGF signaling pathway</text>
<text x="298.10" y="653.70">Notch signaling pathway</text>
<line x1="295.50" y1="614.60" x2="295.50" y2="665.73" stroke="#111" stroke-width="1.45"/>
<line x1="294.77" y1="665.00" x2="477.00" y2="665.00" stroke="#111" stroke-width="1.45"/>
<line x1="295.50" y1="665.00" x2="295.50" y2="667.60" stroke="#111" stroke-width="1"/>
<text x="295.50" y="675.90" text-anchor="middle">0</text>
<line x1="351.00" y1="665.00" x2="351.00" y2="667.60" stroke="#111" stroke-width="1"/>
<text x="351.00" y="675.90" text-anchor="middle">1</text>
<line x1="406.50" y1="665.00" x2="406.50" y2="667.60" stroke="#111" stroke-width="1"/>
<text x="406.50" y="675.90" text-anchor="middle">2</text>
<text x="380.70" y="686.60" text-anchor="middle">−Log10(pvalue)</text>
<rect x="485.70" y="569.90" width="158.44" height="7.00" fill="#e0735c"/>
<text x="487.70" y="568.50">PPAR signaling pathway</text>
<line x1="485.70" y1="561.30" x2="485.70" y2="581.52" stroke="#111" stroke-width="1.45"/>
<line x1="484.97" y1="580.80" x2="644.20" y2="580.80" stroke="#111" stroke-width="1.45"/>
<line x1="485.70" y1="580.80" x2="485.70" y2="583.40" stroke="#111" stroke-width="1"/>
<text x="485.70" y="591.40" text-anchor="middle">0</text>
<line x1="541.10" y1="580.80" x2="541.10" y2="583.40" stroke="#111" stroke-width="1"/>
<text x="541.10" y="591.40" text-anchor="middle">1</text>
<line x1="596.50" y1="580.80" x2="596.50" y2="583.40" stroke="#111" stroke-width="1"/>
<text x="596.50" y="591.40" text-anchor="middle">2</text>
<rect x="482.00" y="638.80" width="158.37" height="6.70" fill="#72bcd8"/>
<rect x="482.00" y="655.20" width="140.87" height="6.70" fill="#72bcd8"/>
<text x="484.00" y="638.10">Hippo signaling pathway</text>
<text x="484.00" y="653.70">p53 signaling pathway</text>
<line x1="482.00" y1="630.40" x2="482.00" y2="666.23" stroke="#111" stroke-width="1.45"/>
<line x1="481.27" y1="665.50" x2="640.40" y2="665.50" stroke="#111" stroke-width="1.45"/>
<line x1="482.00" y1="665.50" x2="482.00" y2="668.10" stroke="#111" stroke-width="1"/>
<text x="482.00" y="677.00" text-anchor="middle">0</text>
<line x1="556.88" y1="665.50" x2="556.88" y2="668.10" stroke="#111" stroke-width="1"/>
<text x="556.88" y="677.00" text-anchor="middle">0.8</text>
<line x1="631.76" y1="665.50" x2="631.76" y2="668.10" stroke="#111" stroke-width="1"/>
<text x="631.76" y="677.00" text-anchor="middle">1.6</text>
<text x="568.00" y="686.60" text-anchor="middle">−Log10(pvalue)</text>
<text x="2.50" y="711.50" font-size="9.5" font-weight="bold">h</text>
<text x="34.30" y="791.00" font-size="9.5" text-anchor="middle" transform="rotate(-90 34.30 791.00)">log2 FC over WT upon MDA5 induction</text>
<line x1="54.60" y1="728.00" x2="57.00" y2="728.00" stroke="#111" stroke-width="1"/>
<text x="53.60" y="731.40" font-size="9.5" text-anchor="end">3</text>
<line x1="54.60" y1="752.80" x2="57.00" y2="752.80" stroke="#111" stroke-width="1"/>
<text x="53.60" y="756.20" font-size="9.5" text-anchor="end">2</text>
<line x1="54.60" y1="777.60" x2="57.00" y2="777.60" stroke="#111" stroke-width="1"/>
<text x="53.60" y="781.00" font-size="9.5" text-anchor="end">1</text>
<line x1="54.60" y1="802.40" x2="57.00" y2="802.40" stroke="#111" stroke-width="1"/>
<text x="53.60" y="805.80" font-size="9.5" text-anchor="end">0</text>
<line x1="54.60" y1="827.20" x2="57.00" y2="827.20" stroke="#111" stroke-width="1"/>
<text x="53.60" y="830.60" font-size="9.5" text-anchor="end">-1</text>
<line x1="54.60" y1="852.00" x2="57.00" y2="852.00" stroke="#111" stroke-width="1"/>
<text x="53.60" y="855.40" font-size="9.5" text-anchor="end">-2</text>
<line x1="54.60" y1="876.80" x2="57.00" y2="876.80" stroke="#111" stroke-width="1"/>
<text x="53.60" y="880.20" font-size="9.5" text-anchor="end">-3</text>
<rect x="57.00" y="704.60" width="101.20" height="14.40" fill="#dedede" stroke="#111" stroke-width="1.2"/>
<text x="107.60" y="714.80" text-anchor="middle">pluripotency</text>
<rect x="57.00" y="719.00" width="101.20" height="157.50" fill="#fff" stroke="#111" stroke-width="1.2"/>
<rect x="59.90" y="802.40" width="4.90" height="57.54" fill="#a9c2e6"/>
<rect x="66.25" y="802.40" width="4.90" height="25.30" fill="#7da3da"/>
<rect x="72.60" y="802.40" width="4.90" height="57.54" fill="#2358a5"/>
<rect x="85.40" y="802.40" width="4.90" height="44.39" fill="#a9c2e6"/>
<rect x="91.75" y="802.40" width="4.90" height="35.71" fill="#7da3da"/>
<rect x="98.10" y="802.40" width="4.90" height="38.44" fill="#2358a5"/>
<rect x="111.00" y="802.40" width="4.90" height="2.98" fill="#a9c2e6"/>
<rect x="117.35" y="802.40" width="4.90" height="4.96" fill="#7da3da"/>
<rect x="123.70" y="802.40" width="4.90" height="1.24" fill="#2358a5"/>
<rect x="136.50" y="800.66" width="4.90" height="1.74" fill="#a9c2e6"/>
<rect x="142.85" y="799.67" width="4.90" height="2.73" fill="#7da3da"/>
<rect x="149.20" y="802.40" width="4.90" height="0.00" fill="#2358a5"/>
<line x1="57.00" y1="802.40" x2="158.20" y2="802.40" stroke="#111" stroke-width="1.7"/>
<circle cx="62.35" cy="854.70" r="1.15" fill="#8d9299" stroke="#151515" stroke-width="0.7"/>
<circle cx="62.35" cy="864.30" r="1.15" fill="#8d9299" stroke="#151515" stroke-width="0.7"/>
<circle cx="68.70" cy="800.10" r="1.15" fill="#8d9299" stroke="#151515" stroke-width="0.7"/>
<circle cx="68.70" cy="855.00" r="1.15" fill="#8d9299" stroke="#151515" stroke-width="0.7"/>
<circle cx="75.05" cy="858.50" r="1.15" fill="#8d9299" stroke="#151515" stroke-width="0.7"/>
<circle cx="75.05" cy="860.80" r="1.15" fill="#8d9299" stroke="#151515" stroke-width="0.7"/>
<text x="63.10" y="798.00" font-size="8.8" transform="rotate(-45 63.10 798.00)">MYC</text>
<circle cx="87.85" cy="842.40" r="1.15" fill="#8d9299" stroke="#151515" stroke-width="0.7"/>
<circle cx="87.85" cy="850.60" r="1.15" fill="#8d9299" stroke="#151515" stroke-width="0.7"/>
<circle cx="94.20" cy="839.00" r="1.15" fill="#8d9299" stroke="#151515" stroke-width="0.7"/>
<circle cx="100.55" cy="838.00" r="1.15" fill="#8d9299" stroke="#151515" stroke-width="0.7"/>
<circle cx="100.55" cy="843.30" r="1.15" fill="#8d9299" stroke="#151515" stroke-width="0.7"/>
<text x="89.10" y="798.00" font-size="8.8" transform="rotate(-45 89.10 798.00)">KLF5</text>
<circle cx="113.45" cy="802.20" r="1.15" fill="#8d9299" stroke="#151515" stroke-width="0.7"/>
<circle cx="113.45" cy="809.50" r="1.15" fill="#8d9299" stroke="#151515" stroke-width="0.7"/>
<circle cx="119.80" cy="805.40" r="1.15" fill="#8d9299" stroke="#151515" stroke-width="0.7"/>
<circle cx="119.80" cy="807.70" r="1.15" fill="#8d9299" stroke="#151515" stroke-width="0.7"/>
<circle cx="126.15" cy="797.80" r="1.15" fill="#8d9299" stroke="#151515" stroke-width="0.7"/>
<circle cx="126.15" cy="809.70" r="1.15" fill="#8d9299" stroke="#151515" stroke-width="0.7"/>
<text x="112.20" y="798.00" font-size="8.8" transform="rotate(-45 112.20 798.00)">OCT4</text>
<circle cx="138.95" cy="799.20" r="1.15" fill="#8d9299" stroke="#151515" stroke-width="0.7"/>
<circle cx="138.95" cy="803.60" r="1.15" fill="#8d9299" stroke="#151515" stroke-width="0.7"/>
<circle cx="145.30" cy="797.80" r="1.15" fill="#8d9299" stroke="#151515" stroke-width="0.7"/>
<circle cx="145.30" cy="800.70" r="1.15" fill="#8d9299" stroke="#151515" stroke-width="0.7"/>
<circle cx="151.65" cy="802.40" r="1.15" fill="#8d9299" stroke="#151515" stroke-width="0.7"/>
<text x="137.70" y="798.00" font-size="8.8" transform="rotate(-45 137.70 798.00)">SOX2</text>
<rect x="162.80" y="704.60" width="107.60" height="14.40" fill="#dedede" stroke="#111" stroke-width="1.2"/>
<text x="216.60" y="714.80" text-anchor="middle">DNA methylation</text>
<rect x="162.80" y="719.00" width="107.60" height="157.50" fill="#fff" stroke="#111" stroke-width="1.2"/>
<rect x="168.20" y="799.92" width="4.90" height="2.48" fill="#a9c2e6"/>
<rect x="174.55" y="800.91" width="4.90" height="1.49" fill="#7da3da"/>
<rect x="180.90" y="802.40" width="4.90" height="1.49" fill="#2358a5"/>
<rect x="193.00" y="793.47" width="4.90" height="8.93" fill="#a9c2e6"/>
<rect x="199.35" y="789.26" width="4.90" height="13.14" fill="#7da3da"/>
<rect x="205.70" y="791.74" width="4.90" height="10.66" fill="#2358a5"/>
<rect x="218.20" y="783.80" width="4.90" height="18.60" fill="#a9c2e6"/>
<rect x="224.55" y="782.56" width="4.90" height="19.84" fill="#7da3da"/>
<rect x="230.90" y="782.56" width="4.90" height="19.84" fill="#2358a5"/>
<rect x="243.50" y="748.58" width="4.90" height="53.82" fill="#a9c2e6"/>
<rect x="249.85" y="749.08" width="4.90" height="53.32" fill="#7da3da"/>
<rect x="256.20" y="751.56" width="4.90" height="50.84" fill="#2358a5"/>
<line x1="162.80" y1="802.40" x2="270.40" y2="802.40" stroke="#111" stroke-width="1.7"/>
<circle cx="170.65" cy="798.30" r="1.15" fill="#8d9299" stroke="#151515" stroke-width="0.7"/>
<circle cx="170.65" cy="800.10" r="1.15" fill="#8d9299" stroke="#151515" stroke-width="0.7"/>
<circle cx="177.00" cy="800.00" r="1.15" fill="#8d9299" stroke="#151515" stroke-width="0.7"/>
<circle cx="183.35" cy="803.80" r="1.15" fill="#8d9299" stroke="#151515" stroke-width="0.7"/>
<text x="188.70" y="812.20" font-size="8.8" text-anchor="end" transform="rotate(-45 188.70 812.20)">DNMT1</text>
<circle cx="195.45" cy="792.80" r="1.15" fill="#8d9299" stroke="#151515" stroke-width="0.7"/>
<circle cx="195.45" cy="794.30" r="1.15" fill="#8d9299" stroke="#151515" stroke-width="0.7"/>
<circle cx="201.80" cy="787.30" r="1.15" fill="#8d9299" stroke="#151515" stroke-width="0.7"/>
<circle cx="201.80" cy="789.90" r="1.15" fill="#8d9299" stroke="#151515" stroke-width="0.7"/>
<circle cx="208.15" cy="790.60" r="1.15" fill="#8d9299" stroke="#151515" stroke-width="0.7"/>
<circle cx="208.15" cy="793.50" r="1.15" fill="#8d9299" stroke="#151515" stroke-width="0.7"/>
<text x="211.10" y="812.20" font-size="8.8" text-anchor="end" transform="rotate(-45 211.10 812.20)">TET1</text>
<circle cx="220.65" cy="779.00" r="1.15" fill="#8d9299" stroke="#151515" stroke-width="0.7"/>
<circle cx="220.65" cy="788.80" r="1.15" fill="#8d9299" stroke="#151515" stroke-width="0.7"/>
<circle cx="227.00" cy="781.50" r="1.15" fill="#8d9299" stroke="#151515" stroke-width="0.7"/>
<circle cx="227.00" cy="783.30" r="1.15" fill="#8d9299" stroke="#151515" stroke-width="0.7"/>
<circle cx="233.35" cy="782.60" r="1.15" fill="#8d9299" stroke="#151515" stroke-width="0.7"/>
<text x="239.60" y="812.20" font-size="8.8" text-anchor="end" transform="rotate(-45 239.60 812.20)">DNMT3L</text>
<circle cx="245.95" cy="742.40" r="1.15" fill="#8d9299" stroke="#151515" stroke-width="0.7"/>
<circle cx="245.95" cy="754.10" r="1.15" fill="#8d9299" stroke="#151515" stroke-width="0.7"/>
<circle cx="252.30" cy="747.20" r="1.15" fill="#8d9299" stroke="#151515" stroke-width="0.7"/>
<circle cx="252.30" cy="750.50" r="1.15" fill="#8d9299" stroke="#151515" stroke-width="0.7"/>
<circle cx="258.65" cy="749.70" r="1.15" fill="#8d9299" stroke="#151515" stroke-width="0.7"/>
<circle cx="258.65" cy="753.40" r="1.15" fill="#8d9299" stroke="#151515" stroke-width="0.7"/>
<text x="264.90" y="812.20" font-size="8.8" text-anchor="end" transform="rotate(-45 264.90 812.20)">DNMT3A</text>
<rect x="275.20" y="704.60" width="101.80" height="14.40" fill="#dedede" stroke="#111" stroke-width="1.2"/>
<text x="326.10" y="714.80" text-anchor="middle">polycomb</text>
<rect x="275.20" y="719.00" width="101.80" height="157.50" fill="#fff" stroke="#111" stroke-width="1.2"/>
<rect x="279.20" y="802.40" width="4.90" height="0.50" fill="#a9c2e6"/>
<rect x="285.55" y="802.40" width="4.90" height="1.74" fill="#7da3da"/>
<rect x="291.90" y="802.40" width="4.90" height="4.96" fill="#2358a5"/>
<rect x="304.10" y="802.40" width="4.90" height="17.86" fill="#a9c2e6"/>
<rect x="310.45" y="802.40" width="4.90" height="10.17" fill="#7da3da"/>
<rect x="316.80" y="802.40" width="4.90" height="16.86" fill="#2358a5"/>
<rect x="329.60" y="802.40" width="4.90" height="3.22" fill="#a9c2e6"/>
<rect x="335.95" y="802.40" width="4.90" height="4.96" fill="#7da3da"/>
<rect x="342.30" y="802.40" width="4.90" height="3.22" fill="#2358a5"/>
<rect x="355.10" y="802.40" width="4.90" height="4.96" fill="#a9c2e6"/>
<rect x="361.45" y="802.40" width="4.90" height="9.42" fill="#7da3da"/>
<rect x="367.80" y="802.40" width="4.90" height="8.43" fill="#2358a5"/>
<line x1="275.20" y1="802.40" x2="377.00" y2="802.40" stroke="#111" stroke-width="1.7"/>
<circle cx="281.65" cy="803.80" r="1.15" fill="#8d9299" stroke="#151515" stroke-width="0.7"/>
<circle cx="288.00" cy="805.00" r="1.15" fill="#8d9299" stroke="#151515" stroke-width="0.7"/>
<circle cx="294.35" cy="804.00" r="1.15" fill="#8d9299" stroke="#151515" stroke-width="0.7"/>
<circle cx="294.35" cy="812.50" r="1.15" fill="#8d9299" stroke="#151515" stroke-width="0.7"/>
<text x="282.40" y="798.00" font-size="8.8" transform="rotate(-45 282.40 798.00)">SUZ12</text>
<circle cx="306.55" cy="820.20" r="1.15" fill="#8d9299" stroke="#151515" stroke-width="0.7"/>
<circle cx="312.90" cy="811.00" r="1.15" fill="#8d9299" stroke="#151515" stroke-width="0.7"/>
<circle cx="312.90" cy="816.20" r="1.15" fill="#8d9299" stroke="#151515" stroke-width="0.7"/>
<circle cx="319.25" cy="818.00" r="1.15" fill="#8d9299" stroke="#151515" stroke-width="0.7"/>
<text x="307.30" y="798.00" font-size="8.8" transform="rotate(-45 307.30 798.00)">JARID2</text>
<circle cx="332.05" cy="803.80" r="1.15" fill="#8d9299" stroke="#151515" stroke-width="0.7"/>
<circle cx="332.05" cy="810.30" r="1.15" fill="#8d9299" stroke="#151515" stroke-width="0.7"/>
<circle cx="338.40" cy="802.30" r="1.15" fill="#8d9299" stroke="#151515" stroke-width="0.7"/>
<circle cx="338.40" cy="812.50" r="1.15" fill="#8d9299" stroke="#151515" stroke-width="0.7"/>
<circle cx="344.75" cy="803.80" r="1.15" fill="#8d9299" stroke="#151515" stroke-width="0.7"/>
<circle cx="344.75" cy="805.60" r="1.15" fill="#8d9299" stroke="#151515" stroke-width="0.7"/>
<text x="332.80" y="798.00" font-size="8.8" transform="rotate(-45 332.80 798.00)">RING1B</text>
<circle cx="357.55" cy="798.90" r="1.15" fill="#8d9299" stroke="#151515" stroke-width="0.7"/>
<circle cx="357.55" cy="815.10" r="1.15" fill="#8d9299" stroke="#151515" stroke-width="0.7"/>
<circle cx="363.90" cy="806.30" r="1.15" fill="#8d9299" stroke="#151515" stroke-width="0.7"/>
<circle cx="363.90" cy="817.30" r="1.15" fill="#8d9299" stroke="#151515" stroke-width="0.7"/>
<circle cx="370.25" cy="807.50" r="1.15" fill="#8d9299" stroke="#151515" stroke-width="0.7"/>
<circle cx="370.25" cy="813.70" r="1.15" fill="#8d9299" stroke="#151515" stroke-width="0.7"/>
<text x="358.30" y="798.00" font-size="8.8" transform="rotate(-45 358.30 798.00)">SET</text>
<rect x="351.90" y="844.80" width="4.80" height="4.80" fill="#a9c2e6"/>
<text x="358.60" y="850.40" font-size="8.8">8h</text>
<rect x="351.90" y="856.80" width="4.80" height="4.80" fill="#7da3da"/>
<text x="358.60" y="862.40" font-size="8.8">24h</text>
<rect x="351.90" y="868.10" width="4.80" height="4.80" fill="#2358a5"/>
<text x="358.60" y="873.70" font-size="8.8">48h</text>
<text x="425.40" y="712.00" font-size="9.5" font-weight="bold">i</text>
<text x="519.50" y="713.00" font-size="9.6" text-anchor="middle">RNA-seq</text>
<line x1="516.60" y1="721.48" x2="516.60" y2="893.75" stroke="#111" stroke-width="1.4"/>
<line x1="448.15" y1="798.10" x2="630.35" y2="798.10" stroke="#111" stroke-width="1.4"/>
<line x1="516.60" y1="721.98" x2="519.40" y2="721.98" stroke="#111" stroke-width="1"/>
<text x="520.60" y="725.28" font-size="9.4">4</text>
<line x1="516.60" y1="741.01" x2="519.40" y2="741.01" stroke="#111" stroke-width="1"/>
<text x="520.60" y="744.31" font-size="9.4">3</text>
<line x1="516.60" y1="760.04" x2="519.40" y2="760.04" stroke="#111" stroke-width="1"/>
<text x="520.60" y="763.34" font-size="9.4">2</text>
<line x1="516.60" y1="779.07" x2="519.40" y2="779.07" stroke="#111" stroke-width="1"/>
<text x="520.60" y="782.37" font-size="9.4">1</text>
<line x1="516.60" y1="817.13" x2="519.40" y2="817.13" stroke="#111" stroke-width="1"/>
<text x="520.60" y="820.43" font-size="9.4">-1</text>
<line x1="516.60" y1="836.16" x2="519.40" y2="836.16" stroke="#111" stroke-width="1"/>
<text x="520.60" y="839.46" font-size="9.4">-2</text>
<line x1="516.60" y1="855.19" x2="519.40" y2="855.19" stroke="#111" stroke-width="1"/>
<text x="520.60" y="858.49" font-size="9.4">-3</text>
<line x1="516.60" y1="874.22" x2="519.40" y2="874.22" stroke="#111" stroke-width="1"/>
<text x="520.60" y="877.52" font-size="9.4">-4</text>
<line x1="516.60" y1="893.25" x2="519.40" y2="893.25" stroke="#111" stroke-width="1"/>
<text x="520.60" y="896.55" font-size="9.4">-5</text>
<line x1="448.65" y1="798.10" x2="448.65" y2="800.90" stroke="#111" stroke-width="1"/>
<text x="448.15" y="795.50" font-size="9.4" text-anchor="middle">-3</text>
<line x1="471.30" y1="798.10" x2="471.30" y2="800.90" stroke="#111" stroke-width="1"/>
<text x="470.80" y="795.50" font-size="9.4" text-anchor="middle">-2</text>
<line x1="493.95" y1="798.10" x2="493.95" y2="800.90" stroke="#111" stroke-width="1"/>
<text x="493.45" y="795.50" font-size="9.4" text-anchor="middle">-1</text>
<line x1="539.25" y1="798.10" x2="539.25" y2="800.90" stroke="#111" stroke-width="1"/>
<text x="539.25" y="810.30" font-size="9.4" text-anchor="middle">1</text>
<line x1="561.90" y1="798.10" x2="561.90" y2="800.90" stroke="#111" stroke-width="1"/>
<text x="561.90" y="810.30" font-size="9.4" text-anchor="middle">2</text>
<line x1="584.55" y1="798.10" x2="584.55" y2="800.90" stroke="#111" stroke-width="1"/>
<text x="584.55" y="810.30" font-size="9.4" text-anchor="middle">3</text>
<line x1="607.20" y1="798.10" x2="607.20" y2="800.90" stroke="#111" stroke-width="1"/>
<text x="607.20" y="810.30" font-size="9.4" text-anchor="middle">4</text>
<line x1="629.85" y1="798.10" x2="629.85" y2="800.90" stroke="#111" stroke-width="1"/>
<text x="629.85" y="810.30" font-size="9.4" text-anchor="middle">5</text>
<text x="640.70" y="801.60" font-size="9.6">ChEP-MS</text>
<line x1="460.00" y1="825.50" x2="604.00" y2="760.70" stroke="#777" stroke-width="0.6"/>
<text x="607.70" y="759.60" font-size="9.6">r = 0.46</text>
<text x="607.70" y="769.00" font-size="9.6">p<tspan font-size="5.5" dy="1.6">val</tspan><tspan dy="-1.6"> = 0.003</tspan></text>
<text x="546.50" y="767.30" font-size="9.8">DNMT3A</text>
<text x="563.80" y="787.90" font-size="9.8">DDX58</text>
<text x="542.50" y="795.00" font-size="9.8">VIM</text>
<text x="420.30" y="821.30" font-size="9.8">CDKN1C</text>
<text x="480.40" y="824.80" font-size="9.8">EPHA2</text>
<g fill="#111"><circle cx="583.2" cy="733.7" r="1.75"/><circle cx="491.7" cy="770.2" r="1.75"/><circle cx="562.5" cy="770.2" r="1.75"/><circle cx="563.0" cy="779.2" r="1.75"/><circle cx="484.5" cy="787.2" r="1.75"/><circle cx="530.5" cy="787.5" r="1.75"/><circle cx="535.5" cy="786.7" r="1.75"/><circle cx="537.7" cy="782.5" r="1.75"/><circle cx="541.0" cy="784.5" r="1.75"/><circle cx="539.5" cy="788.0" r="1.75"/><circle cx="545.0" cy="781.7" r="1.75"/><circle cx="555.2" cy="784.0" r="1.75"/><circle cx="604.7" cy="783.7" r="1.75"/><circle cx="531.7" cy="807.7" r="1.75"/><circle cx="536.2" cy="807.7" r="1.75"/><circle cx="541.7" cy="808.0" r="1.75"/><circle cx="556.5" cy="812.2" r="1.75"/><circle cx="460.7" cy="809.0" r="1.75"/><circle cx="462.5" cy="810.0" r="1.75"/><circle cx="463.7" cy="814.5" r="1.75"/><circle cx="465.0" cy="822.5" r="1.75"/><circle cx="465.7" cy="825.7" r="1.75"/><circle cx="469.5" cy="828.7" r="1.75"/><circle cx="470.5" cy="831.2" r="1.75"/><circle cx="477.0" cy="820.0" r="1.75"/><circle cx="478.0" cy="822.5" r="1.75"/><circle cx="478.5" cy="825.5" r="1.75"/><circle cx="483.2" cy="808.0" r="1.75"/><circle cx="490.0" cy="808.7" r="1.75"/><circle cx="492.5" cy="808.0" r="1.75"/><circle cx="494.2" cy="809.2" r="1.75"/><circle cx="495.7" cy="810.0" r="1.75"/><circle cx="499.5" cy="808.0" r="1.75"/><circle cx="503.2" cy="810.0" r="1.75"/><circle cx="504.2" cy="808.2" r="1.75"/><circle cx="502.5" cy="811.2" r="1.75"/><circle cx="460.7" cy="845.0" r="1.75"/><circle cx="461.7" cy="847.5" r="1.75"/><circle cx="460.7" cy="885.7" r="1.75"/></g>
<text x="3.00" y="897.30" font-size="9.5" font-weight="bold">j</text>
<text x="50.80" y="922.50" font-size="9.5" text-anchor="middle" transform="rotate(-90 50.80 922.50)">reactome</text>
<rect x="56.20" y="907.00" width="159.97" height="6.30" fill="#e0735c"/>
<rect x="56.20" y="933.60" width="156.24" height="6.30" fill="#e0735c"/>
<text x="59.40" y="905.00">innate immune system</text>
<text x="57.70" y="930.70">cytokine signalling in immune system</text>
<line x1="56.20" y1="897.80" x2="56.20" y2="951.73" stroke="#111" stroke-width="1.45"/>
<line x1="55.48" y1="951.00" x2="216.30" y2="951.00" stroke="#111" stroke-width="1.45"/>
<line x1="56.20" y1="951.00" x2="56.20" y2="953.60" stroke="#111" stroke-width="1"/>
<text x="56.20" y="965.00" text-anchor="middle">0</text>
<line x1="91.75" y1="951.00" x2="91.75" y2="953.60" stroke="#111" stroke-width="1"/>
<text x="91.75" y="965.00" text-anchor="middle">1</text>
<line x1="127.30" y1="951.00" x2="127.30" y2="953.60" stroke="#111" stroke-width="1"/>
<text x="127.30" y="965.00" text-anchor="middle">2</text>
<line x1="162.85" y1="951.00" x2="162.85" y2="953.60" stroke="#111" stroke-width="1"/>
<text x="162.85" y="965.00" text-anchor="middle">3</text>
<line x1="198.40" y1="951.00" x2="198.40" y2="953.60" stroke="#111" stroke-width="1"/>
<text x="198.40" y="965.00" text-anchor="middle">4</text>
<text x="134.00" y="979.40" text-anchor="middle">−Log10(pvalue)</text>
</svg>
</body></html>
